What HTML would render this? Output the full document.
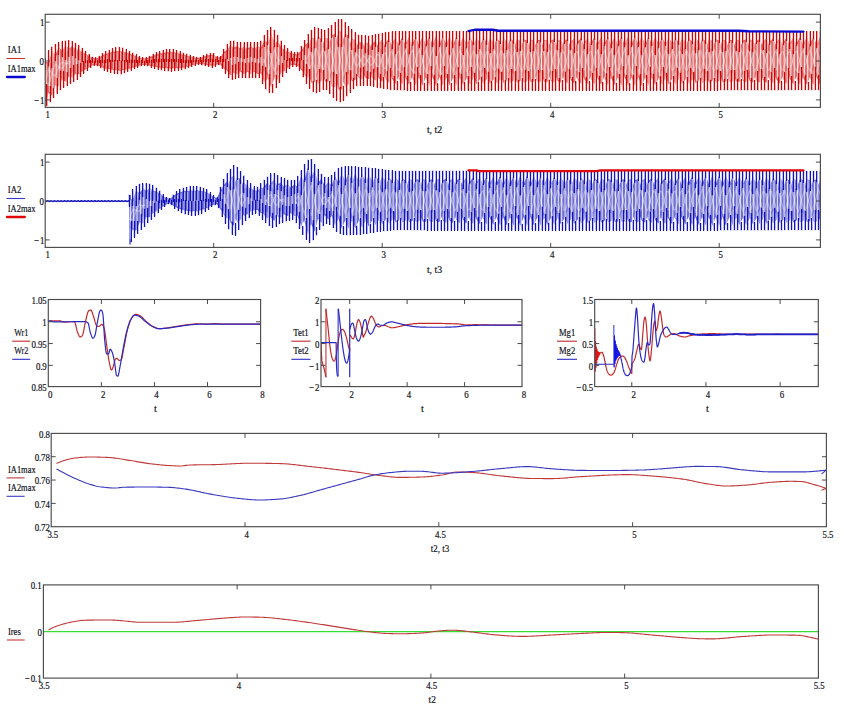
<!DOCTYPE html>
<html lang="en">
<head>
<meta charset="utf-8">
<title>Plots</title>
<style>html,body{margin:0;padding:0;background:#fff}svg{display:block}text{stroke:#14141c;stroke-width:.2px}</style>
</head>
<body>
<svg width="844" height="710" viewBox="0 0 844 710" font-family="'Liberation Serif', 'Times New Roman', serif" fill="#14141c">
<rect width="844" height="710" fill="#ffffff"/>
<defs><clipPath id="c0"><rect x="45.2" y="14.3" width="775.2" height="93.4"/></clipPath><clipPath id="c140"><rect x="45.2" y="154.3" width="775.2" height="93.4"/></clipPath></defs>
<g clip-path="url(#c0)">
<polygon points="45.2,73.69 48.57,61.87 51.94,51.34 55.31,54.44 58.68,57.43 62.05,51.22 65.42,45.52 68.79,48.32 72.16,51.73 75.53,49.89 78.9,48.91 82.27,51.85 85.64,54.16 89.01,56.07 92.38,57.96 95.75,58.54 99.12,57.42 102.49,55.53 105.86,53.88 109.23,52.92 112.6,52.49 115.97,51.8 119.34,50.81 122.71,51.41 126.08,52.83 129.45,53.84 132.82,55 136.19,56.39 139.56,57.7 142.93,58.5 146.3,58.38 149.67,57.29 153.04,55.8 156.41,54.5 159.78,53.71 163.15,52.98 166.52,52.55 169.89,52.37 173.26,52.31 176.63,53 180,54 183.37,54.94 186.74,55.74 190.11,56.64 193.48,57.45 196.85,57.99 200.22,58 203.59,56.63 206.96,55.56 210.33,54.99 213.7,54.95 217.07,57.57 220.44,57.56 223.81,52.59 227.18,49.47 230.55,45.16 233.92,47.8 237.29,50.58 240.66,48.63 244.03,46.44 247.4,48.4 250.77,50.52 254.14,48.61 257.51,46.48 260.88,47.5 264.25,51.52 267.62,45.03 270.99,33.5 274.36,41.86 277.73,50.03 281.1,48.31 284.47,49.19 287.84,51.63 291.21,53.18 294.58,54.33 297.95,54.19 301.32,50.23 304.69,49.55 308.06,47.12 311.43,37.66 314.8,38.28 318.17,48.13 321.54,46.71 324.91,38.21 328.28,38.35 331.65,46.81 335.02,44.99 338.39,31.48 341.76,31.18 345.13,44.64 348.5,47.04 351.87,39.12 355.24,40.09 358.61,47.52 361.98,49.1 365.35,43.67 368.72,42.14 372.09,47.65 375.46,49.82 378.83,43.04 382.2,39.62 385.57,46.81 388.94,50.78 392.31,42.55 395.68,37.58 399.05,46.1 402.42,51.6 405.79,42.99 409.16,36.85 412.53,45.48 415.9,52.24 419.27,43.57 422.64,36.18 426.01,44.86 429.38,52.86 432.75,44.16 436.12,35.55 439.49,44.25 442.86,52.95 446.23,44.77 449.6,36.07 452.97,43.64 456.34,52.34 459.71,45.38 463.08,36.68 466.45,43.03 469.82,51.73 473.19,45.99 476.56,37.29 479.93,42.42 483.3,51.12 486.67,46.6 490.04,37.9 493.41,41.82 496.78,50.51 500.15,47.21 503.52,38.51 506.89,41.21 510.26,49.9 513.63,47.82 517,39.12 520.37,40.6 523.74,49.3 527.11,48.43 530.48,39.73 533.85,39.99 537.22,48.69 540.59,49.03 543.96,40.34 547.33,39.38 550.7,48.08 554.07,49.64 557.44,40.95 560.81,38.77 564.18,47.47 567.55,50.25 570.92,41.55 574.29,38.16 577.66,46.86 581.03,50.86 584.4,42.16 587.77,37.55 591.14,46.25 594.51,51.47 597.88,42.77 601.25,36.94 604.62,45.64 607.99,52.08 611.36,43.38 614.73,36.34 618.1,45.03 621.47,52.69 624.84,43.99 628.21,35.73 631.58,44.43 634.95,53.12 638.32,44.6 641.69,35.91 645.06,43.82 648.43,52.51 651.8,45.21 655.17,36.53 658.54,43.22 661.91,51.89 665.28,45.82 668.65,37.15 672.02,42.62 675.39,51.28 678.76,46.43 682.13,37.77 685.5,42.02 688.87,50.67 692.24,47.04 695.61,38.39 698.98,41.42 702.35,50.06 705.72,47.64 709.09,39.01 712.46,40.83 715.83,49.46 719.2,48.25 722.57,39.63 725.94,40.24 729.31,48.85 732.68,48.85 736.05,40.25 739.42,39.65 742.79,48.25 746.16,49.45 749.53,40.87 752.9,39.07 756.27,47.65 759.64,50.05 763.01,41.48 766.38,38.49 769.75,47.05 773.12,50.64 776.49,42.09 779.86,37.91 783.23,46.45 786.6,51.23 789.97,42.7 793.34,37.34 796.71,45.86 800.08,51.82 803.45,43.31 806.82,36.77 810.19,45.27 813.56,52.41 816.93,43.92 820.3,36.2 820.3,68.9 816.93,76.62 813.56,85.12 810.19,77.99 806.82,69.49 803.45,76.03 800.08,84.55 796.71,78.59 793.34,70.07 789.97,75.44 786.6,83.98 783.23,79.2 779.86,70.66 776.49,74.85 773.12,83.4 769.75,79.81 766.38,71.26 763.01,74.25 759.64,82.82 756.27,80.43 752.9,71.85 749.53,73.65 746.16,82.24 742.79,81.04 739.42,72.45 736.05,73.05 732.68,81.66 729.31,81.66 725.94,73.05 722.57,72.45 719.2,81.07 715.83,82.28 712.46,73.65 709.09,71.84 705.72,80.48 702.35,82.9 698.98,74.26 695.61,71.23 692.24,79.88 688.87,83.52 685.5,74.86 682.13,70.62 678.76,79.28 675.39,84.14 672.02,75.47 668.65,70.01 665.28,78.68 661.91,84.76 658.54,76.08 655.17,69.4 651.8,78.08 648.43,85.38 645.06,76.69 641.69,68.79 638.32,77.48 634.95,85.99 631.58,77.3 628.21,68.61 624.84,76.87 621.47,85.57 618.1,77.91 614.73,69.22 611.36,76.26 607.99,84.96 604.62,78.52 601.25,69.83 597.88,75.65 594.51,84.35 591.14,79.13 587.77,70.43 584.4,75.04 581.03,83.74 577.66,79.74 574.29,71.04 570.92,74.44 567.55,83.13 564.18,80.35 560.81,71.65 557.44,73.83 554.07,82.52 550.7,80.96 547.33,72.26 543.96,73.22 540.59,81.92 537.22,81.57 533.85,72.87 530.48,72.61 527.11,81.31 523.74,82.18 520.37,73.48 517,72 513.63,80.7 510.26,82.79 506.89,74.09 503.52,71.39 500.15,80.09 496.78,83.39 493.41,74.7 490.04,70.78 486.67,79.48 483.3,84 479.93,75.31 476.56,70.17 473.19,78.87 469.82,84.61 466.45,75.91 463.08,69.56 459.71,78.26 456.34,85.22 452.97,76.52 449.6,68.96 446.23,77.65 442.86,85.83 439.49,77.13 436.12,68.43 432.75,77.04 429.38,85.74 426.01,77.74 422.64,69.05 419.27,76.43 415.9,85.09 412.53,78.32 409.16,69.68 405.79,75.81 402.42,84.4 399.05,78.88 395.68,70.32 392.31,75.14 388.94,83.11 385.57,78.78 382.2,71.2 378.83,74.22 375.46,80.51 372.09,77.71 368.72,71.85 365.35,73.42 361.98,78.99 358.61,77.64 355.24,71.56 351.87,73.11 348.5,84.63 345.13,86.74 341.76,76.81 338.39,76.94 335.02,87.42 331.65,85.93 328.28,73.36 324.91,71.12 321.54,80.67 318.17,83.97 314.8,74.66 311.43,71.06 308.06,77.68 304.69,75.25 301.32,69.59 297.95,65.51 294.58,64.85 291.21,65.11 287.84,67.33 284.47,69.38 281.1,73.47 277.73,80.07 274.36,75.43 270.99,70.02 267.62,78.79 264.25,82.05 260.88,72.91 257.51,69.96 254.14,72.08 250.77,73.99 247.4,71.87 244.03,69.82 240.66,71.86 237.29,74.38 233.92,72.82 230.55,70.02 227.18,70.67 223.81,68.45 220.44,64.57 217.07,64.36 213.7,65.62 210.33,65.47 206.96,64.9 203.59,64.36 200.22,63.92 196.85,64.06 193.48,64.8 190.11,65.82 186.74,66.79 183.37,67.4 180,67.81 176.63,68.05 173.26,68.19 169.89,68.43 166.52,68.2 163.15,67.83 159.78,67.47 156.41,67.02 153.04,66.28 149.67,65.44 146.3,64.83 142.93,64.78 139.56,65.42 136.19,66.45 132.82,67.55 129.45,68.44 126.08,69.47 122.71,69.71 119.34,69.73 115.97,70.3 112.6,69.99 109.23,69.07 105.86,68.52 102.49,67.25 99.12,65.69 95.75,64.75 92.38,65.35 89.01,67.24 85.64,69.21 82.27,70.87 78.9,71.26 75.53,74.37 72.16,77.86 68.79,75.66 65.42,73.65 62.05,79.96 58.68,86.87 55.31,84.75 51.94,82.35 48.57,92.96 45.2,103.24" fill="#e99494"/>
<polygon points="45.2,62.56 48.57,61.63 51.94,64.52 55.31,55.07 58.68,47.24 62.05,50.37 65.42,53.68 68.79,49.3 72.16,45.92 75.53,49.09 78.9,51.8 82.27,52.15 85.64,54.03 89.01,56.07 92.38,57.96 95.75,58.54 99.12,57.42 102.49,55.53 105.86,53.92 109.23,53.08 112.6,51.86 115.97,51.31 119.34,51.77 122.71,51.91 126.08,52.46 129.45,53.82 132.82,55 136.19,56.39 139.56,57.7 142.93,58.5 146.3,58.38 149.67,57.29 153.04,55.8 156.41,54.5 159.78,53.71 163.15,53.05 166.52,52.43 169.89,52.08 173.26,52.45 176.63,53.11 180,54 183.37,54.94 186.74,55.74 190.11,56.64 193.48,57.45 196.85,57.99 200.22,58 203.59,56.63 206.96,55.56 210.33,54.99 213.7,54.95 217.07,57.57 220.44,57.56 223.81,52.23 227.18,49.66 230.55,50.36 233.92,47.6 237.29,46.1 240.66,48.64 244.03,50.62 247.4,48.53 250.77,46.41 254.14,48.32 257.51,50.44 260.88,48.11 264.25,40.26 267.62,42.54 270.99,50.38 274.36,44.96 277.73,40.33 281.1,47.13 284.47,50.89 287.84,51.71 291.21,53.18 294.58,54.33 297.95,54.19 301.32,50.77 304.69,45.31 308.06,42.74 311.43,49.34 314.8,45.74 318.17,36.26 321.54,39.1 324.91,48.38 328.28,46.84 331.65,35.33 335.02,33.91 338.39,43.97 341.76,43.96 345.13,33.87 348.5,35.8 351.87,47.18 355.24,48.56 358.61,42.69 361.98,41.9 365.35,47.86 368.72,49.55 372.09,43.68 375.46,40.88 378.83,47.19 382.2,50.25 385.57,42.7 388.94,38.43 392.31,46.43 395.68,51.27 399.05,42.72 402.42,37.2 405.79,45.79 409.16,51.92 412.53,43.28 415.9,36.51 419.27,45.17 422.64,52.55 426.01,43.86 429.38,35.86 432.75,44.56 436.12,53.17 439.49,44.47 442.86,35.77 446.23,43.95 449.6,52.64 452.97,45.08 456.34,36.38 459.71,43.34 463.08,52.04 466.45,45.69 469.82,36.99 473.19,42.73 476.56,51.43 479.93,46.29 483.3,37.6 486.67,42.12 490.04,50.82 493.41,46.9 496.78,38.21 500.15,41.51 503.52,50.21 506.89,47.51 510.26,38.81 513.63,40.9 517,49.6 520.37,48.12 523.74,39.42 527.11,40.29 530.48,48.99 533.85,48.73 537.22,40.03 540.59,39.68 543.96,48.38 547.33,49.34 550.7,40.64 554.07,39.08 557.44,47.77 560.81,49.95 564.18,41.25 567.55,38.47 570.92,47.16 574.29,50.56 577.66,41.86 581.03,37.86 584.4,46.56 587.77,51.17 591.14,42.47 594.51,37.25 597.88,45.95 601.25,51.77 604.62,43.08 607.99,36.64 611.36,45.34 614.73,52.38 618.1,43.69 621.47,36.03 624.84,44.73 628.21,52.99 631.58,44.3 634.95,35.61 638.32,44.12 641.69,52.81 645.06,44.91 648.43,36.22 651.8,43.52 655.17,52.2 658.54,45.52 661.91,36.84 665.28,42.92 668.65,51.59 672.02,46.13 675.39,37.46 678.76,42.32 682.13,50.98 685.5,46.74 688.87,38.08 692.24,41.72 695.61,50.37 698.98,47.34 702.35,38.7 705.72,41.12 709.09,49.76 712.46,47.95 715.83,39.32 719.2,40.53 722.57,49.15 725.94,48.55 729.31,39.94 732.68,39.94 736.05,48.55 739.42,49.15 742.79,40.56 746.16,39.36 749.53,47.95 752.9,49.75 756.27,41.17 759.64,38.78 763.01,47.35 766.38,50.34 769.75,41.79 773.12,38.2 776.49,46.75 779.86,50.94 783.23,42.4 786.6,37.62 789.97,46.16 793.34,51.53 796.71,43.01 800.08,37.05 803.45,45.57 806.82,52.11 810.19,43.61 813.56,36.48 816.93,44.98 820.3,52.7 820.3,85.4 816.93,77.68 813.56,69.19 810.19,76.33 806.82,84.83 803.45,78.29 800.08,69.78 796.71,75.74 793.34,84.26 789.97,78.9 786.6,70.37 783.23,75.15 779.86,83.69 776.49,79.51 773.12,70.96 769.75,74.55 766.38,83.11 763.01,80.12 759.64,71.55 756.27,73.95 752.9,82.53 749.53,80.73 746.16,72.15 742.79,73.35 739.42,81.95 736.05,81.35 732.68,72.75 729.31,72.75 725.94,81.36 722.57,81.97 719.2,73.35 715.83,72.14 712.46,80.77 709.09,82.59 705.72,73.96 702.35,71.54 698.98,80.18 695.61,83.21 692.24,74.56 688.87,70.93 685.5,79.58 682.13,83.83 678.76,75.17 675.39,70.32 672.02,78.98 668.65,84.45 665.28,75.78 661.91,69.71 658.54,78.38 655.17,85.07 651.8,76.39 648.43,69.09 645.06,77.78 641.69,85.69 638.32,77 634.95,68.48 631.58,77.17 628.21,85.87 624.84,77.61 621.47,68.91 618.1,76.57 614.73,85.26 611.36,78.22 607.99,69.52 604.62,75.96 601.25,84.66 597.88,78.83 594.51,70.13 591.14,75.35 587.77,84.05 584.4,79.44 581.03,70.74 577.66,74.74 574.29,83.44 570.92,80.05 567.55,71.35 564.18,74.13 560.81,82.83 557.44,80.65 554.07,71.96 550.7,73.52 547.33,82.22 543.96,81.26 540.59,72.57 537.22,72.91 533.85,81.61 530.48,81.87 527.11,73.17 523.74,72.3 520.37,81 517,82.48 513.63,73.78 510.26,71.7 506.89,80.39 503.52,83.09 500.15,74.39 496.78,71.09 493.41,79.78 490.04,83.7 486.67,75 483.3,70.48 479.93,79.18 476.56,84.31 473.19,75.61 469.82,69.87 466.45,78.57 463.08,84.92 459.71,76.22 456.34,69.26 452.97,77.96 449.6,85.53 446.23,76.83 442.86,68.65 439.49,77.35 436.12,86.05 432.75,77.44 429.38,68.74 426.01,76.74 422.64,85.42 419.27,78.03 415.9,69.36 412.53,76.12 409.16,84.75 405.79,78.61 402.42,70 399.05,75.5 395.68,84.02 392.31,79.03 388.94,70.75 385.57,74.68 382.2,81.83 378.83,78.36 375.46,71.57 372.09,73.74 368.72,79.26 365.35,77.61 361.98,71.79 358.61,72.81 355.24,80.03 351.87,81.17 348.5,73.39 345.13,75.96 341.76,89.59 338.39,89.43 335.02,76.33 331.65,74.45 328.28,81.85 324.91,81.29 321.54,73.07 318.17,72.11 314.8,82.12 311.43,82.74 308.06,73.3 304.69,71 301.32,70.12 297.95,65.51 294.58,64.85 291.21,65.11 287.84,67.41 284.47,71.07 281.1,72.29 277.73,70.37 274.36,78.54 270.99,86.9 267.62,76.3 264.25,70.79 260.88,73.51 257.51,73.92 254.14,71.79 250.77,69.88 247.4,72 244.03,74 240.66,71.87 237.29,69.89 233.92,72.61 230.55,75.22 227.18,70.87 223.81,68.09 220.44,64.57 217.07,64.36 213.7,65.62 210.33,65.47 206.96,64.9 203.59,64.36 200.22,63.92 196.85,64.06 193.48,64.8 190.11,65.82 186.74,66.79 183.37,67.4 180,67.81 176.63,68.16 173.26,68.33 169.89,68.14 166.52,68.08 163.15,67.9 159.78,67.47 156.41,67.02 153.04,66.28 149.67,65.44 146.3,64.83 142.93,64.78 139.56,65.42 136.19,66.45 132.82,67.55 129.45,68.42 126.08,69.09 122.71,70.21 119.34,70.69 115.97,69.81 112.6,69.37 109.23,69.23 105.86,68.56 102.49,67.25 99.12,65.69 95.75,64.75 92.38,65.35 89.01,67.24 85.64,69.08 82.27,71.17 78.9,74.16 75.53,73.57 72.16,72.05 68.79,76.64 65.42,81.81 62.05,79.11 58.68,76.67 55.31,85.38 51.94,95.53 48.57,92.73 45.2,92.11" fill="#de6c6c"/>
<polyline points="45.2,82.9 46.89,83.24 48.57,85.3 50.26,79.61 51.94,73.71 53.63,68.34 55.31,63.86 57,65.28 58.68,66.73 60.37,67.73 62.05,68.3 63.74,66.12 65.42,63.92 67.11,62.29 68.79,61.34 70.48,61.73" fill="none" stroke="#fff" stroke-width="1.4" stroke-opacity="0.32"/>
<polyline points="45.2,82.9 46.89,76.17 48.57,69.29 50.26,70.88 51.94,73.16 53.63,74.96 55.31,75.96 57,71.4 58.68,67.37 60.37,64.37 62.05,62.03 63.74,62.63 65.42,63.41 67.11,63.78 68.79,63.62 70.48,62.46" fill="none" stroke="#fff" stroke-width="1.4" stroke-opacity="0.32"/>
<polyline points="262.57,59.34 264.25,60.35 265.94,64.93 267.62,71.28 269.31,68.71 270.99,62.22 272.68,55.8 274.36,50.06 276.05,53.51 277.73,59.11 279.42,60.88" fill="none" stroke="#fff" stroke-width="1.4" stroke-opacity="0.32"/>
<polyline points="262.57,62.53 264.25,61.96 265.94,57.05 267.62,50.05 269.31,51.98 270.99,58.18 272.68,64.6 274.36,70.34 276.05,66.88 277.73,61.29 279.42,59.6" fill="none" stroke="#fff" stroke-width="1.4" stroke-opacity="0.32"/>
<polyline points="306.38,60.73 308.06,64.77 309.75,69.1 311.43,64.56 313.12,58.5 314.8,51.95 316.49,48.47 318.17,54.99 319.86,61.26 321.54,67.17 323.23,70.88 324.91,64.85 326.6,59.07 328.28,53.03 329.97,47.54 331.65,54.06 333.34,61.14 335.02,68.7 336.71,76.41 338.39,68.66 340.08,60.48 341.76,52.32 343.45,44.64 345.13,52.18 346.82,59.68 348.5,66.39 350.19,72.49 351.87,67.13 353.56,60.95 355.24,56.27 356.93,53.68 358.61,56.58 360.3,59.7 361.98,62.56 363.67,65.24 365.35,63.96 367.04,61.42 368.72,58.9 370.41,56.18 372.09,56.78 373.78,59.55 375.46,62.96 377.15,67.01 378.83,66.56 380.52,62.58 382.2,58.1 383.89,53.11 385.57,53.07 387.26,58.07 388.94,63.57 390.63,69.37 392.31,69.84 394,64.1 395.68,58.3 397.37,52.48 399.05,51.25 400.74,57.07 402.42,62.9 404.11,68.73 405.79,70.78 407.48,64.95 409.16,59.11 410.85,53.26 412.53,50.4 414.22,56.24 415.9,62.09 417.59,67.94 419.27,71.63 420.96,65.77 422.64,59.92 424.33,54.07 426.01,49.56 427.7,55.41 429.38,61.27 431.07,67.13 432.75,72.46 434.44,66.6 436.12,60.74 437.81,54.88 439.49,49.03 441.18,54.59 442.86,60.45 444.55,66.31 446.23,72.16 447.92,67.42 449.6,61.56 451.29,55.7 452.97,49.85 454.66,53.77 456.34,59.63 458.03,65.49 459.71,71.34 461.4,68.24 463.08,62.38 464.77,56.52 466.45,50.67 468.14,52.95 469.82,58.81 471.51,64.67 473.19,70.52 474.88,69.06 476.56,63.2 478.25,57.34 479.93,51.49 481.62,52.13 483.3,57.99 484.99,63.85 486.67,69.7 488.36,69.88 490.04,64.02 491.73,58.16 493.41,52.31 495.1,51.31 496.78,57.17 498.47,63.03 500.15,68.88 501.84,70.7 503.52,64.84 505.21,58.98 506.89,53.13 508.58,50.49 510.26,56.35 511.95,62.21 513.63,68.06 515.32,71.52 517,65.66 518.69,59.8 520.37,53.95 522.06,49.67 523.74,55.53 525.43,61.39 527.11,67.24 528.8,72.34 530.48,66.48 532.17,60.62 533.85,54.77 535.54,48.91 537.22,54.71 538.91,60.57 540.59,66.42 542.28,72.28 543.96,67.3 545.65,61.44 547.33,55.59 549.02,49.73 550.7,53.89 552.39,59.75 554.07,65.6 555.76,71.46 557.44,68.12 559.13,62.26 560.81,56.41 562.5,50.55 564.18,53.07 565.87,58.93 567.55,64.78 569.24,70.64 570.92,68.94 572.61,63.08 574.29,57.23 575.98,51.37 577.66,52.25 579.35,58.11 581.03,63.96 582.72,69.82 584.4,69.76 586.09,63.9 587.77,58.05 589.46,52.19 591.14,51.43 592.83,57.29 594.51,63.14 596.2,69 597.88,70.58 599.57,64.72 601.25,58.87 602.94,53.01 604.62,50.61 606.31,56.47 607.99,62.32 609.68,68.18 611.36,71.4 613.05,65.54 614.73,59.69 616.42,53.83 618.1,49.79 619.79,55.65 621.47,61.5 623.16,67.36 624.84,72.22 626.53,66.36 628.21,60.51 629.9,54.65 631.58,48.97 633.27,54.83 634.95,60.68 636.64,66.54 638.32,72.39 640.01,67.18 641.69,61.33 643.38,55.47 645.06,49.62 646.75,54.01 648.43,59.86 650.12,65.72 651.8,71.57 653.49,68 655.17,62.15 656.86,56.29 658.54,50.44 660.23,53.19 661.91,59.04 663.6,64.9 665.28,70.75 666.97,68.82 668.65,62.96 670.34,57.11 672.02,51.27 673.71,52.38 675.39,58.23 677.08,64.08 678.76,69.92 680.45,69.63 682.13,63.78 683.82,57.94 685.5,52.09 687.19,51.56 688.87,57.41 690.56,63.25 692.24,69.1 693.93,70.44 695.61,64.6 697.3,58.75 698.98,52.91 700.67,50.75 702.35,56.59 704.04,62.44 705.72,68.28 707.41,71.25 709.09,65.41 710.78,59.57 712.46,53.73 714.15,49.94 715.83,55.78 717.52,61.62 719.2,67.45 720.89,72.06 722.57,66.23 724.26,60.39 725.94,54.56 727.63,49.13 729.31,54.97 731,60.8 732.68,66.63 734.37,72.46 736.05,67.04 737.74,61.21 739.42,55.38 741.11,49.55 742.79,54.15 744.48,59.98 746.16,65.81 747.85,71.64 749.53,67.85 751.22,62.02 752.9,56.2 754.59,50.37 756.27,53.35 757.96,59.17 759.64,64.99 761.33,70.81 763.01,68.66 764.7,62.84 766.38,57.02 768.07,51.2 769.75,52.54 771.44,58.36 773.12,64.17 774.81,69.99 776.49,69.47 778.18,63.65 779.86,57.83 781.55,52.02 783.23,51.73 784.92,57.54 786.6,63.36 788.29,69.17 789.97,70.27 791.66,64.46 793.34,58.65 795.03,52.84 796.71,50.93 798.4,56.73 800.08,62.54 801.77,68.35 803.45,71.08 805.14,65.27 806.82,59.47 808.51,53.66 810.19,50.12 811.88,55.93 813.56,61.73 815.25,67.53 816.93,71.88 818.62,66.08 820.3,60.28" fill="none" stroke="#fff" stroke-width="1.4" stroke-opacity="0.32"/>
<polyline points="306.38,59.76 308.06,55.65 309.75,51.3 311.43,55.84 313.12,61.9 314.8,68.45 316.49,71.91 318.17,65.24 319.86,58.76 321.54,52.6 323.23,48.71 324.91,54.65 326.6,60.62 328.28,67.17 329.97,73.25 331.65,67.2 333.34,60.27 335.02,52.63 336.71,44.71 338.39,52.25 340.08,60.32 341.76,68.46 343.45,76.06 345.13,68.43 346.82,60.82 348.5,54.03 350.19,47.89 351.87,53.16 353.56,59.23 355.24,63.85 356.93,66.47 358.61,63.75 360.3,60.93 361.98,58.34 363.67,55.88 365.35,57.32 367.04,59.95 368.72,62.5 370.41,65.22 372.09,64.61 373.78,61.85 375.46,58.43 377.15,54.38 378.83,54.85 380.52,58.85 382.2,63.34 383.89,68.36 385.57,68.42 387.26,63.44 388.94,57.97 390.63,52.19 392.31,51.74 394,57.49 395.68,63.3 397.37,69.12 399.05,70.35 400.74,64.53 402.42,58.7 404.11,52.87 405.79,50.82 407.48,56.66 409.16,62.49 410.85,68.34 412.53,71.2 414.22,65.36 415.9,59.51 417.59,53.66 419.27,49.97 420.96,55.83 422.64,61.68 424.33,67.53 426.01,72.04 427.7,66.19 429.38,60.33 431.07,54.47 432.75,49.14 434.44,55 436.12,60.86 437.81,66.72 439.49,72.57 441.18,67.01 442.86,61.15 444.55,55.29 446.23,49.44 447.92,54.18 449.6,60.04 451.29,65.9 452.97,71.75 454.66,67.83 456.34,61.97 458.03,56.11 459.71,50.26 461.4,53.36 463.08,59.22 464.77,65.08 466.45,70.93 468.14,68.65 469.82,62.79 471.51,56.93 473.19,51.08 474.88,52.54 476.56,58.4 478.25,64.26 479.93,70.11 481.62,69.47 483.3,63.61 484.99,57.75 486.67,51.9 488.36,51.72 490.04,57.58 491.73,63.44 493.41,69.29 495.1,70.29 496.78,64.43 498.47,58.57 500.15,52.72 501.84,50.9 503.52,56.76 505.21,62.62 506.89,68.47 508.58,71.11 510.26,65.25 511.95,59.39 513.63,53.54 515.32,50.08 517,55.94 518.69,61.8 520.37,67.65 522.06,71.93 523.74,66.07 525.43,60.21 527.11,54.36 528.8,49.26 530.48,55.12 532.17,60.98 533.85,66.83 535.54,72.69 537.22,66.89 538.91,61.03 540.59,55.18 542.28,49.32 543.96,54.3 545.65,60.16 547.33,66.01 549.02,71.87 550.7,67.71 552.39,61.85 554.07,56 555.76,50.14 557.44,53.48 559.13,59.34 560.81,65.19 562.5,71.05 564.18,68.53 565.87,62.67 567.55,56.82 569.24,50.96 570.92,52.66 572.61,58.52 574.29,64.37 575.98,70.23 577.66,69.35 579.35,63.49 581.03,57.64 582.72,51.78 584.4,51.84 586.09,57.7 587.77,63.55 589.46,69.41 591.14,70.17 592.83,64.31 594.51,58.46 596.2,52.6 597.88,51.02 599.57,56.88 601.25,62.73 602.94,68.59 604.62,70.99 606.31,65.13 607.99,59.28 609.68,53.42 611.36,50.2 613.05,56.06 614.73,61.91 616.42,67.77 618.1,71.81 619.79,65.95 621.47,60.1 623.16,54.24 624.84,49.38 626.53,55.24 628.21,61.09 629.9,66.95 631.58,72.63 633.27,66.77 634.95,60.92 636.64,55.06 638.32,49.21 640.01,54.42 641.69,60.27 643.38,66.13 645.06,71.98 646.75,67.59 648.43,61.74 650.12,55.88 651.8,50.03 653.49,53.6 655.17,59.45 656.86,65.31 658.54,71.16 660.23,68.41 661.91,62.56 663.6,56.7 665.28,50.85 666.97,52.78 668.65,58.64 670.34,64.49 672.02,70.33 673.71,69.22 675.39,63.37 677.08,57.52 678.76,51.68 680.45,51.97 682.13,57.82 683.82,63.66 685.5,69.51 687.19,70.04 688.87,64.19 690.56,58.35 692.24,52.5 693.93,51.16 695.61,57 697.3,62.85 698.98,68.69 700.67,70.85 702.35,65.01 704.04,59.16 705.72,53.32 707.41,50.35 709.09,56.19 710.78,62.03 712.46,67.87 714.15,71.66 715.83,65.82 717.52,59.98 719.2,54.15 720.89,49.54 722.57,55.37 724.26,61.21 725.94,67.04 727.63,72.47 729.31,66.63 731,60.8 732.68,54.97 734.37,49.14 736.05,54.56 737.74,60.39 739.42,66.22 741.11,72.05 742.79,67.45 744.48,61.62 746.16,55.79 747.85,49.96 749.53,53.75 751.22,59.58 752.9,65.4 754.59,71.23 756.27,68.25 757.96,62.43 759.64,56.61 761.33,50.79 763.01,52.94 764.7,58.76 766.38,64.58 768.07,70.4 769.75,69.06 771.44,63.24 773.12,57.43 774.81,51.61 776.49,52.13 778.18,57.95 779.86,63.77 781.55,69.58 783.23,69.87 784.92,64.06 786.6,58.24 788.29,52.43 789.97,51.33 791.66,57.14 793.34,62.95 795.03,68.76 796.71,70.67 798.4,64.87 800.08,59.06 801.77,53.25 803.45,50.52 805.14,56.33 806.82,62.13 808.51,67.94 810.19,71.48 811.88,65.67 813.56,59.87 815.25,54.07 816.93,49.72 818.62,55.52 820.3,61.32" fill="none" stroke="#fff" stroke-width="1.4" stroke-opacity="0.32"/>
<path d="M46.11 63.56V102.24M49.48 62.63V91.96M52.85 52.34V94.53M56.22 55.44V84.38M59.59 48.24V85.87M62.96 51.37V78.96M66.33 46.52V80.81M69.7 49.32V75.64M73.07 46.92V76.86M76.44 50.09V73.37M79.81 49.91V73.16M83.18 52.85V70.17M86.55 55.03V68.21M89.92 57.07V66.24M93.29 58.96V64.35M96.66 59.54V63.75M100.03 58.42V64.69M103.4 56.53V66.25M106.77 54.88V67.56M110.14 53.92V68.23M113.51 52.86V68.99M116.88 52.31V69.3M120.25 51.81V69.69M123.62 52.41V69.21M126.99 53.46V68.47M130.36 54.82V67.44M133.73 56V66.55M137.1 57.39V65.45M140.47 58.7V64.42M143.84 59.5V63.78M147.21 59.38V63.83M150.58 58.29V64.44M153.95 56.8V65.28M157.32 55.5V66.02M160.69 54.71V66.47M164.06 53.98V66.9M167.43 53.43V67.2M170.8 53.08V67.43M174.17 53.31V67.33M177.54 54V67.16M180.91 55V66.81M184.28 55.94V66.4M187.65 56.74V65.79M191.02 57.64V64.82M194.39 58.45V63.8M197.76 58.99V63.06M201.13 59V62.92M204.5 57.63V63.36M207.87 56.56V63.9M211.24 55.99V64.47M214.61 55.95V64.62M217.98 58.57V63.36M221.35 58.56V63.57M224.72 53.23V67.45M228.09 50.47V69.87M231.46 46.16V74.22M234.83 48.6V71.82M238.2 47.1V73.38M241.57 49.63V70.87M244.94 47.44V73M248.31 49.4V71M251.68 47.41V72.99M255.05 49.32V71.08M258.42 47.48V72.92M261.79 48.5V72.51M265.16 41.26V81.05M268.53 43.54V77.79M271.9 34.5V85.9M275.27 42.86V77.54M278.64 41.33V79.07M282.01 48.13V72.47M285.38 50.19V70.07M288.75 52.63V66.41M292.12 54.18V64.11M295.49 55.33V63.85M298.86 55.19V64.51M302.23 51.23V69.12M305.6 46.31V74.25M308.97 43.74V76.68M312.34 38.66V81.74M315.71 39.28V81.12M319.08 37.26V82.97M322.45 40.1V79.67M325.82 39.21V80.29M329.19 39.35V80.85M332.56 36.33V84.93M335.93 34.91V86.42M339.3 32.48V88.43M342.67 32.18V88.59M346.04 34.87V85.74M349.41 36.8V83.63M352.78 40.12V80.17M356.15 41.09V79.03M359.52 43.69V76.64M362.89 42.9V77.99M366.26 44.67V76.61M369.63 43.14V78.26M373 44.68V76.71M376.37 41.88V79.51M379.74 44.04V77.36M383.11 40.62V80.83M386.48 43.7V77.78M389.85 39.43V82.11M393.22 43.55V78.03M396.59 38.58V83.02M399.96 43.72V77.88M403.33 38.2V83.4M406.7 43.99V77.61M410.07 37.85V83.75M413.44 44.28V77.32M416.81 37.51V84.09M420.18 44.57V77.03M423.55 37.18V84.42M426.92 44.86V76.74M430.29 36.86V84.74M433.66 45.16V76.44M437.03 36.55V85.05M440.4 45.25V76.35M443.77 36.77V84.83M447.14 44.95V76.65M450.51 37.07V84.53M453.88 44.64V76.96M457.25 37.38V84.22M460.62 44.34V77.26M463.99 37.68V83.92M467.36 44.03V77.57M470.73 37.99V83.61M474.1 43.73V77.87M477.47 38.29V83.31M480.84 43.42V78.18M484.21 38.6V83M487.58 43.12V78.48M490.95 38.9V82.7M494.32 42.82V78.78M497.69 39.21V82.39M501.06 42.51V79.09M504.43 39.51V82.09M507.8 42.21V79.39M511.17 39.81V81.79M514.54 41.9V79.7M517.91 40.12V81.48M521.28 41.6V80M524.65 40.42V81.18M528.02 41.29V80.31M531.39 40.73V80.87M534.76 40.99V80.61M538.13 41.03V80.57M541.5 40.68V80.92M544.87 41.34V80.26M548.24 40.38V81.22M551.61 41.64V79.96M554.98 40.08V81.52M558.35 41.95V79.65M561.72 39.77V81.83M565.09 42.25V79.35M568.46 39.47V82.13M571.83 42.55V79.05M575.2 39.16V82.44M578.57 42.86V78.74M581.94 38.86V82.74M585.31 43.16V78.44M588.68 38.55V83.05M592.05 43.47V78.13M595.42 38.25V83.35M598.79 43.77V77.83M602.16 37.94V83.66M605.53 44.08V77.52M608.9 37.64V83.96M612.27 44.38V77.22M615.64 37.34V84.26M619.01 44.69V76.91M622.38 37.03V84.57M625.75 44.99V76.61M629.12 36.73V84.87M632.49 45.3V76.3M635.86 36.61V84.99M639.23 45.12V76.48M642.6 36.91V84.69M645.97 44.82V76.78M649.34 37.22V84.38M652.71 44.52V77.08M656.08 37.53V84.07M659.45 44.22V77.38M662.82 37.84V83.76M666.19 43.92V77.68M669.56 38.15V83.45M672.93 43.62V77.98M676.3 38.46V83.14M679.67 43.32V78.28M683.04 38.77V82.83M686.41 43.02V78.58M689.78 39.08V82.52M693.15 42.72V78.88M696.52 39.39V82.21M699.89 42.42V79.18M703.26 39.7V81.9M706.63 42.12V79.48M710 40.01V81.59M713.37 41.83V79.77M716.74 40.32V81.28M720.11 41.53V80.07M723.48 40.63V80.97M726.85 41.24V80.36M730.22 40.94V80.66M733.59 40.94V80.66M736.96 41.25V80.35M740.33 40.65V80.95M743.7 41.56V80.04M747.07 40.36V81.24M750.44 41.87V79.73M753.81 40.07V81.53M757.18 42.17V79.43M760.55 39.78V81.82M763.92 42.48V79.12M767.29 39.49V82.11M770.66 42.79V78.81M774.03 39.2V82.4M777.4 43.09V78.51M780.77 38.91V82.69M784.14 43.4V78.2M787.51 38.62V82.98M790.88 43.7V77.9M794.25 38.34V83.26M797.62 44.01V77.59M800.99 38.05V83.55M804.36 44.31V77.29M807.73 37.77V83.83M811.1 44.61V76.99M814.47 37.48V84.12M817.84 44.92V76.68M821.21 37.2V84.4" stroke="#fff" stroke-width="0.85" fill="none"/>
<path d="M45.2 58V70.22M46.89 106.14V84.4M48.57 50.27V66.42M50.26 102.37V85.96M51.94 46.53V68.36M53.63 98.12V87.59M55.31 43.99V60.57M57 93.66V77.94M58.68 42.31V54.92M60.37 90.33V70.57M62.05 41.3V57.37M63.74 87.87V71.45M65.42 40.55V59.58M67.11 85.72V72.29M68.79 40.31V56.91M70.48 83.64V68.07M72.16 41.09V55.69M73.84 81.74V64.7M75.53 42.7V58.39M77.22 79.68V64.44M78.9 44.63V60.45M80.59 76.95V63.34M82.27 47.68V61.82M83.96 73.7V61.27M85.64 51.1V63.27M87.33 70.76V60.14M89.01 53.89V63.18M90.7 68V60.29M92.38 56.52V62.87M94.06 66.03V60.53M95.75 57.34V62.76M97.44 66.44V60.43M99.12 55.81V62.84M100.81 68.38V60.05M102.49 53.25V62.97M104.18 70.59V59.59M105.86 51.03V62.97M107.55 71.96V59.34M109.23 49.67V62.44M110.92 72.99V59.61M112.6 48.4V61.79M114.29 73.86V59.91M115.97 47.42V61.27M117.66 74.4V60.22M119.34 47V61.16M121.03 74.39V60.53M122.71 47.6V61.44M124.4 73.45V60.33M126.08 49.16V62.15M127.77 72.02V59.87M129.45 50.98V62.89M131.13 70.65V59.53M132.82 52.56V62.92M134.5 69.22V59.8M136.19 54.44V62.86M137.88 67.62V60.16M139.56 56.2V62.8M141.25 66.36V60.44M142.93 57.28V62.76M144.62 65.9V60.54M146.3 57.12V62.74M147.99 66.48V60.31M149.67 55.7V62.65M151.36 67.66V59.83M153.04 53.77V62.52M154.73 68.94V59.32M156.41 52.07V62.4M158.1 69.81V58.98M159.78 51.04V62.34M161.47 70.48V58.72M163.15 50.08V62.14M164.84 71.08V58.64M166.52 49.32V61.81M168.21 71.49V58.76M169.89 48.92V61.62M171.57 71.59V58.87M173.26 49.14V61.76M174.94 71.33V59.02M176.63 50.06V62.23M178.31 70.81V59.13M180 51.31V62.65M181.69 70.16V59.36M183.37 52.51V62.81M185.06 69.46V59.65M186.74 53.59V62.79M188.43 68.3V59.81M190.11 54.85V62.59M191.8 66.9V59.89M193.48 56.01V62.34M195.17 65.66V59.92M196.85 56.81V62.13M198.54 65.02V59.92M200.22 56.85V62.05M201.91 65.39V59.6M203.59 55.13V61.74M205.28 66.34V58.97M206.96 53.75V61.61M208.64 67.12V58.79M210.33 52.96V61.7M212.01 67.75V58.75M213.7 52.88V61.77M215.38 66.82V59.23M217.07 56.25V62.13M218.75 65.01V60.14M220.44 56.19V62.25M222.12 68.56V59.15M223.81 49.17V61.76M225.5 73.71V58.58M227.18 44.36V59.34M228.87 78.1V61.26M230.55 40.77V57.94M232.24 80.09V65.03M233.92 40.62V56.55M235.61 79.21V63.65M237.29 41.91V56.69M238.98 78.09V61.86M240.66 42.49V58.06M242.35 78.05V62.43M244.03 42.32V58.75M245.72 78.18V63.34M247.4 42.2V57.86M249.09 78.2V62.59M250.77 42.2V57.01M252.45 78.2V61.74M254.14 42.2V57.78M255.82 78.2V62.51M257.51 42.2V58.63M259.19 78.3V63.39M260.88 40.5V56.71M262.56 84.18V65.8M264.25 34.93V46.67M265.94 89.42V66.84M267.62 29.98V44.98M269.31 92.82V74.34M270.99 27V52.97M272.68 92.64V83.74M274.36 29.68V47.39M276.05 88.23V74.76M277.73 34.64V47.21M279.42 83.08V65.04M281.1 40.55V56.27M282.79 77.24V63.17M284.47 45.26V60.05M286.16 72.73V60.2M287.84 48.48V61M289.53 68.72V57.9M291.21 50.86V60.74M292.9 66.9V57.77M294.58 52.29V61.07M296.26 66.9V58.34M297.95 51.98V61.39M299.63 70.62V58.13M301.32 46.05V60.36M303 77.45V60.32M304.69 39.96V54.97M306.38 83.73V63.94M308.06 33.94V48.47M309.75 88.57V69.08M311.43 29.83V51.76M313.12 92.25V81.47M314.8 27.13V48.33M316.49 93.31V79.55M318.17 27.53V38.82M319.86 91.77V69.19M321.54 29.01V41.56M323.23 89.96V70.26M324.91 29.9V50.87M326.6 90.23V79.18M328.28 28.28V49.35M329.96 94.1V80.81M331.65 25.07V38.07M333.33 97.73V72.27M335.02 22.1V36.82M336.7 100.67V73.85M338.39 19.13V47.05M340.07 102.29V86.66M341.76 18.91V47.05M343.44 100.51V85.62M345.13 22.04V36.76M346.81 96.41V72.28M348.5 26.04V38.45M350.19 92.77V70.2M351.87 29.24V49.64M353.56 89.26V77.59M355.24 32.48V52.41M356.93 86.42V74.47M358.61 34.51V48.96M360.3 85.8V67.69M361.98 35.1V48.69M363.67 85.8V66.76M365.35 35.48V53.43M367.04 85.8V71.05M368.72 35.6V54.76M370.4 85.96V72.31M372.09 35.12V49.92M373.77 86.7V68.52M375.46 34.25V46.87M377.14 87.54V67.27M378.83 33.56V51.58M380.51 88.15V73.53M382.2 32.98V53.88M383.88 88.78V77.19M385.57 32.4V46.64M387.25 89.39V71.21M388.94 31.87V42.09M390.62 89.91V67.85M392.31 31.46V49.34M394 90.27V76.08M395.68 31.23V53.89M397.37 90.41V81.13M399.05 31.18V45.47M400.74 90.44V72.82M402.42 31.14V40.02M404.11 90.47V67.44M405.79 31.11V48.44M407.48 90.5V75.93M409.16 31.09V54.46M410.85 90.52V82M412.53 31.06V45.92M414.21 90.55V73.51M415.9 31.05V39.22M417.58 90.56V66.85M419.27 31.03V47.76M420.95 90.58V75.43M422.64 31.02V55.05M424.32 90.59V82.75M426.01 31.01V46.45M427.69 90.59V74.17M429.38 31V38.52M431.06 90.6V66.25M432.75 31V47.12M434.44 90.6V74.86M436.12 31V55.65M437.81 90.6V83.39M439.49 31V47.04M441.18 90.6V74.78M442.86 31V38.43M444.55 90.6V66.17M446.23 31V46.52M447.92 90.6V74.26M449.6 31V55.13M451.29 90.6V82.87M452.97 31V47.64M454.66 90.6V75.38M456.34 31V39.03M458.02 90.6V66.77M459.71 31V45.92M461.39 90.6V73.66M463.08 31V54.53M464.76 90.6V82.27M466.45 31V48.24M468.13 90.6V75.98M469.82 31V39.63M471.5 90.6V67.37M473.19 31V45.31M474.88 90.6V73.06M476.56 31V53.93M478.25 90.6V81.67M479.93 31V48.85M481.62 90.6V76.59M483.3 31V40.23M484.99 90.6V67.98M486.67 31V44.71M488.36 90.6V72.45M490.04 31V53.32M491.73 90.6V81.06M493.41 31V49.45M495.1 90.6V77.19M496.78 31V40.84M498.47 90.6V68.58M500.15 31V44.11M501.83 90.6V71.85M503.52 31V52.72M505.2 90.6V80.46M506.89 31V50.05M508.57 90.6V77.79M510.26 31V41.44M511.94 90.6V69.18M513.63 31V43.51M515.31 90.6V71.25M517 31V52.12M518.68 90.6V79.86M520.37 31V50.65M522.05 90.6V78.39M523.74 31V42.04M525.42 90.6V69.78M527.11 31V42.9M528.79 90.6V70.64M530.48 31V51.52M532.16 90.6V79.26M533.85 31V51.26M535.53 90.6V79M537.22 31V42.65M538.9 90.6V70.39M540.59 31V42.3M542.27 90.6V70.04M543.96 31V50.91M545.64 90.6V78.65M547.33 31V51.86M549.01 90.6V79.6M550.7 31V43.25M552.38 90.6V70.99M554.07 31V41.7M555.75 90.6V69.44M557.44 31V50.31M559.12 90.6V78.05M560.81 31V52.46M562.5 90.6V80.2M564.18 31V43.85M565.87 90.6V71.59M567.55 31V41.1M569.24 90.6V68.84M570.92 31V49.71M572.61 90.6V77.45M574.29 31V53.07M575.98 90.6V80.81M577.66 31V44.45M579.35 90.6V72.19M581.03 31V40.49M582.72 90.6V68.23M584.4 31V49.1M586.09 90.6V76.84M587.77 31V53.67M589.46 90.6V81.41M591.14 31V45.06M592.83 90.6V72.8M594.51 31V39.89M596.2 90.6V67.63M597.88 31V48.5M599.57 90.6V76.24M601.25 31V54.27M602.94 90.6V82.01M604.62 31V45.66M606.31 90.6V73.4M607.99 31V39.29M609.67 90.6V67.03M611.36 31V47.9M613.04 90.6V75.64M614.73 31V54.87M616.41 90.6V82.61M618.1 31V46.27M619.78 90.6V74M621.47 31V38.69M623.15 90.6V66.42M624.84 31.01V47.3M626.52 90.59V75.03M628.21 31.01V55.48M629.89 90.59V83.2M631.58 31.01V46.87M633.26 90.59V74.6M634.95 31.01V38.28M636.63 90.59V65.99M638.32 31.01V46.71M640 90.59V74.42M641.69 31.01V55.3M643.38 90.58V83.01M645.06 31.02V47.49M646.75 90.58V75.19M648.43 31.02V38.9M650.12 90.58V66.6M651.8 31.02V46.12M653.49 90.58V73.81M655.17 31.02V54.7M656.86 90.57V82.39M658.54 31.03V48.1M660.23 90.57V75.77M661.91 31.03V39.53M663.6 90.57V67.2M665.28 31.03V45.53M666.97 90.56V73.19M668.65 31.04V54.11M670.34 90.56V81.76M672.02 31.04V48.71M673.71 90.56V76.36M675.39 31.04V40.16M677.08 90.55V67.79M678.76 31.05V44.95M680.45 90.55V72.58M682.13 31.05V53.51M683.82 90.55V81.13M685.5 31.06V49.32M687.19 90.54V76.93M688.87 31.06V40.79M690.56 90.54V68.39M692.24 31.07V44.38M693.92 90.53V71.97M695.61 31.07V52.92M697.29 90.53V80.5M698.98 31.07V49.94M700.66 90.52V77.5M702.35 31.08V41.42M704.03 90.52V68.98M705.72 31.08V43.81M707.4 90.51V71.36M709.09 31.09V52.33M710.77 90.51V79.86M712.46 31.09V50.55M714.14 90.5V78.07M715.83 31.1V42.05M717.51 90.5V69.56M719.2 31.11V43.25M720.88 90.49V70.75M722.57 31.11V51.74M724.25 90.49V79.23M725.94 31.12V51.15M727.62 90.48V78.63M729.31 31.12V42.68M731 90.48V70.15M732.68 31.13V42.69M734.37 90.47V70.14M736.05 31.13V51.16M737.74 90.46V78.6M739.42 31.14V51.76M741.11 90.46V79.18M742.79 31.14V43.32M744.48 90.45V70.72M746.16 31.15V42.15M747.85 90.45V69.54M749.53 31.16V50.59M751.22 90.44V77.97M752.9 31.16V52.36M754.59 90.43V79.72M756.27 31.17V43.95M757.96 90.43V71.3M759.64 31.18V41.6M761.33 90.42V68.94M763.01 31.18V50.02M764.7 90.41V77.34M766.38 31.19V52.96M768.07 90.41V80.27M769.75 31.2V44.57M771.44 90.4V71.87M773.12 31.2V41.06M774.81 90.39V68.34M776.49 31.21V49.45M778.18 90.39V76.71M779.86 31.22V53.55M781.54 90.38V80.8M783.23 31.22V45.2M784.91 90.37V72.43M786.6 31.23V40.53M788.28 90.37V67.75M789.97 31.24V48.89M791.65 90.36V76.09M793.34 31.24V54.14M795.02 90.35V81.33M796.71 31.25V45.82M798.39 90.35V72.99M800.08 31.26V40.01M801.76 90.34V67.16M803.45 31.26V48.33M805.13 90.33V75.47M806.82 31.27V54.73M808.5 90.33V81.85M810.19 31.28V46.44M811.88 90.32V73.54M813.56 31.29V39.49M815.25 90.31V66.58M816.93 31.29V47.78M818.62 90.3V74.85M820.3 31.3V55.31" stroke="#cc0606" stroke-width="1.9" stroke-opacity="0.38" fill="none"/>
<path d="M45.2 58V70.22M46.89 106.14V84.4M48.57 50.27V66.42M50.26 102.37V85.96M51.94 46.53V68.36M53.63 98.12V87.59M55.31 43.99V60.57M57 93.66V77.94M58.68 42.31V54.92M60.37 90.33V70.57M62.05 41.3V57.37M63.74 87.87V71.45M65.42 40.55V59.58M67.11 85.72V72.29M68.79 40.31V56.91M70.48 83.64V68.07M72.16 41.09V55.69M73.84 81.74V64.7M75.53 42.7V58.39M77.22 79.68V64.44M78.9 44.63V60.45M80.59 76.95V63.34M82.27 47.68V61.82M83.96 73.7V61.27M85.64 51.1V63.27M87.33 70.76V60.14M89.01 53.89V63.18M90.7 68V60.29M92.38 56.52V62.87M94.06 66.03V60.53M95.75 57.34V62.76M97.44 66.44V60.43M99.12 55.81V62.84M100.81 68.38V60.05M102.49 53.25V62.97M104.18 70.59V59.59M105.86 51.03V62.97M107.55 71.96V59.34M109.23 49.67V62.44M110.92 72.99V59.61M112.6 48.4V61.79M114.29 73.86V59.91M115.97 47.42V61.27M117.66 74.4V60.22M119.34 47V61.16M121.03 74.39V60.53M122.71 47.6V61.44M124.4 73.45V60.33M126.08 49.16V62.15M127.77 72.02V59.87M129.45 50.98V62.89M131.13 70.65V59.53M132.82 52.56V62.92M134.5 69.22V59.8M136.19 54.44V62.86M137.88 67.62V60.16M139.56 56.2V62.8M141.25 66.36V60.44M142.93 57.28V62.76M144.62 65.9V60.54M146.3 57.12V62.74M147.99 66.48V60.31M149.67 55.7V62.65M151.36 67.66V59.83M153.04 53.77V62.52M154.73 68.94V59.32M156.41 52.07V62.4M158.1 69.81V58.98M159.78 51.04V62.34M161.47 70.48V58.72M163.15 50.08V62.14M164.84 71.08V58.64M166.52 49.32V61.81M168.21 71.49V58.76M169.89 48.92V61.62M171.57 71.59V58.87M173.26 49.14V61.76M174.94 71.33V59.02M176.63 50.06V62.23M178.31 70.81V59.13M180 51.31V62.65M181.69 70.16V59.36M183.37 52.51V62.81M185.06 69.46V59.65M186.74 53.59V62.79M188.43 68.3V59.81M190.11 54.85V62.59M191.8 66.9V59.89M193.48 56.01V62.34M195.17 65.66V59.92M196.85 56.81V62.13M198.54 65.02V59.92M200.22 56.85V62.05M201.91 65.39V59.6M203.59 55.13V61.74M205.28 66.34V58.97M206.96 53.75V61.61M208.64 67.12V58.79M210.33 52.96V61.7M212.01 67.75V58.75M213.7 52.88V61.77M215.38 66.82V59.23M217.07 56.25V62.13M218.75 65.01V60.14M220.44 56.19V62.25M222.12 68.56V59.15M223.81 49.17V61.76M225.5 73.71V58.58M227.18 44.36V59.34M228.87 78.1V61.26M230.55 40.77V57.94M232.24 80.09V65.03M233.92 40.62V56.55M235.61 79.21V63.65M237.29 41.91V56.69M238.98 78.09V61.86M240.66 42.49V58.06M242.35 78.05V62.43M244.03 42.32V58.75M245.72 78.18V63.34M247.4 42.2V57.86M249.09 78.2V62.59M250.77 42.2V57.01M252.45 78.2V61.74M254.14 42.2V57.78M255.82 78.2V62.51M257.51 42.2V58.63M259.19 78.3V63.39M260.88 40.5V56.71M262.56 84.18V65.8M264.25 34.93V46.67M265.94 89.42V66.84M267.62 29.98V44.98M269.31 92.82V74.34M270.99 27V52.97M272.68 92.64V83.74M274.36 29.68V47.39M276.05 88.23V74.76M277.73 34.64V47.21M279.42 83.08V65.04M281.1 40.55V56.27M282.79 77.24V63.17M284.47 45.26V60.05M286.16 72.73V60.2M287.84 48.48V61M289.53 68.72V57.9M291.21 50.86V60.74M292.9 66.9V57.77M294.58 52.29V61.07M296.26 66.9V58.34M297.95 51.98V61.39M299.63 70.62V58.13M301.32 46.05V60.36M303 77.45V60.32M304.69 39.96V54.97M306.38 83.73V63.94M308.06 33.94V48.47M309.75 88.57V69.08M311.43 29.83V51.76M313.12 92.25V81.47M314.8 27.13V48.33M316.49 93.31V79.55M318.17 27.53V38.82M319.86 91.77V69.19M321.54 29.01V41.56M323.23 89.96V70.26M324.91 29.9V50.87M326.6 90.23V79.18M328.28 28.28V49.35M329.96 94.1V80.81M331.65 25.07V38.07M333.33 97.73V72.27M335.02 22.1V36.82M336.7 100.67V73.85M338.39 19.13V47.05M340.07 102.29V86.66M341.76 18.91V47.05M343.44 100.51V85.62M345.13 22.04V36.76M346.81 96.41V72.28M348.5 26.04V38.45M350.19 92.77V70.2M351.87 29.24V49.64M353.56 89.26V77.59M355.24 32.48V52.41M356.93 86.42V74.47M358.61 34.51V48.96M360.3 85.8V67.69M361.98 35.1V48.69M363.67 85.8V66.76M365.35 35.48V53.43M367.04 85.8V71.05M368.72 35.6V54.76M370.4 85.96V72.31M372.09 35.12V49.92M373.77 86.7V68.52M375.46 34.25V46.87M377.14 87.54V67.27M378.83 33.56V51.58M380.51 88.15V73.53M382.2 32.98V53.88M383.88 88.78V77.19M385.57 32.4V46.64M387.25 89.39V71.21M388.94 31.87V42.09M390.62 89.91V67.85M392.31 31.46V49.34M394 90.27V76.08M395.68 31.23V53.89M397.37 90.41V81.13M399.05 31.18V45.47M400.74 90.44V72.82M402.42 31.14V40.02M404.11 90.47V67.44M405.79 31.11V48.44M407.48 90.5V75.93M409.16 31.09V54.46M410.85 90.52V82M412.53 31.06V45.92M414.21 90.55V73.51M415.9 31.05V39.22M417.58 90.56V66.85M419.27 31.03V47.76M420.95 90.58V75.43M422.64 31.02V55.05M424.32 90.59V82.75M426.01 31.01V46.45M427.69 90.59V74.17M429.38 31V38.52M431.06 90.6V66.25M432.75 31V47.12M434.44 90.6V74.86M436.12 31V55.65M437.81 90.6V83.39M439.49 31V47.04M441.18 90.6V74.78M442.86 31V38.43M444.55 90.6V66.17M446.23 31V46.52M447.92 90.6V74.26M449.6 31V55.13M451.29 90.6V82.87M452.97 31V47.64M454.66 90.6V75.38M456.34 31V39.03M458.02 90.6V66.77M459.71 31V45.92M461.39 90.6V73.66M463.08 31V54.53M464.76 90.6V82.27M466.45 31V48.24M468.13 90.6V75.98M469.82 31V39.63M471.5 90.6V67.37M473.19 31V45.31M474.88 90.6V73.06M476.56 31V53.93M478.25 90.6V81.67M479.93 31V48.85M481.62 90.6V76.59M483.3 31V40.23M484.99 90.6V67.98M486.67 31V44.71M488.36 90.6V72.45M490.04 31V53.32M491.73 90.6V81.06M493.41 31V49.45M495.1 90.6V77.19M496.78 31V40.84M498.47 90.6V68.58M500.15 31V44.11M501.83 90.6V71.85M503.52 31V52.72M505.2 90.6V80.46M506.89 31V50.05M508.57 90.6V77.79M510.26 31V41.44M511.94 90.6V69.18M513.63 31V43.51M515.31 90.6V71.25M517 31V52.12M518.68 90.6V79.86M520.37 31V50.65M522.05 90.6V78.39M523.74 31V42.04M525.42 90.6V69.78M527.11 31V42.9M528.79 90.6V70.64M530.48 31V51.52M532.16 90.6V79.26M533.85 31V51.26M535.53 90.6V79M537.22 31V42.65M538.9 90.6V70.39M540.59 31V42.3M542.27 90.6V70.04M543.96 31V50.91M545.64 90.6V78.65M547.33 31V51.86M549.01 90.6V79.6M550.7 31V43.25M552.38 90.6V70.99M554.07 31V41.7M555.75 90.6V69.44M557.44 31V50.31M559.12 90.6V78.05M560.81 31V52.46M562.5 90.6V80.2M564.18 31V43.85M565.87 90.6V71.59M567.55 31V41.1M569.24 90.6V68.84M570.92 31V49.71M572.61 90.6V77.45M574.29 31V53.07M575.98 90.6V80.81M577.66 31V44.45M579.35 90.6V72.19M581.03 31V40.49M582.72 90.6V68.23M584.4 31V49.1M586.09 90.6V76.84M587.77 31V53.67M589.46 90.6V81.41M591.14 31V45.06M592.83 90.6V72.8M594.51 31V39.89M596.2 90.6V67.63M597.88 31V48.5M599.57 90.6V76.24M601.25 31V54.27M602.94 90.6V82.01M604.62 31V45.66M606.31 90.6V73.4M607.99 31V39.29M609.67 90.6V67.03M611.36 31V47.9M613.04 90.6V75.64M614.73 31V54.87M616.41 90.6V82.61M618.1 31V46.27M619.78 90.6V74M621.47 31V38.69M623.15 90.6V66.42M624.84 31.01V47.3M626.52 90.59V75.03M628.21 31.01V55.48M629.89 90.59V83.2M631.58 31.01V46.87M633.26 90.59V74.6M634.95 31.01V38.28M636.63 90.59V65.99M638.32 31.01V46.71M640 90.59V74.42M641.69 31.01V55.3M643.38 90.58V83.01M645.06 31.02V47.49M646.75 90.58V75.19M648.43 31.02V38.9M650.12 90.58V66.6M651.8 31.02V46.12M653.49 90.58V73.81M655.17 31.02V54.7M656.86 90.57V82.39M658.54 31.03V48.1M660.23 90.57V75.77M661.91 31.03V39.53M663.6 90.57V67.2M665.28 31.03V45.53M666.97 90.56V73.19M668.65 31.04V54.11M670.34 90.56V81.76M672.02 31.04V48.71M673.71 90.56V76.36M675.39 31.04V40.16M677.08 90.55V67.79M678.76 31.05V44.95M680.45 90.55V72.58M682.13 31.05V53.51M683.82 90.55V81.13M685.5 31.06V49.32M687.19 90.54V76.93M688.87 31.06V40.79M690.56 90.54V68.39M692.24 31.07V44.38M693.92 90.53V71.97M695.61 31.07V52.92M697.29 90.53V80.5M698.98 31.07V49.94M700.66 90.52V77.5M702.35 31.08V41.42M704.03 90.52V68.98M705.72 31.08V43.81M707.4 90.51V71.36M709.09 31.09V52.33M710.77 90.51V79.86M712.46 31.09V50.55M714.14 90.5V78.07M715.83 31.1V42.05M717.51 90.5V69.56M719.2 31.11V43.25M720.88 90.49V70.75M722.57 31.11V51.74M724.25 90.49V79.23M725.94 31.12V51.15M727.62 90.48V78.63M729.31 31.12V42.68M731 90.48V70.15M732.68 31.13V42.69M734.37 90.47V70.14M736.05 31.13V51.16M737.74 90.46V78.6M739.42 31.14V51.76M741.11 90.46V79.18M742.79 31.14V43.32M744.48 90.45V70.72M746.16 31.15V42.15M747.85 90.45V69.54M749.53 31.16V50.59M751.22 90.44V77.97M752.9 31.16V52.36M754.59 90.43V79.72M756.27 31.17V43.95M757.96 90.43V71.3M759.64 31.18V41.6M761.33 90.42V68.94M763.01 31.18V50.02M764.7 90.41V77.34M766.38 31.19V52.96M768.07 90.41V80.27M769.75 31.2V44.57M771.44 90.4V71.87M773.12 31.2V41.06M774.81 90.39V68.34M776.49 31.21V49.45M778.18 90.39V76.71M779.86 31.22V53.55M781.54 90.38V80.8M783.23 31.22V45.2M784.91 90.37V72.43M786.6 31.23V40.53M788.28 90.37V67.75M789.97 31.24V48.89M791.65 90.36V76.09M793.34 31.24V54.14M795.02 90.35V81.33M796.71 31.25V45.82M798.39 90.35V72.99M800.08 31.26V40.01M801.76 90.34V67.16M803.45 31.26V48.33M805.13 90.33V75.47M806.82 31.27V54.73M808.5 90.33V81.85M810.19 31.28V46.44M811.88 90.32V73.54M813.56 31.29V39.49M815.25 90.31V66.58M816.93 31.29V47.78M818.62 90.3V74.85M820.3 31.3V55.31" stroke="#cc0606" stroke-width="1" fill="none" shape-rendering="crispEdges"/>
</g>
<polyline points="468.45,31.05 474.45,29.75 492.45,29.75 498.45,30.75 738.45,30.75 748.45,31.25 803.45,31.55" fill="none" stroke="#0808d0" stroke-width="2.3" stroke-linejoin="round" stroke-linecap="round"/>
<rect x="45.2" y="14.3" width="775.2" height="93.1" fill="none" stroke="#4a4a4a" stroke-width="1.15"/>
<line x1="213.7" y1="107.4" x2="213.7" y2="102.9" stroke="#4a4a4a" stroke-width="1"/>
<line x1="213.7" y1="14.3" x2="213.7" y2="18.8" stroke="#4a4a4a" stroke-width="1"/>
<line x1="382.2" y1="107.4" x2="382.2" y2="102.9" stroke="#4a4a4a" stroke-width="1"/>
<line x1="382.2" y1="14.3" x2="382.2" y2="18.8" stroke="#4a4a4a" stroke-width="1"/>
<line x1="550.7" y1="107.4" x2="550.7" y2="102.9" stroke="#4a4a4a" stroke-width="1"/>
<line x1="550.7" y1="14.3" x2="550.7" y2="18.8" stroke="#4a4a4a" stroke-width="1"/>
<line x1="719.2" y1="107.4" x2="719.2" y2="102.9" stroke="#4a4a4a" stroke-width="1"/>
<line x1="719.2" y1="14.3" x2="719.2" y2="18.8" stroke="#4a4a4a" stroke-width="1"/>
<line x1="45.2" y1="22.1" x2="49.7" y2="22.1" stroke="#4a4a4a" stroke-width="1"/>
<line x1="820.4" y1="22.1" x2="815.9" y2="22.1" stroke="#4a4a4a" stroke-width="1"/>
<line x1="45.2" y1="61" x2="49.7" y2="61" stroke="#4a4a4a" stroke-width="1"/>
<line x1="820.4" y1="61" x2="815.9" y2="61" stroke="#4a4a4a" stroke-width="1"/>
<line x1="45.2" y1="99.9" x2="49.7" y2="99.9" stroke="#4a4a4a" stroke-width="1"/>
<line x1="820.4" y1="99.9" x2="815.9" y2="99.9" stroke="#4a4a4a" stroke-width="1"/>
<text transform="translate(44.3 26.1) scale(0.85 1)" text-anchor="end" font-size="10.4">1</text>
<text transform="translate(44 65) scale(0.85 1)" text-anchor="end" font-size="10.4">0</text>
<text transform="translate(44.3 104.1) scale(0.85 1)" text-anchor="end" font-size="10.4">−<tspan dx="0.9">1</tspan></text>
<text transform="translate(45.6 118) scale(0.85 1)" font-size="10.4">1</text>
<text transform="translate(213.1 118) scale(0.85 1)" font-size="10.4">2</text>
<text transform="translate(381.6 118) scale(0.85 1)" font-size="10.4">3</text>
<text transform="translate(550.1 118) scale(0.85 1)" font-size="10.4">4</text>
<text transform="translate(718.6 118) scale(0.85 1)" font-size="10.4">5</text>
<text x="426.9" y="132.8" textLength="15.3" lengthAdjust="spacingAndGlyphs" font-size="10.4">t, t2</text>
<text x="7.8" y="53.2" textLength="13.6" lengthAdjust="spacingAndGlyphs" font-size="10.4">IA1</text>
<line x1="6.5" y1="58.5" x2="25" y2="58.5" stroke="#cf3030" stroke-width="1.1"/>
<text x="7.8" y="71.9" textLength="27.8" lengthAdjust="spacingAndGlyphs" font-size="10.4">IA1max</text>
<line x1="7" y1="77" x2="24.8" y2="77" stroke="#0808d0" stroke-width="2.3" stroke-linecap="round"/>
<g clip-path="url(#c140)">
<polyline points="45.2,201.1 45.62,201.31 46.05,201.4 46.47,201.31 46.89,201.1 47.32,200.88 47.74,200.8 48.16,200.89 48.58,201.11 49.01,201.32 49.43,201.4 49.85,201.3 50.28,201.09 50.7,200.88 51.12,200.8 51.55,200.9 51.97,201.12 52.39,201.32 52.82,201.4 53.24,201.3 53.66,201.08 54.09,200.87 54.51,200.8 54.93,200.91 55.35,201.13 55.78,201.33 56.2,201.4 56.62,201.29 57.05,201.07 57.47,200.87 57.89,200.8 58.32,200.91 58.74,201.13 59.16,201.34 59.59,201.4 60.01,201.28 60.43,201.06 60.86,200.86 61.28,200.8 61.7,200.92 62.12,201.14 62.55,201.34 62.97,201.4 63.39,201.28 63.82,201.05 64.24,200.86 64.66,200.8 65.09,200.93 65.51,201.15 65.93,201.35 66.36,201.4 66.78,201.27 67.2,201.05 67.63,200.85 68.05,200.81 68.47,200.93 68.89,201.16 69.32,201.35 69.74,201.39 70.16,201.26 70.59,201.04 71.01,200.85 71.43,200.81 71.86,200.94 72.28,201.17 72.7,201.35 73.13,201.39 73.55,201.26 73.97,201.03 74.39,200.84 74.82,200.81 75.24,200.95 75.66,201.17 76.09,201.36 76.51,201.39 76.93,201.25 77.36,201.02 77.78,200.84 78.2,200.81 78.63,200.95 79.05,201.18 79.47,201.36 79.9,201.39 80.32,201.24 80.74,201.01 81.16,200.84 81.59,200.81 82.01,200.96 82.43,201.19 82.86,201.37 83.28,201.39 83.7,201.24 84.13,201.01 84.55,200.83 84.97,200.82 85.4,200.97 85.82,201.2 86.24,201.37 86.67,201.38 87.09,201.23 87.51,201 87.93,200.83 88.36,200.82 88.78,200.98 89.2,201.21 89.63,201.37 90.05,201.38 90.47,201.22 90.9,200.99 91.32,200.82 91.74,200.82 92.17,200.98 92.59,201.21 93.01,201.38 93.44,201.38 93.86,201.21 94.28,200.98 94.7,200.82 95.13,200.82 95.55,200.99 95.97,201.22 96.4,201.38 96.82,201.37 97.24,201.2 97.67,200.97 98.09,200.82 98.51,200.83 98.94,201 99.36,201.23 99.78,201.38 100.21,201.37 100.63,201.2 101.05,200.97 101.47,200.82 101.9,200.83 102.32,201.01 102.74,201.24 103.17,201.39 103.59,201.37 104.01,201.19 104.44,200.96 104.86,200.81 105.28,200.84 105.71,201.01 106.13,201.24 106.55,201.39 106.97,201.36 107.4,201.18 107.82,200.95 108.24,200.81 108.67,200.84 109.09,201.02 109.51,201.25 109.94,201.39 110.36,201.36 110.78,201.17 111.21,200.95 111.63,200.81 112.05,200.84 112.48,201.03 112.9,201.26 113.32,201.39 113.74,201.35 114.17,201.17 114.59,200.94 115.01,200.81 115.44,200.85 115.86,201.04 116.28,201.27 116.71,201.39 117.13,201.35 117.55,201.16 117.98,200.93 118.4,200.81 118.82,200.85 119.25,201.05 119.67,201.27 120.09,201.4 120.51,201.34 120.94,201.15 121.36,200.92 121.78,200.8 122.21,200.86 122.63,201.06 123.05,201.28 123.48,201.4 123.9,201.34 124.32,201.14 124.75,200.92 125.17,200.8 125.59,200.86 126.02,201.06 126.44,201.29 126.86,201.4 127.28,201.33 127.71,201.13 128.13,200.91 128.55,200.8 128.98,200.87 129.4,201.07" fill="none" stroke="#1414be" stroke-width="1.5" stroke-linejoin="round" />
<line x1="130" y1="195" x2="130" y2="244.5" stroke="#1414be" stroke-width="1.1"/>
<polygon points="129.4,210.5 132.77,199.76 136.14,190.61 139.51,193.08 142.88,195.98 146.25,191.3 149.62,188.06 152.99,190.62 156.36,192.49 159.73,193.53 163.1,196.21 166.47,198.21 169.84,199 173.21,196.35 176.58,193.84 179.95,192.41 183.32,192.03 186.69,191.41 190.06,190.25 193.43,190.45 196.8,191.52 200.17,191.35 203.54,191.17 206.91,192.43 210.28,194.67 213.65,196.93 217.02,198.29 220.39,190.47 223.76,188.46 227.13,188 230.5,178.31 233.87,175.29 237.24,186.23 240.61,187.7 243.98,182.99 247.35,185.22 250.72,189.57 254.09,191.21 257.46,190.59 260.83,188.07 264.2,188.64 267.57,189.67 270.94,182.94 274.31,179.3 277.68,186.71 281.05,189.7 284.42,185.93 287.79,184.51 291.16,188.02 294.53,190.12 297.9,185.32 301.27,175.98 304.64,181.69 308.01,189.34 311.38,176.92 314.75,169.84 318.12,183.54 321.49,191.91 324.86,186.23 328.23,181.88 331.6,185.36 334.97,192.43 338.34,183.43 341.71,172.78 345.08,180.66 348.45,190.84 351.82,183.16 355.19,173.18 358.56,180.31 361.93,190.42 365.3,184.37 368.67,174.75 372.04,180.28 375.41,189.91 378.78,185.51 382.15,176.48 385.52,180.53 388.89,189.8 392.26,186.97 395.63,178.36 399,180.79 402.37,189.42 405.74,187.7 409.11,179.05 412.48,180.16 415.85,188.86 419.22,188.35 422.59,179.61 425.96,179.51 429.33,188.3 432.7,189.02 436.07,180.19 439.44,178.86 442.81,187.7 446.18,189.65 449.55,180.81 452.92,178.24 456.29,187.09 459.66,190.27 463.03,181.42 466.4,177.62 469.77,186.47 473.14,190.89 476.51,182.04 479.88,177 483.25,185.85 486.62,191.51 489.99,182.66 493.36,176.38 496.73,185.23 500.1,192.13 503.47,183.28 506.84,175.76 510.21,184.61 513.58,192.75 516.95,183.9 520.32,175.14 523.69,183.99 527.06,192.83 530.43,184.52 533.8,175.67 537.17,183.37 540.54,192.22 543.91,185.14 547.28,176.29 550.65,182.75 554.02,191.6 557.39,185.76 560.76,176.91 564.13,182.13 567.5,190.98 570.87,186.38 574.24,177.53 577.61,181.51 580.98,190.36 584.35,187 587.72,178.15 591.09,180.89 594.46,189.74 597.83,187.62 601.2,178.77 604.57,180.27 607.94,189.12 611.31,188.24 614.68,179.39 618.05,179.66 621.42,188.5 624.79,188.85 628.16,180.01 631.53,179.04 634.9,187.88 638.27,189.47 641.64,180.64 645.01,178.43 648.38,187.26 651.75,190.09 655.12,181.26 658.49,177.82 661.86,186.65 665.23,190.7 668.6,181.88 671.97,177.21 675.34,186.03 678.71,191.32 682.08,182.51 685.45,176.61 688.82,185.42 692.19,191.93 695.56,183.13 698.93,176.01 702.3,184.8 705.67,192.53 709.04,183.75 712.41,175.42 715.78,184.2 719.15,192.96 722.52,184.37 725.89,175.61 729.26,183.59 732.63,192.34 736,184.99 739.37,176.25 742.74,182.98 746.11,191.72 749.48,185.61 752.85,176.88 756.22,182.38 759.59,191.1 762.96,186.22 766.33,177.52 769.7,181.79 773.07,190.49 776.44,186.83 779.81,178.15 783.18,181.19 786.55,189.87 789.92,187.44 793.29,178.78 796.66,180.6 800.03,189.26 803.4,188.05 806.77,179.4 810.14,180.01 813.51,188.65 816.88,188.65 820.25,180.03 820.25,212.85 816.88,221.48 813.51,221.48 810.14,212.85 806.77,212.24 803.4,220.89 800.03,222.11 796.66,213.45 793.29,211.63 789.92,220.3 786.55,222.74 783.18,214.06 779.81,211.02 776.44,219.71 773.07,223.37 769.7,214.67 766.33,210.41 762.96,219.12 759.59,224 756.22,215.28 752.85,209.79 749.48,218.52 746.11,224.63 742.74,215.9 739.37,209.17 736,217.91 732.63,225.27 729.26,216.52 725.89,208.55 722.52,217.31 719.15,225.9 715.78,217.14 712.41,208.36 709.04,216.7 705.67,225.49 702.3,217.76 698.93,208.97 695.56,216.09 692.19,224.89 688.82,218.38 685.45,209.58 682.08,215.48 678.71,224.29 675.34,219 671.97,210.19 668.6,214.86 665.23,223.68 661.86,219.63 658.49,210.8 655.12,214.25 651.75,223.08 648.38,220.25 645.01,211.42 641.64,213.63 638.27,222.46 634.9,220.88 631.53,212.04 628.16,213.01 624.79,221.85 621.42,221.5 618.05,212.66 614.68,212.39 611.31,221.23 607.94,222.12 604.57,213.27 601.2,211.77 597.83,220.62 594.46,222.74 591.09,213.89 587.72,211.15 584.35,220 580.98,223.36 577.61,214.51 574.24,210.53 570.87,219.38 567.5,223.98 564.13,215.13 560.76,209.91 557.39,218.76 554.02,224.6 550.65,215.75 547.28,209.29 543.91,218.14 540.54,225.22 537.17,216.37 533.8,208.67 530.43,217.52 527.06,225.83 523.69,216.99 520.32,208.14 516.95,216.9 513.58,225.75 510.21,217.61 506.84,208.76 503.47,216.28 500.1,225.13 496.73,218.23 493.36,209.38 489.99,215.66 486.62,224.51 483.25,218.85 479.88,210 476.51,215.04 473.14,223.89 469.77,219.47 466.4,210.62 463.03,214.42 459.66,223.27 456.29,220.09 452.92,211.24 449.55,213.81 446.18,222.65 442.81,220.7 439.44,211.86 436.07,213.18 432.7,222 429.33,221.27 425.96,212.46 422.59,212.54 419.22,221.26 415.85,221.75 412.48,213.03 409.11,211.9 405.74,220.53 402.37,222.24 399,213.61 395.63,211.24 392.26,220.02 388.89,223.22 385.52,214.38 382.15,210.75 378.78,220.19 375.41,225.12 372.04,216.06 368.67,211.08 365.3,221.17 361.93,227.55 358.56,217.72 355.19,210.86 351.82,221.06 348.45,228.87 345.08,218.66 341.71,210.01 338.34,219.27 334.97,224.94 331.6,215.64 328.23,210.25 324.86,215.14 321.49,223 318.12,218.63 314.75,210.61 311.38,222.72 308.01,234.48 304.64,222.03 301.27,209.91 297.9,215.12 294.53,216.1 291.16,213.43 287.79,210.55 284.42,212.93 281.05,217.76 277.68,216.58 274.31,210.6 270.94,213.87 267.57,218.55 264.2,214.91 260.83,210.58 257.46,209.46 254.09,210.19 250.72,211.62 247.35,210.6 243.98,211.68 240.61,219.46 237.24,222.84 233.87,214.42 230.5,213.19 227.13,218.87 223.76,214.48 220.39,208.81 217.02,204.05 213.65,204.46 210.28,205.92 206.91,207.79 203.54,208.81 200.17,210.44 196.8,211.55 193.43,210.63 190.06,210.08 186.69,210.64 183.32,210.31 179.95,208.8 176.58,207.54 173.21,205.38 169.84,203.28 166.47,204.15 163.1,206.14 159.73,208.54 156.36,211.42 152.99,212.62 149.62,212.57 146.25,217.53 142.88,223.58 139.51,221.96 136.14,220.1 132.77,229.5 129.4,240.23" fill="#9797e0"/>
<polygon points="129.4,199.07 132.77,199.56 136.14,201.27 139.51,193.6 142.88,188.15 146.25,190.71 149.62,192.71 152.99,191.01 156.36,191.16 159.73,193.51 163.1,196.21 166.47,198.21 169.84,199 173.21,196.35 176.58,193.84 179.95,192.56 183.32,191.12 186.69,190.92 190.06,191.62 193.43,191.16 196.8,190.14 200.17,190.77 203.54,191.8 206.91,192.53 210.28,194.67 213.65,196.93 217.02,198.29 220.39,191.07 223.76,185.03 227.13,181.32 230.5,187.52 233.87,186.67 237.24,177.25 240.61,179.1 243.98,187.08 247.35,188.82 250.72,188.32 254.09,190.21 257.46,191.12 260.83,190.49 264.2,186.49 267.57,182.53 270.94,186.68 274.31,189.8 277.68,183.88 281.05,182.74 284.42,187.54 287.79,189.88 291.16,186.97 294.53,184.57 297.9,186.93 301.27,192.21 304.64,179.36 308.01,166.9 311.38,178.7 314.75,190.88 318.12,182.84 321.49,178.4 324.86,186.26 328.23,191.15 331.6,185.76 334.97,176.46 338.34,182.13 341.71,191.39 345.08,182.74 348.45,172.54 351.82,180.37 355.19,190.6 358.56,183.77 361.93,173.96 365.3,180.28 368.67,190.18 372.04,184.93 375.41,175.61 378.78,180.35 382.15,189.76 385.52,186.2 388.89,177.48 392.26,180.82 395.63,189.71 399,187.39 402.37,178.76 405.74,180.48 409.11,189.13 412.48,188.02 415.85,179.33 419.22,179.84 422.59,188.58 425.96,188.69 429.33,179.89 432.7,179.18 436.07,188.01 439.44,189.34 442.81,180.5 446.18,178.55 449.55,187.39 452.92,189.96 456.29,181.11 459.66,177.93 463.03,186.78 466.4,190.58 469.77,181.73 473.14,177.31 476.51,186.16 479.88,191.2 483.25,182.35 486.62,176.69 489.99,185.54 493.36,191.82 496.73,182.97 500.1,176.07 503.47,184.92 506.84,192.44 510.21,183.59 513.58,175.45 516.95,184.3 520.32,193.06 523.69,184.21 527.06,175.37 530.43,183.68 533.8,192.53 537.17,184.83 540.54,175.98 543.91,183.06 547.28,191.91 550.65,185.45 554.02,176.6 557.39,182.44 560.76,191.29 564.13,186.07 567.5,177.22 570.87,181.82 574.24,190.67 577.61,186.69 580.98,177.84 584.35,181.2 587.72,190.05 591.09,187.31 594.46,178.46 597.83,180.58 601.2,189.43 604.57,187.93 607.94,179.08 611.31,179.97 614.68,188.81 618.05,188.54 621.42,179.7 624.79,179.35 628.16,188.19 631.53,189.16 634.9,180.32 638.27,178.74 641.64,187.57 645.01,189.78 648.38,180.95 651.75,178.12 655.12,186.95 658.49,190.4 661.86,181.57 665.23,177.52 668.6,186.34 671.97,191.01 675.34,182.2 678.71,176.91 682.08,185.72 685.45,191.62 688.82,182.82 692.19,176.31 695.56,185.11 698.93,192.23 702.3,183.44 705.67,175.71 709.04,184.5 712.41,192.84 715.78,184.06 719.15,175.3 722.52,183.89 725.89,192.65 729.26,184.68 732.63,175.93 736,183.29 739.37,192.03 742.74,185.3 746.11,176.57 749.48,182.68 752.85,191.41 756.22,185.92 759.59,177.2 762.96,182.08 766.33,190.79 769.7,186.53 773.07,177.83 776.44,181.49 779.81,190.18 783.18,187.14 786.55,178.46 789.92,180.9 793.29,189.57 796.66,187.75 800.03,179.09 803.4,180.31 806.77,188.96 810.14,188.35 813.51,179.72 816.88,179.72 820.25,188.35 820.25,221.17 816.88,212.55 813.51,212.55 810.14,221.19 806.77,221.8 803.4,213.15 800.03,211.94 796.66,220.6 793.29,222.42 789.92,213.76 786.55,211.33 783.18,220.01 779.81,223.05 776.44,214.37 773.07,210.71 769.7,219.41 766.33,223.68 762.96,214.98 759.59,210.1 756.22,218.82 752.85,224.32 749.48,215.59 746.11,209.48 742.74,218.22 739.37,224.95 736,216.21 732.63,208.86 729.26,217.61 725.89,225.59 722.52,216.83 719.15,208.24 715.78,217 712.41,225.78 709.04,217.45 705.67,208.67 702.3,216.4 698.93,225.19 695.56,218.07 692.19,209.27 688.82,215.78 685.45,224.59 682.08,218.69 678.71,209.88 675.34,215.17 671.97,223.99 668.6,219.32 665.23,210.5 661.86,214.55 658.49,223.38 655.12,219.94 651.75,211.11 648.38,213.94 645.01,222.77 641.64,220.56 638.27,211.73 634.9,213.32 631.53,222.16 628.16,221.19 624.79,212.35 621.42,212.7 618.05,221.54 614.68,221.81 611.31,212.96 607.94,212.08 604.57,220.93 601.2,222.43 597.83,213.58 594.46,211.46 591.09,220.31 587.72,223.05 584.35,214.2 580.98,210.84 577.61,219.69 574.24,223.67 570.87,214.82 567.5,210.22 564.13,219.07 560.76,224.29 557.39,215.44 554.02,209.6 550.65,218.45 547.28,224.91 543.91,216.06 540.54,208.98 537.17,217.83 533.8,225.53 530.43,216.68 527.06,208.37 523.69,217.21 520.32,226.06 516.95,217.3 513.58,208.45 510.21,216.59 506.84,225.44 503.47,217.92 500.1,209.07 496.73,215.97 493.36,224.82 489.99,218.54 486.62,209.69 483.25,215.35 479.88,224.2 476.51,219.16 473.14,210.31 469.77,214.73 466.4,223.58 463.03,219.78 459.66,210.93 456.29,214.11 452.92,222.96 449.55,220.39 446.18,211.55 442.81,213.5 439.44,222.34 436.07,221.01 432.7,212.16 429.33,212.86 425.96,221.64 422.59,221.52 419.22,212.75 415.85,212.21 412.48,220.89 409.11,221.98 405.74,213.32 402.37,211.59 399,220.21 395.63,222.59 392.26,213.87 388.89,210.91 385.52,220.05 382.15,224.02 378.78,215.03 375.41,210.82 372.04,220.72 368.67,226.52 365.3,217.08 361.93,211.08 358.56,221.18 355.19,228.28 351.82,218.27 348.45,210.57 345.08,220.74 341.71,228.62 338.34,217.97 334.97,208.97 331.6,216.04 328.23,219.52 324.86,215.16 321.49,209.49 318.12,217.93 314.75,231.64 311.38,224.5 308.01,212.04 304.64,219.71 301.27,226.14 297.9,216.74 294.53,210.55 291.16,212.38 287.79,215.93 284.42,214.54 281.05,210.8 277.68,213.75 274.31,221.1 270.94,217.62 267.57,211.41 264.2,212.77 260.83,213 257.46,209.98 254.09,209.19 250.72,210.36 247.35,214.2 243.98,215.77 240.61,210.86 237.24,213.86 233.87,225.8 230.5,222.4 227.13,212.19 223.76,211.05 220.39,209.4 217.02,204.05 213.65,204.46 210.28,205.92 206.91,207.89 203.54,209.44 200.17,209.85 196.8,210.18 193.43,211.34 190.06,211.45 186.69,210.14 183.32,209.4 179.95,208.95 176.58,207.54 173.21,205.38 169.84,203.28 166.47,204.15 163.1,206.14 159.73,208.52 156.36,210.08 152.99,213.01 149.62,217.22 146.25,216.95 142.88,215.74 139.51,222.48 136.14,230.76 132.77,229.3 129.4,228.8" fill="#7070d4"/>
<polyline points="129.4,219.65 131.09,219.53 132.77,219.66 134.46,215.14 136.14,210.85 137.83,207.06 139.51,204.33 141.2,205.32 142.88,205.75 144.57,205.3" fill="none" stroke="#fff" stroke-width="1.4" stroke-opacity="0.32"/>
<polyline points="129.4,219.65 131.09,214.31 132.77,209.4 134.46,209.93 136.14,210.52 137.83,211.06 139.51,211.23 141.2,208.25 142.88,205.98 144.57,204.66" fill="none" stroke="#fff" stroke-width="1.4" stroke-opacity="0.32"/>
<polyline points="225.45,199.94 227.13,203.92 228.82,211.85 230.5,206.9 232.19,200.8 233.87,193.9 235.56,186.91 237.24,192.72 238.93,198.82 240.61,203.53 242.3,205.15 243.98,201.33 245.67,199.63" fill="none" stroke="#fff" stroke-width="1.4" stroke-opacity="0.32"/>
<polyline points="225.45,199.87 227.13,196.27 228.82,188.64 230.5,193.81 232.19,200.13 233.87,207.18 235.56,214.02 237.24,207.37 238.93,200.26 240.61,195.03 242.3,193.39 243.98,197.44 245.67,199.47" fill="none" stroke="#fff" stroke-width="1.4" stroke-opacity="0.32"/>
<polyline points="265.89,200.34 267.57,201.62 269.26,205 270.94,205.89 272.63,202.25 274.31,197.95 276,194.72 277.68,196.08 279.37,199.27 281.05,200.78 282.74,201.35 284.42,200.91" fill="none" stroke="#fff" stroke-width="1.4" stroke-opacity="0.32"/>
<polyline points="265.89,200.97 267.57,199.46 269.26,195.8 270.94,194.67 272.63,198.16 274.31,202.45 276,205.71 277.68,204.38 279.37,201.22 281.05,199.72 282.74,199.14 284.42,199.57" fill="none" stroke="#fff" stroke-width="1.4" stroke-opacity="0.32"/>
<polyline points="296.22,201.91 297.9,205.63 299.59,204.63 301.27,199.54 302.96,192.46 304.64,187.57 306.33,194.4 308.01,202.14 309.7,210.48 311.38,216.17 313.07,207.66 314.75,199.94 316.44,193.19 318.12,188.44 319.81,195.22 321.49,200.86 323.18,203.58 324.86,204.39 326.55,202.04 328.23,200.74 329.92,198.71 331.6,194.59 333.29,196.02 334.97,200.13 336.66,206.21 338.34,212.87 340.03,208.35 341.71,201.83 343.4,195.11 345.08,188.27 346.77,192.27 348.45,199.07 350.14,205.87 351.82,212.63 353.51,209.57 355.19,202.82 356.88,196.11 358.56,189.45 360.25,191.56 361.93,198.23 363.62,204.85 365.3,211.38 366.99,210.17 368.67,203.55 370.36,197.02 372.04,190.59 373.73,190.79 375.41,197.09 377.1,203.31 378.78,209.44 380.47,210.04 382.15,203.87 383.84,197.77 385.52,191.76 387.21,190.34 388.89,196.41 390.58,202.4 392.26,208.33 393.95,210.62 395.63,204.75 397.32,198.91 399,193.09 400.69,189.99 402.37,195.83 404.06,201.67 405.74,207.52 407.43,211.44 409.11,205.6 410.8,199.76 412.48,193.91 414.17,189.17 415.85,195.03 417.54,200.89 419.22,206.77 420.91,212.35 422.59,206.49 424.28,200.63 425.96,194.75 427.65,188.87 429.33,194.23 431.02,200.12 432.7,206.01 434.39,211.91 436.07,207.38 437.76,201.48 439.44,195.59 441.13,189.69 442.81,193.41 444.5,199.3 446.18,205.2 447.87,211.1 449.55,208.21 451.24,202.31 452.92,196.41 454.61,190.52 456.29,192.58 457.98,198.48 459.66,204.37 461.35,210.27 463.03,209.03 464.72,203.14 466.4,197.24 468.09,191.34 469.77,191.75 471.46,197.65 473.14,203.55 474.83,209.45 476.51,209.86 478.2,203.96 479.88,198.06 481.57,192.17 483.25,190.93 484.94,196.83 486.62,202.72 488.31,208.62 489.99,210.68 491.68,204.79 493.36,198.89 495.05,192.99 496.73,190.1 498.42,196 500.1,201.9 501.79,207.79 503.47,211.51 505.16,205.61 506.84,199.72 508.53,193.82 510.21,189.28 511.9,195.17 513.58,201.07 515.27,206.97 516.95,212.33 518.64,206.44 520.32,200.54 522.01,194.64 523.69,188.75 525.38,194.35 527.06,200.25 528.75,206.14 530.43,212.04 532.12,207.26 533.8,201.37 535.49,195.47 537.17,189.57 538.86,193.52 540.54,199.42 542.23,205.32 543.91,211.21 545.6,208.09 547.28,202.19 548.97,196.3 550.65,190.4 552.34,192.7 554.02,198.6 555.71,204.49 557.39,210.39 559.08,208.91 560.76,203.02 562.45,197.12 564.13,191.22 565.82,191.87 567.5,197.77 569.19,203.67 570.87,209.56 572.56,209.74 574.24,203.84 575.93,197.95 577.61,192.05 579.3,191.05 580.98,196.94 582.67,202.84 584.35,208.74 586.04,210.57 587.72,204.67 589.41,198.77 591.09,192.88 592.78,190.22 594.46,196.12 596.15,202.02 597.83,207.91 599.52,211.39 601.2,205.49 602.89,199.6 604.57,193.7 606.26,189.4 607.94,195.29 609.63,201.19 611.31,207.09 613,212.22 614.68,206.32 616.37,200.42 618.05,194.53 619.74,188.63 621.42,194.47 623.11,200.36 624.79,206.26 626.48,212.16 628.16,207.14 629.85,201.25 631.53,195.35 633.22,189.46 634.9,193.64 636.59,199.54 638.27,205.43 639.96,211.33 641.64,207.97 643.33,202.07 645.01,196.18 646.7,190.29 648.38,192.82 650.07,198.71 651.75,204.61 653.44,210.5 655.12,208.79 656.81,202.9 658.49,197.01 660.18,191.12 661.86,192 663.55,197.89 665.23,203.78 666.92,209.67 668.6,209.61 670.29,203.72 671.97,197.83 673.66,191.94 675.34,191.18 677.03,197.07 678.71,202.95 680.4,208.84 682.08,210.43 683.77,204.54 685.45,198.66 687.14,192.77 688.82,190.36 690.51,196.25 692.19,202.13 693.88,208.01 695.56,211.25 697.25,205.36 698.93,199.48 700.62,193.6 702.3,189.54 703.99,195.42 705.67,201.31 707.36,207.19 709.04,212.06 710.73,206.18 712.41,200.31 714.1,194.43 715.78,188.73 717.47,194.61 719.15,200.48 720.84,206.36 722.52,212.23 724.21,207 725.89,201.13 727.58,195.26 729.26,189.38 730.95,193.79 732.63,199.66 734.32,205.53 736,211.4 737.69,207.82 739.37,201.95 741.06,196.08 742.74,190.21 744.43,192.97 746.11,198.84 747.8,204.71 749.48,210.57 751.17,208.64 752.85,202.77 754.54,196.91 756.22,191.04 757.91,192.16 759.59,198.02 761.28,203.88 762.96,209.74 764.65,209.45 766.33,203.59 768.02,197.73 769.7,191.87 771.39,191.34 773.07,197.2 774.76,203.06 776.44,208.92 778.13,210.26 779.81,204.41 781.5,198.55 783.18,192.7 784.87,190.53 786.55,196.39 788.24,202.24 789.92,208.09 791.61,211.07 793.29,205.22 794.98,199.37 796.66,193.52 798.35,189.72 800.03,195.57 801.72,201.42 803.4,207.26 805.09,211.88 806.77,206.03 808.46,200.19 810.14,194.35 811.83,188.92 813.51,194.76 815.2,200.6 816.88,206.44 818.57,212.28 820.25,206.85" fill="none" stroke="#fff" stroke-width="1.4" stroke-opacity="0.32"/>
<polyline points="296.22,199.45 297.9,196.43 299.59,197.73 301.27,202.57 302.96,209.2 304.64,213.82 306.33,206.97 308.01,199.24 309.7,190.92 311.38,185.24 313.07,193.79 314.75,201.55 316.44,208.31 318.12,213.02 319.81,206.21 321.49,200.54 323.18,197.81 324.86,197.01 326.55,199.36 328.23,200.66 329.92,202.69 331.6,206.81 333.29,205.38 334.97,201.27 336.66,195.19 338.34,188.53 340.03,193.05 341.71,199.57 343.4,206.29 345.08,213.13 346.77,209.13 348.45,202.33 350.14,195.55 351.82,188.8 353.51,191.88 355.19,198.64 356.88,205.37 358.56,212.04 360.25,209.94 361.93,203.27 363.62,196.65 365.3,190.07 366.99,191.21 368.67,197.71 370.36,204.11 372.04,210.41 373.73,210.07 375.41,203.64 377.1,197.31 378.78,191.1 380.47,190.46 382.15,196.64 383.84,202.76 385.52,208.82 387.21,210.3 388.89,204.29 390.58,198.37 392.26,192.51 393.95,190.28 395.63,196.2 397.32,202.07 399,207.91 400.69,211.01 402.37,205.17 404.06,199.34 405.74,193.5 407.43,189.58 409.11,195.43 410.8,201.28 412.48,207.14 414.17,211.89 415.85,206.04 417.54,200.19 419.22,194.33 420.91,188.76 422.59,194.63 424.28,200.51 425.96,206.39 427.65,212.29 429.33,206.94 431.02,201.06 432.7,195.17 434.39,189.28 436.07,193.82 437.76,199.71 439.44,205.61 441.13,211.51 442.81,207.79 444.5,201.9 446.18,196 447.87,190.1 449.55,192.99 451.24,198.89 452.92,204.79 454.61,210.68 456.29,208.62 457.98,202.72 459.66,196.83 461.35,190.93 463.03,192.17 464.72,198.06 466.4,203.96 468.09,209.86 469.77,209.45 471.46,203.55 473.14,197.65 474.83,191.75 476.51,191.34 478.2,197.24 479.88,203.14 481.57,209.03 483.25,210.27 484.94,204.37 486.62,198.48 488.31,192.58 489.99,190.52 491.68,196.41 493.36,202.31 495.05,208.21 496.73,211.1 498.42,205.2 500.1,199.3 501.79,193.41 503.47,189.69 505.16,195.59 506.84,201.48 508.53,207.38 510.21,211.92 511.9,206.03 513.58,200.13 515.27,194.23 516.95,188.87 518.64,194.76 520.32,200.66 522.01,206.56 523.69,212.45 525.38,206.85 527.06,200.95 528.75,195.06 530.43,189.16 532.12,193.94 533.8,199.83 535.49,205.73 537.17,211.63 538.86,207.68 540.54,201.78 542.23,195.88 543.91,189.99 545.6,193.11 547.28,199.01 548.97,204.9 550.65,210.8 552.34,208.5 554.02,202.6 555.71,196.71 557.39,190.81 559.08,192.29 560.76,198.18 562.45,204.08 564.13,209.98 565.82,209.33 567.5,203.43 569.19,197.53 570.87,191.64 572.56,191.46 574.24,197.36 575.93,203.25 577.61,209.15 579.3,210.15 580.98,204.26 582.67,198.36 584.35,192.46 586.04,190.63 587.72,196.53 589.41,202.43 591.09,208.32 592.78,210.98 594.46,205.08 596.15,199.18 597.83,193.29 599.52,189.81 601.2,195.71 602.89,201.6 604.57,207.5 606.26,211.8 607.94,205.91 609.63,200.01 611.31,194.11 613,188.98 614.68,194.88 616.37,200.78 618.05,206.67 619.74,212.57 621.42,206.73 623.11,200.84 624.79,194.94 626.48,189.04 628.16,194.06 629.85,199.95 631.53,205.85 633.22,211.74 634.9,207.56 636.59,201.66 638.27,195.77 639.96,189.87 641.64,193.23 643.33,199.13 645.01,205.02 646.7,210.91 648.38,208.38 650.07,202.49 651.75,196.59 653.44,190.7 655.12,192.41 656.81,198.3 658.49,204.19 660.18,210.08 661.86,209.2 663.55,203.31 665.23,197.42 666.92,191.53 668.6,191.59 670.29,197.48 671.97,203.37 673.66,209.26 675.34,210.02 677.03,204.13 678.71,198.25 680.4,192.36 682.08,190.77 683.77,196.66 685.45,202.54 687.14,208.43 688.82,210.84 690.51,204.95 692.19,199.07 693.88,193.19 695.56,189.95 697.25,195.84 698.93,201.72 700.62,207.6 702.3,211.66 703.99,205.78 705.67,199.89 707.36,194.01 709.04,189.14 710.73,195.02 712.41,200.89 714.1,206.77 715.78,212.47 717.47,206.59 719.15,200.72 720.84,194.84 722.52,188.97 724.21,194.2 725.89,200.07 727.58,205.94 729.26,211.82 730.95,207.41 732.63,201.54 734.32,195.67 736,189.8 737.69,193.38 739.37,199.25 741.06,205.12 742.74,210.99 744.43,208.23 746.11,202.36 747.8,196.49 749.48,190.63 751.17,192.56 752.85,198.43 754.54,204.29 756.22,210.16 757.91,209.04 759.59,203.18 761.28,197.32 762.96,191.46 764.65,191.75 766.33,197.61 768.02,203.47 769.7,209.33 771.39,209.86 773.07,204 774.76,198.14 776.44,192.28 778.13,190.94 779.81,196.79 781.5,202.65 783.18,208.5 784.87,210.67 786.55,204.81 788.24,198.96 789.92,193.11 791.61,190.13 793.29,195.98 794.98,201.83 796.66,207.68 798.35,211.48 800.03,205.63 801.72,199.78 803.4,193.94 805.09,189.32 806.77,195.17 808.46,201.01 810.14,206.85 811.83,212.28 813.51,206.44 815.2,200.6 816.88,194.76 818.57,188.92 820.25,194.35" fill="none" stroke="#fff" stroke-width="1.4" stroke-opacity="0.32"/>
<path d="M130.31 200.07V239.23M133.68 200.56V228.5M137.05 191.61V229.76M140.42 194.08V221.48M143.79 189.15V222.58M147.16 191.71V216.53M150.53 189.06V216.22M153.9 191.62V212.01M157.27 192.16V210.42M160.64 194.51V207.54M164.01 197.21V205.14M167.38 199.21V203.15M170.75 200V202.28M174.12 197.35V204.38M177.49 194.84V206.54M180.86 193.41V207.95M184.23 192.12V209.31M187.6 191.92V209.64M190.97 191.25V210.45M194.34 191.45V210.34M197.71 191.14V210.55M201.08 191.77V209.44M204.45 192.17V208.44M207.82 193.43V206.89M211.19 195.67V204.92M214.56 197.93V203.46M217.93 199.29V203.05M221.3 191.47V208.4M224.67 186.03V213.48M228.04 182.32V217.87M231.41 179.31V221.4M234.78 176.29V224.8M238.15 178.25V221.84M241.52 180.1V218.46M244.89 183.99V214.77M248.26 186.22V213.2M251.63 189.32V210.62M255 191.21V209.19M258.37 191.59V208.98M261.74 189.07V212M265.11 187.49V213.91M268.48 183.53V217.55M271.85 183.94V216.62M275.22 180.3V220.1M278.59 184.88V215.58M281.96 183.74V216.76M285.33 186.93V213.54M288.7 185.51V214.93M292.07 187.97V212.43M295.44 185.57V215.1M298.81 186.32V215.74M302.18 176.98V225.14M305.55 180.36V221.03M308.92 167.9V233.48M312.29 177.92V223.5M315.66 170.84V230.64M319.03 183.84V217.63M322.4 179.4V222M325.77 187.23V214.16M329.14 182.88V218.52M332.51 186.36V215.04M335.88 177.46V223.94M339.25 183.13V218.27M342.62 173.78V227.62M345.99 181.66V219.74M349.36 173.54V227.87M352.73 181.37V220.06M356.1 174.18V227.28M359.47 181.31V220.18M362.84 174.96V226.55M366.21 181.28V220.17M369.58 175.75V225.52M372.95 181.28V219.72M376.32 176.61V224.12M379.69 181.35V219.19M383.06 177.48V223.02M386.43 181.53V219.05M389.8 178.48V222.22M393.17 181.82V219.02M396.54 179.36V221.59M399.91 181.79V219.21M403.28 179.76V221.24M406.65 181.48V219.53M410.02 180.05V220.98M413.39 181.16V219.89M416.76 180.33V220.75M420.13 180.84V220.26M423.5 180.61V220.52M426.87 180.51V220.64M430.24 180.89V220.27M433.61 180.18V221M436.98 181.19V220.01M440.35 179.86V221.34M443.72 181.5V219.7M447.09 179.55V221.65M450.46 181.81V219.39M453.83 179.24V221.96M457.2 182.11V219.09M460.57 178.93V222.27M463.94 182.42V218.78M467.31 178.62V222.58M470.68 182.73V218.47M474.05 178.31V222.89M477.42 183.04V218.16M480.79 178V223.2M484.16 183.35V217.85M487.53 177.69V223.51M490.9 183.66V217.54M494.27 177.38V223.82M497.64 183.97V217.23M501.01 177.07V224.13M504.38 184.28V216.92M507.75 176.76V224.44M511.12 184.59V216.61M514.49 176.45V224.75M517.86 184.9V216.3M521.23 176.14V225.06M524.6 184.99V216.21M527.97 176.37V224.83M531.34 184.68V216.52M534.71 176.67V224.53M538.08 184.37V216.83M541.45 176.98V224.22M544.82 184.06V217.14M548.19 177.29V223.91M551.56 183.75V217.45M554.93 177.6V223.6M558.3 183.44V217.76M561.67 177.91V223.29M565.04 183.13V218.07M568.41 178.22V222.98M571.78 182.82V218.38M575.15 178.53V222.67M578.52 182.51V218.69M581.89 178.84V222.36M585.26 182.2V219M588.63 179.15V222.05M592 181.89V219.31M595.37 179.46V221.74M598.74 181.58V219.62M602.11 179.77V221.43M605.48 181.27V219.93M608.85 180.08V221.12M612.22 180.97V220.23M615.59 180.39V220.81M618.96 180.66V220.54M622.33 180.7V220.5M625.7 180.35V220.85M629.07 181.01V220.19M632.44 180.04V221.16M635.81 181.32V219.88M639.18 179.74V221.46M642.55 181.64V219.56M645.92 179.43V221.77M649.29 181.95V219.25M652.66 179.12V222.08M656.03 182.26V218.94M659.4 178.82V222.38M662.77 182.57V218.63M666.14 178.52V222.68M669.51 182.88V218.32M672.88 178.21V222.99M676.25 183.2V218M679.62 177.91V223.29M682.99 183.51V217.69M686.36 177.61V223.59M689.73 183.82V217.38M693.1 177.31V223.89M696.47 184.13V217.07M699.84 177.01V224.19M703.21 184.44V216.76M706.58 176.71V224.49M709.95 184.75V216.45M713.32 176.42V224.78M716.69 185.06V216.14M720.06 176.3V224.9M723.43 184.89V216.31M726.8 176.61V224.59M730.17 184.59V216.61M733.54 176.93V224.27M736.91 184.29V216.91M740.28 177.25V223.95M743.65 183.98V217.22M747.02 177.57V223.63M750.39 183.68V217.52M753.76 177.88V223.32M757.13 183.38V217.82M760.5 178.2V223M763.87 183.08V218.12M767.24 178.52V222.68M770.61 182.79V218.41M773.98 178.83V222.37M777.35 182.49V218.71M780.72 179.15V222.05M784.09 182.19V219.01M787.46 179.46V221.74M790.83 181.9V219.3M794.2 179.78V221.42M797.57 181.6V219.6M800.94 180.09V221.11M804.31 181.31V219.89M807.68 180.4V220.8M811.05 181.01V220.19M814.42 180.72V220.48M817.79 180.72V220.48M821.16 181.03V220.17" stroke="#fff" stroke-width="0.85" fill="none"/>
<path d="M129.4 194.5V206.53M131.09 242.13V221.39M132.77 189.38V205.67M134.46 237.5V221.18M136.14 185.86V206.18M137.83 233.63V221.33M139.51 183.75V200.31M141.19 230.04V214.35M142.88 183.39V197.27M144.56 226.68V208.54M146.25 183.21V199.23M147.94 223.37V207.66M149.62 183.58V200.51M151.31 220.03V206.1M152.99 185.26V200.54M154.68 216.71V202.78M156.36 187.53V201.48M158.05 213.32V200.6M159.73 190.54V202.69M161.42 209.72V199.62M163.1 194.28V202.6M164.79 206.68V199.94M166.47 197.05V202.27M168.16 204.23V200.19M169.84 198.16V202.1M171.53 205.28V199.92M173.21 194.6V202.22M174.9 208.97V199.14M176.58 191.18V202.43M178.27 211.28V198.81M179.95 189.08V201.97M181.64 213.17V199.37M183.32 187.52V201.24M185 214.43V200.07M186.69 186.77V200.91M188.38 215.12V200.59M190.06 186.29V200.89M191.75 215.63V201.16M193.43 186.03V200.69M195.12 215.79V201.28M196.8 186.11V200.47M198.49 215.13V200.78M200.17 186.71V200.79M201.86 213.74V200.13M203.54 187.66V201.2M205.23 212.11V199.4M206.91 189.4V201.74M208.6 209.53V198.75M210.28 192.48V201.84M211.97 206.85V199.1M213.65 195.46V201.92M215.34 205.24V199.94M217.02 197.18V202.25M218.71 208.33V199.1M220.39 186.7V200.56M222.08 216.99V199.21M223.76 179.08V194.32M225.44 223.74V204.16M227.13 173.38V186.87M228.81 229.48V208.67M230.5 168.64V190.02M232.19 234.55V221.52M233.87 164.97V189.4M235.56 235.83V222.85M237.24 166.76V179.85M238.93 229.98V209.75M240.61 171.26V183.54M242.3 225.18V206.61M243.98 175.58V193.37M245.67 221.34V207.59M247.35 179.73V196.68M249.04 218.17V204.21M250.72 183.36V198.38M252.41 215.1V201.1M254.09 186.4V200.4M255.78 213.51V199.85M257.46 186.59V200.68M259.15 215.5V200.13M260.83 183.49V199.28M262.52 219.79V203.1M264.2 179.75V195.35M265.89 223.08V205.17M267.57 176.5V190.37M269.26 225.98V205.93M270.94 173.48V191.33M272.62 227.66V212.61M274.31 172.88V193.65M276 226.73V215.38M277.68 174.9V190.17M279.37 224.31V207.71M281.05 177.23V191.31M282.74 222.63V204.51M284.42 178.46V195.2M286.11 221.44V206.04M287.79 179.52V197.11M289.48 220.5V206.06M291.16 180.19V195.98M292.84 220.1V203.87M294.53 179.7V194.37M296.21 223.35V204.05M297.9 175.79V192.76M299.58 228.93V211.68M301.27 170.21V194.66M302.95 234.9V225.89M304.64 164.02V182.16M306.32 239.67V217.95M308.01 159.65V169.96M309.69 242.85V209.23M311.38 159.07V181.79M313.06 240.37V220.4M314.75 163.68V193.7M316.44 235.4V226.97M318.12 168.83V185.35M319.81 229.84V214.06M321.49 173.69V184.2M323.18 226.14V205.38M324.86 176.63V193.01M326.55 223.98V208.13M328.23 177.29V196.77M329.92 225.12V211.32M331.6 174.82V191.31M333.29 228.03V210.98M334.97 171.52V179.87M336.66 231.86V206.62M338.34 168.12V184.69M340.03 233.96V215.74M341.71 166.86V194.02M343.4 234.98V226.32M345.08 166.15V185.42M346.77 235.3V218.1M348.45 166.13V175.21M350.14 235.23V207.89M351.82 166.26V183.04M353.51 235.09V215.57M355.19 166.47V193.26M356.88 234.88V225.55M358.56 166.73V186.41M360.25 234.63V218.48M361.93 167V176.58M363.62 234.36V208.42M365.3 167.27V182.89M366.99 233.94V214.35M368.67 167.6V192.77M370.36 233.35V223.69M372.04 167.97V187.49M373.73 232.7V217.95M375.41 168.36V178.13M377.1 232.07V208.18M378.78 168.74V182.84M380.46 231.58V212.44M382.15 169.1V192.23M383.83 231.23V221.44M385.52 169.52V188.65M387.2 230.9V217.52M388.89 169.96V179.9M390.57 230.59V208.46M392.26 170.37V183.22M393.94 230.36V211.44M395.63 170.67V192.22M397.31 230.22V219.94M399 170.8V189.99M400.69 230.2V217.51M402.37 170.8V181.49M404.06 230.22V209.02M405.74 170.79V183.17M407.43 230.24V210.74M409.11 170.77V191.69M410.8 230.28V219.31M412.48 170.75V190.57M414.17 230.32V218.27M415.85 170.73V181.94M417.54 230.37V209.71M419.22 170.7V182.4M420.91 230.42V210.26M422.59 170.68V191.06M424.28 230.47V219.01M425.96 170.65V191.14M427.65 230.51V219.17M429.33 170.63V182.35M431.02 230.55V210.44M432.7 170.62V181.61M434.39 230.58V209.75M436.07 170.61V190.42M437.76 230.6V218.6M439.44 170.6V191.74M441.13 230.6V219.94M442.81 170.6V182.9M444.5 230.6V211.1M446.18 170.6V180.95M447.87 230.6V209.15M449.55 170.6V189.79M451.24 230.6V217.99M452.92 170.6V192.36M454.6 230.6V220.56M456.29 170.6V183.51M457.97 230.6V211.71M459.66 170.6V180.33M461.34 230.6V208.53M463.03 170.6V189.18M464.71 230.6V217.38M466.4 170.6V192.98M468.08 230.6V221.18M469.77 170.6V184.13M471.45 230.6V212.33M473.14 170.6V179.71M474.82 230.6V207.91M476.51 170.6V188.56M478.19 230.6V216.76M479.88 170.6V193.6M481.56 230.6V221.8M483.25 170.6V184.75M484.94 230.6V212.95M486.62 170.6V179.09M488.31 230.6V207.29M489.99 170.6V187.94M491.68 230.6V216.14M493.36 170.6V194.22M495.05 230.6V222.42M496.73 170.6V185.37M498.42 230.6V213.57M500.1 170.6V178.47M501.79 230.6V206.67M503.47 170.6V187.32M505.16 230.6V215.52M506.84 170.6V194.84M508.53 230.6V223.04M510.21 170.6V185.99M511.9 230.6V214.19M513.58 170.6V177.85M515.26 230.6V206.05M516.95 170.6V186.7M518.63 230.6V214.9M520.32 170.6V195.46M522 230.6V223.66M523.69 170.6V186.61M525.38 230.6V214.81M527.06 170.6V177.77M528.75 230.6V205.97M530.43 170.6V186.08M532.12 230.6V214.28M533.8 170.6V194.93M535.49 230.6V223.13M537.17 170.6V187.23M538.86 230.6V215.43M540.54 170.6V178.38M542.22 230.6V206.58M543.91 170.6V185.46M545.59 230.6V213.66M547.28 170.6V194.31M548.96 230.6V222.51M550.65 170.6V187.85M552.33 230.6V216.05M554.02 170.6V179M555.7 230.6V207.2M557.39 170.6V184.84M559.07 230.6V213.04M560.76 170.6V193.69M562.44 230.6V221.89M564.13 170.6V188.47M565.81 230.6V216.67M567.5 170.6V179.62M569.18 230.6V207.82M570.87 170.6V184.22M572.55 230.6V212.42M574.24 170.6V193.07M575.92 230.6V221.27M577.61 170.6V189.09M579.29 230.6V217.29M580.98 170.6V180.24M582.66 230.6V208.44M584.35 170.6V183.6M586.03 230.6V211.8M587.72 170.6V192.45M589.4 230.6V220.65M591.09 170.6V189.71M592.77 230.6V217.91M594.46 170.6V180.86M596.14 230.6V209.06M597.83 170.6V182.98M599.51 230.6V211.18M601.2 170.6V191.83M602.88 230.6V220.03M604.57 170.6V190.33M606.25 230.6V218.53M607.94 170.6V181.48M609.62 230.6V209.68M611.31 170.6V182.37M613 230.6V210.56M614.68 170.6V191.21M616.37 230.6V219.41M618.05 170.6V190.95M619.74 230.6V219.14M621.42 170.6V182.11M623.11 230.6V210.3M624.79 170.61V181.75M626.48 230.59V209.94M628.16 170.61V190.59M629.84 230.59V218.78M631.53 170.61V191.57M633.21 230.59V219.75M634.9 170.61V182.74M636.58 230.59V210.91M638.27 170.61V181.15M639.95 230.59V209.32M641.64 170.61V189.98M643.32 230.58V218.15M645.01 170.62V192.19M646.69 230.58V220.35M648.38 170.62V183.37M650.06 230.58V211.52M651.75 170.62V180.55M653.43 230.58V208.7M655.12 170.62V189.37M656.8 230.57V217.51M658.49 170.63V192.81M660.17 230.57V220.95M661.86 170.63V184M663.54 230.57V212.13M665.23 170.63V179.96M666.91 230.56V208.08M668.6 170.64V188.77M670.28 230.56V216.88M671.97 170.64V193.43M673.65 230.56V221.54M675.34 170.64V184.64M677.02 230.55V212.74M678.71 170.65V179.37M680.39 230.55V207.46M682.08 170.65V188.16M683.76 230.55V216.24M685.45 170.66V194.05M687.13 230.54V222.12M688.82 170.66V185.28M690.5 230.54V213.33M692.19 170.67V178.79M693.87 230.53V206.84M695.56 170.67V187.57M697.24 230.53V215.6M698.93 170.67V194.66M700.61 230.52V222.69M702.3 170.68V185.91M703.98 230.52V213.93M705.67 170.68V178.22M707.35 230.51V206.23M709.04 170.69V186.97M710.72 230.51V214.97M712.41 170.69V195.28M714.09 230.5V223.26M715.78 170.7V186.55M717.46 230.5V214.52M719.15 170.7V177.83M720.83 230.49V205.79M722.52 170.71V186.39M724.2 230.49V214.33M725.89 170.72V195.1M727.57 230.48V223.04M729.26 170.72V187.18M730.94 230.48V215.1M732.63 170.73V178.49M734.31 230.47V206.4M736 170.73V185.81M737.68 230.46V213.7M739.37 170.74V194.5M741.05 230.46V222.37M742.74 170.74V187.82M744.42 230.45V215.68M746.11 170.75V179.15M747.79 230.45V207.01M749.48 170.76V185.23M751.16 230.44V213.07M752.85 170.76V193.89M754.53 230.43V221.72M756.22 170.77V188.45M757.9 230.43V216.26M759.59 170.78V179.81M761.27 230.42V207.61M762.96 170.78V184.66M764.64 230.41V212.44M766.33 170.79V193.29M768.01 230.41V221.06M769.7 170.8V189.07M771.38 230.4V216.82M773.07 170.8V180.47M774.75 230.39V208.2M776.44 170.81V184.09M778.12 230.39V211.81M779.81 170.82V192.7M781.49 230.38V220.4M783.18 170.82V189.7M784.86 230.37V217.38M786.55 170.83V181.12M788.23 230.37V208.8M789.92 170.84V183.54M791.6 230.36V211.19M793.29 170.84V192.11M794.97 230.35V219.75M796.66 170.85V190.32M798.34 230.35V217.94M800.03 170.86V181.77M801.71 230.34V209.38M803.4 170.86V182.98M805.08 230.33V210.58M806.77 170.87V191.52M808.45 230.33V219.1M810.14 170.88V190.93M811.82 230.32V218.49M813.51 170.89V182.42M815.19 230.31V209.97M816.88 170.89V182.43M818.56 230.3V209.96M820.25 170.9V190.94" stroke="#1414be" stroke-width="1.9" stroke-opacity="0.38" fill="none"/>
<path d="M129.4 194.5V206.53M131.09 242.13V221.39M132.77 189.38V205.67M134.46 237.5V221.18M136.14 185.86V206.18M137.83 233.63V221.33M139.51 183.75V200.31M141.19 230.04V214.35M142.88 183.39V197.27M144.56 226.68V208.54M146.25 183.21V199.23M147.94 223.37V207.66M149.62 183.58V200.51M151.31 220.03V206.1M152.99 185.26V200.54M154.68 216.71V202.78M156.36 187.53V201.48M158.05 213.32V200.6M159.73 190.54V202.69M161.42 209.72V199.62M163.1 194.28V202.6M164.79 206.68V199.94M166.47 197.05V202.27M168.16 204.23V200.19M169.84 198.16V202.1M171.53 205.28V199.92M173.21 194.6V202.22M174.9 208.97V199.14M176.58 191.18V202.43M178.27 211.28V198.81M179.95 189.08V201.97M181.64 213.17V199.37M183.32 187.52V201.24M185 214.43V200.07M186.69 186.77V200.91M188.38 215.12V200.59M190.06 186.29V200.89M191.75 215.63V201.16M193.43 186.03V200.69M195.12 215.79V201.28M196.8 186.11V200.47M198.49 215.13V200.78M200.17 186.71V200.79M201.86 213.74V200.13M203.54 187.66V201.2M205.23 212.11V199.4M206.91 189.4V201.74M208.6 209.53V198.75M210.28 192.48V201.84M211.97 206.85V199.1M213.65 195.46V201.92M215.34 205.24V199.94M217.02 197.18V202.25M218.71 208.33V199.1M220.39 186.7V200.56M222.08 216.99V199.21M223.76 179.08V194.32M225.44 223.74V204.16M227.13 173.38V186.87M228.81 229.48V208.67M230.5 168.64V190.02M232.19 234.55V221.52M233.87 164.97V189.4M235.56 235.83V222.85M237.24 166.76V179.85M238.93 229.98V209.75M240.61 171.26V183.54M242.3 225.18V206.61M243.98 175.58V193.37M245.67 221.34V207.59M247.35 179.73V196.68M249.04 218.17V204.21M250.72 183.36V198.38M252.41 215.1V201.1M254.09 186.4V200.4M255.78 213.51V199.85M257.46 186.59V200.68M259.15 215.5V200.13M260.83 183.49V199.28M262.52 219.79V203.1M264.2 179.75V195.35M265.89 223.08V205.17M267.57 176.5V190.37M269.26 225.98V205.93M270.94 173.48V191.33M272.62 227.66V212.61M274.31 172.88V193.65M276 226.73V215.38M277.68 174.9V190.17M279.37 224.31V207.71M281.05 177.23V191.31M282.74 222.63V204.51M284.42 178.46V195.2M286.11 221.44V206.04M287.79 179.52V197.11M289.48 220.5V206.06M291.16 180.19V195.98M292.84 220.1V203.87M294.53 179.7V194.37M296.21 223.35V204.05M297.9 175.79V192.76M299.58 228.93V211.68M301.27 170.21V194.66M302.95 234.9V225.89M304.64 164.02V182.16M306.32 239.67V217.95M308.01 159.65V169.96M309.69 242.85V209.23M311.38 159.07V181.79M313.06 240.37V220.4M314.75 163.68V193.7M316.44 235.4V226.97M318.12 168.83V185.35M319.81 229.84V214.06M321.49 173.69V184.2M323.18 226.14V205.38M324.86 176.63V193.01M326.55 223.98V208.13M328.23 177.29V196.77M329.92 225.12V211.32M331.6 174.82V191.31M333.29 228.03V210.98M334.97 171.52V179.87M336.66 231.86V206.62M338.34 168.12V184.69M340.03 233.96V215.74M341.71 166.86V194.02M343.4 234.98V226.32M345.08 166.15V185.42M346.77 235.3V218.1M348.45 166.13V175.21M350.14 235.23V207.89M351.82 166.26V183.04M353.51 235.09V215.57M355.19 166.47V193.26M356.88 234.88V225.55M358.56 166.73V186.41M360.25 234.63V218.48M361.93 167V176.58M363.62 234.36V208.42M365.3 167.27V182.89M366.99 233.94V214.35M368.67 167.6V192.77M370.36 233.35V223.69M372.04 167.97V187.49M373.73 232.7V217.95M375.41 168.36V178.13M377.1 232.07V208.18M378.78 168.74V182.84M380.46 231.58V212.44M382.15 169.1V192.23M383.83 231.23V221.44M385.52 169.52V188.65M387.2 230.9V217.52M388.89 169.96V179.9M390.57 230.59V208.46M392.26 170.37V183.22M393.94 230.36V211.44M395.63 170.67V192.22M397.31 230.22V219.94M399 170.8V189.99M400.69 230.2V217.51M402.37 170.8V181.49M404.06 230.22V209.02M405.74 170.79V183.17M407.43 230.24V210.74M409.11 170.77V191.69M410.8 230.28V219.31M412.48 170.75V190.57M414.17 230.32V218.27M415.85 170.73V181.94M417.54 230.37V209.71M419.22 170.7V182.4M420.91 230.42V210.26M422.59 170.68V191.06M424.28 230.47V219.01M425.96 170.65V191.14M427.65 230.51V219.17M429.33 170.63V182.35M431.02 230.55V210.44M432.7 170.62V181.61M434.39 230.58V209.75M436.07 170.61V190.42M437.76 230.6V218.6M439.44 170.6V191.74M441.13 230.6V219.94M442.81 170.6V182.9M444.5 230.6V211.1M446.18 170.6V180.95M447.87 230.6V209.15M449.55 170.6V189.79M451.24 230.6V217.99M452.92 170.6V192.36M454.6 230.6V220.56M456.29 170.6V183.51M457.97 230.6V211.71M459.66 170.6V180.33M461.34 230.6V208.53M463.03 170.6V189.18M464.71 230.6V217.38M466.4 170.6V192.98M468.08 230.6V221.18M469.77 170.6V184.13M471.45 230.6V212.33M473.14 170.6V179.71M474.82 230.6V207.91M476.51 170.6V188.56M478.19 230.6V216.76M479.88 170.6V193.6M481.56 230.6V221.8M483.25 170.6V184.75M484.94 230.6V212.95M486.62 170.6V179.09M488.31 230.6V207.29M489.99 170.6V187.94M491.68 230.6V216.14M493.36 170.6V194.22M495.05 230.6V222.42M496.73 170.6V185.37M498.42 230.6V213.57M500.1 170.6V178.47M501.79 230.6V206.67M503.47 170.6V187.32M505.16 230.6V215.52M506.84 170.6V194.84M508.53 230.6V223.04M510.21 170.6V185.99M511.9 230.6V214.19M513.58 170.6V177.85M515.26 230.6V206.05M516.95 170.6V186.7M518.63 230.6V214.9M520.32 170.6V195.46M522 230.6V223.66M523.69 170.6V186.61M525.38 230.6V214.81M527.06 170.6V177.77M528.75 230.6V205.97M530.43 170.6V186.08M532.12 230.6V214.28M533.8 170.6V194.93M535.49 230.6V223.13M537.17 170.6V187.23M538.86 230.6V215.43M540.54 170.6V178.38M542.22 230.6V206.58M543.91 170.6V185.46M545.59 230.6V213.66M547.28 170.6V194.31M548.96 230.6V222.51M550.65 170.6V187.85M552.33 230.6V216.05M554.02 170.6V179M555.7 230.6V207.2M557.39 170.6V184.84M559.07 230.6V213.04M560.76 170.6V193.69M562.44 230.6V221.89M564.13 170.6V188.47M565.81 230.6V216.67M567.5 170.6V179.62M569.18 230.6V207.82M570.87 170.6V184.22M572.55 230.6V212.42M574.24 170.6V193.07M575.92 230.6V221.27M577.61 170.6V189.09M579.29 230.6V217.29M580.98 170.6V180.24M582.66 230.6V208.44M584.35 170.6V183.6M586.03 230.6V211.8M587.72 170.6V192.45M589.4 230.6V220.65M591.09 170.6V189.71M592.77 230.6V217.91M594.46 170.6V180.86M596.14 230.6V209.06M597.83 170.6V182.98M599.51 230.6V211.18M601.2 170.6V191.83M602.88 230.6V220.03M604.57 170.6V190.33M606.25 230.6V218.53M607.94 170.6V181.48M609.62 230.6V209.68M611.31 170.6V182.37M613 230.6V210.56M614.68 170.6V191.21M616.37 230.6V219.41M618.05 170.6V190.95M619.74 230.6V219.14M621.42 170.6V182.11M623.11 230.6V210.3M624.79 170.61V181.75M626.48 230.59V209.94M628.16 170.61V190.59M629.84 230.59V218.78M631.53 170.61V191.57M633.21 230.59V219.75M634.9 170.61V182.74M636.58 230.59V210.91M638.27 170.61V181.15M639.95 230.59V209.32M641.64 170.61V189.98M643.32 230.58V218.15M645.01 170.62V192.19M646.69 230.58V220.35M648.38 170.62V183.37M650.06 230.58V211.52M651.75 170.62V180.55M653.43 230.58V208.7M655.12 170.62V189.37M656.8 230.57V217.51M658.49 170.63V192.81M660.17 230.57V220.95M661.86 170.63V184M663.54 230.57V212.13M665.23 170.63V179.96M666.91 230.56V208.08M668.6 170.64V188.77M670.28 230.56V216.88M671.97 170.64V193.43M673.65 230.56V221.54M675.34 170.64V184.64M677.02 230.55V212.74M678.71 170.65V179.37M680.39 230.55V207.46M682.08 170.65V188.16M683.76 230.55V216.24M685.45 170.66V194.05M687.13 230.54V222.12M688.82 170.66V185.28M690.5 230.54V213.33M692.19 170.67V178.79M693.87 230.53V206.84M695.56 170.67V187.57M697.24 230.53V215.6M698.93 170.67V194.66M700.61 230.52V222.69M702.3 170.68V185.91M703.98 230.52V213.93M705.67 170.68V178.22M707.35 230.51V206.23M709.04 170.69V186.97M710.72 230.51V214.97M712.41 170.69V195.28M714.09 230.5V223.26M715.78 170.7V186.55M717.46 230.5V214.52M719.15 170.7V177.83M720.83 230.49V205.79M722.52 170.71V186.39M724.2 230.49V214.33M725.89 170.72V195.1M727.57 230.48V223.04M729.26 170.72V187.18M730.94 230.48V215.1M732.63 170.73V178.49M734.31 230.47V206.4M736 170.73V185.81M737.68 230.46V213.7M739.37 170.74V194.5M741.05 230.46V222.37M742.74 170.74V187.82M744.42 230.45V215.68M746.11 170.75V179.15M747.79 230.45V207.01M749.48 170.76V185.23M751.16 230.44V213.07M752.85 170.76V193.89M754.53 230.43V221.72M756.22 170.77V188.45M757.9 230.43V216.26M759.59 170.78V179.81M761.27 230.42V207.61M762.96 170.78V184.66M764.64 230.41V212.44M766.33 170.79V193.29M768.01 230.41V221.06M769.7 170.8V189.07M771.38 230.4V216.82M773.07 170.8V180.47M774.75 230.39V208.2M776.44 170.81V184.09M778.12 230.39V211.81M779.81 170.82V192.7M781.49 230.38V220.4M783.18 170.82V189.7M784.86 230.37V217.38M786.55 170.83V181.12M788.23 230.37V208.8M789.92 170.84V183.54M791.6 230.36V211.19M793.29 170.84V192.11M794.97 230.35V219.75M796.66 170.85V190.32M798.34 230.35V217.94M800.03 170.86V181.77M801.71 230.34V209.38M803.4 170.86V182.98M805.08 230.33V210.58M806.77 170.87V191.52M808.45 230.33V219.1M810.14 170.88V190.93M811.82 230.32V218.49M813.51 170.89V182.42M815.19 230.31V209.97M816.88 170.89V182.43M818.56 230.3V209.96M820.25 170.9V190.94" stroke="#1414be" stroke-width="1" fill="none" shape-rendering="crispEdges"/>
</g>
<polyline points="468.45,170.45 476.45,170.45 478.45,171.15 596.45,171.15 600.45,170.45 803.45,170.45" fill="none" stroke="#e00808" stroke-width="2.3" stroke-linejoin="round" stroke-linecap="round"/>
<rect x="45.2" y="154.3" width="775.2" height="93.1" fill="none" stroke="#4a4a4a" stroke-width="1.15"/>
<line x1="213.7" y1="247.4" x2="213.7" y2="242.9" stroke="#4a4a4a" stroke-width="1"/>
<line x1="213.7" y1="154.3" x2="213.7" y2="158.8" stroke="#4a4a4a" stroke-width="1"/>
<line x1="382.2" y1="247.4" x2="382.2" y2="242.9" stroke="#4a4a4a" stroke-width="1"/>
<line x1="382.2" y1="154.3" x2="382.2" y2="158.8" stroke="#4a4a4a" stroke-width="1"/>
<line x1="550.7" y1="247.4" x2="550.7" y2="242.9" stroke="#4a4a4a" stroke-width="1"/>
<line x1="550.7" y1="154.3" x2="550.7" y2="158.8" stroke="#4a4a4a" stroke-width="1"/>
<line x1="719.2" y1="247.4" x2="719.2" y2="242.9" stroke="#4a4a4a" stroke-width="1"/>
<line x1="719.2" y1="154.3" x2="719.2" y2="158.8" stroke="#4a4a4a" stroke-width="1"/>
<line x1="45.2" y1="162.1" x2="49.7" y2="162.1" stroke="#4a4a4a" stroke-width="1"/>
<line x1="820.4" y1="162.1" x2="815.9" y2="162.1" stroke="#4a4a4a" stroke-width="1"/>
<line x1="45.2" y1="201" x2="49.7" y2="201" stroke="#4a4a4a" stroke-width="1"/>
<line x1="820.4" y1="201" x2="815.9" y2="201" stroke="#4a4a4a" stroke-width="1"/>
<line x1="45.2" y1="239.9" x2="49.7" y2="239.9" stroke="#4a4a4a" stroke-width="1"/>
<line x1="820.4" y1="239.9" x2="815.9" y2="239.9" stroke="#4a4a4a" stroke-width="1"/>
<text transform="translate(44.3 166.1) scale(0.85 1)" text-anchor="end" font-size="10.4">1</text>
<text transform="translate(44 205) scale(0.85 1)" text-anchor="end" font-size="10.4">0</text>
<text transform="translate(44.3 244.1) scale(0.85 1)" text-anchor="end" font-size="10.4">−<tspan dx="0.9">1</tspan></text>
<text transform="translate(45.6 258) scale(0.85 1)" font-size="10.4">1</text>
<text transform="translate(213.1 258) scale(0.85 1)" font-size="10.4">2</text>
<text transform="translate(381.6 258) scale(0.85 1)" font-size="10.4">3</text>
<text transform="translate(550.1 258) scale(0.85 1)" font-size="10.4">4</text>
<text transform="translate(718.6 258) scale(0.85 1)" font-size="10.4">5</text>
<text x="426.9" y="272.8" textLength="15.3" lengthAdjust="spacingAndGlyphs" font-size="10.4">t, t3</text>
<text x="7.8" y="193.2" textLength="13.6" lengthAdjust="spacingAndGlyphs" font-size="10.4">IA2</text>
<line x1="6.5" y1="198.5" x2="25" y2="198.5" stroke="#3a3ac8" stroke-width="1.1"/>
<text x="7.8" y="211.9" textLength="27.8" lengthAdjust="spacingAndGlyphs" font-size="10.4">IA2max</text>
<line x1="7" y1="217" x2="24.8" y2="217" stroke="#e00808" stroke-width="2.3" stroke-linecap="round"/>
<clipPath id="s48"><rect x="48.3" y="299.5" width="212.3" height="87.1"/></clipPath>
<g clip-path="url(#s48)">
<polyline points="48.3,321.28 48.73,321.23 49.15,321.19 49.58,321.15 50,321.11 50.43,321.08 50.85,321.05 51.28,321.02 51.7,321 52.13,320.98 52.55,320.96 52.98,320.94 53.41,320.92 53.83,320.91 54.26,320.89 54.68,320.88 55.11,320.87 55.53,320.87 55.96,320.86 56.38,320.85 56.81,320.85 57.23,320.85 57.66,320.84 58.09,320.84 58.51,320.84 58.94,320.84 59.36,320.84 59.79,320.84 60.21,320.84 60.64,320.91 61.06,321.09 61.49,321.33 61.91,321.59 62.34,321.81 62.77,321.92 63.19,321.93 63.62,321.93 64.04,321.92 64.47,321.92 64.89,321.91 65.32,321.9 65.74,321.89 66.17,321.88 66.59,321.87 67.02,321.86 67.45,321.84 67.87,321.83 68.3,321.82 68.72,321.8 69.15,321.79 69.57,321.78 70,321.77 70.42,321.76 70.85,321.74 71.27,321.74 71.7,321.73 72.13,321.72 72.55,321.72 72.98,321.71 73.4,321.71 73.83,321.78 74.25,322.03 74.68,322.42 75.1,323.02 75.53,324.26 75.95,325.98 76.38,327.9 76.81,329.8 77.23,331.42 77.66,332.56 78.08,333.63 78.51,334.66 78.93,335.59 79.36,336.33 79.78,336.81 80.21,336.95 80.63,336.87 81.06,336.66 81.49,336.37 81.91,336 82.34,335.57 82.76,334.63 83.19,333.08 83.61,331.09 84.04,328.84 84.46,326.5 84.89,324.25 85.31,322.27 85.74,320.56 86.17,318.76 86.59,316.91 87.02,315.13 87.44,313.52 87.87,312.19 88.29,311.24 88.72,310.77 89.14,310.49 89.57,310.26 89.99,310.09 90.42,309.98 90.85,309.96 91.27,310.34 91.7,311.14 92.12,312.24 92.55,313.5 92.97,314.8 93.4,316.01 93.82,317.26 94.25,318.75 94.67,320.35 95.1,321.94 95.53,323.4 95.95,324.59 96.38,325.4 96.8,325.77 97.23,326.03 97.65,326.24 98.08,326.4 98.5,326.49 98.93,326.47 99.35,326.28 99.78,325.94 100.21,325.52 100.63,325.09 101.06,324.71 101.48,324.43 101.91,324.32 102.33,324.51 102.76,325.03 103.18,325.8 103.61,326.76 104.03,327.82 104.46,329.43 104.88,331.86 105.31,334.85 105.74,338.15 106.16,341.48 106.59,344.59 107.01,347.47 107.44,350.5 107.86,353.58 108.29,356.56 108.71,359.31 109.14,361.7 109.56,363.71 109.99,365.73 110.42,367.62 110.84,369.11 111.27,369.95 111.69,369.96 112.12,369.42 112.54,368.54 112.97,367.46 113.39,366.36 113.82,364.78 114.24,362.81 114.67,360.97 115.1,359.72 115.52,359.16 115.95,358.7 116.37,358.4 116.8,358.29 117.22,358.46 117.65,358.85 118.07,359.36 118.5,359.87 118.92,360.27 119.35,360.47 119.78,360.43 120.2,360.29 120.63,360.07 121.05,359.78 121.48,359.33 121.9,358.13 122.33,356.26 122.75,353.97 123.18,351.5 123.6,349.08 124.03,346.93 124.46,344.8 124.88,342.56 125.31,340.25 125.73,337.93 126.16,335.65 126.58,333.47 127.01,331.43 127.43,329.58 127.86,327.99 128.28,326.58 128.71,325.23 129.14,323.93 129.56,322.71 129.99,321.57 130.41,320.53 130.84,319.59 131.26,318.76 131.69,318.07 132.11,317.5 132.54,316.96 132.96,316.43 133.39,315.93 133.82,315.47 134.24,315.07 134.67,314.74 135.09,314.5 135.52,314.35 135.94,314.31 136.37,314.34 136.79,314.41 137.22,314.51 137.64,314.65 138.07,314.81 138.5,314.99 138.92,315.18 139.35,315.38 139.77,315.58 140.2,315.79 140.62,316.06 141.05,316.37 141.47,316.71 141.9,317.1 142.32,317.51 142.75,317.94 143.18,318.38 143.6,318.84 144.03,319.29 144.45,319.75 144.88,320.2 145.3,320.63 145.73,321.04 146.15,321.43 146.58,321.78 147,322.13 147.43,322.48 147.86,322.83 148.28,323.18 148.71,323.53 149.13,323.87 149.56,324.21 149.98,324.54 150.41,324.85 150.83,325.16 151.26,325.45 151.68,325.72 152.11,325.98 152.54,326.21 152.96,326.43 153.39,326.62 153.81,326.82 154.24,327.01 154.66,327.21 155.09,327.4 155.51,327.59 155.94,327.77 156.36,327.94 156.79,328.09 157.22,328.24 157.64,328.36 158.07,328.47 158.49,328.56 158.92,328.62 159.34,328.66 159.77,328.68 160.19,328.67 160.62,328.66 161.04,328.64 161.47,328.61 161.9,328.58 162.32,328.54 162.75,328.49 163.17,328.44 163.6,328.39 164.02,328.33 164.45,328.28 164.87,328.21 165.3,328.15 165.72,328.09 166.15,328.03 166.58,327.97 167,327.9 167.43,327.85 167.85,327.79 168.28,327.73 168.7,327.67 169.13,327.61 169.55,327.55 169.98,327.48 170.4,327.41 170.83,327.34 171.26,327.27 171.68,327.2 172.11,327.13 172.53,327.05 172.96,326.98 173.38,326.9 173.81,326.83 174.23,326.75 174.66,326.68 175.08,326.61 175.51,326.53 175.94,326.46 176.36,326.39 176.79,326.31 177.21,326.24 177.64,326.17 178.06,326.11 178.49,326.04 178.91,325.98 179.34,325.91 179.76,325.84 180.19,325.78 180.62,325.71 181.04,325.64 181.47,325.57 181.89,325.51 182.32,325.44 182.74,325.37 183.17,325.31 183.59,325.24 184.02,325.18 184.44,325.12 184.87,325.06 185.3,324.99 185.72,324.93 186.15,324.88 186.57,324.82 187,324.77 187.42,324.71 187.85,324.66 188.27,324.61 188.7,324.57 189.12,324.52 189.55,324.48 189.98,324.43 190.4,324.38 190.83,324.34 191.25,324.29 191.68,324.24 192.1,324.2 192.53,324.15 192.95,324.11 193.38,324.07 193.8,324.03 194.23,324 194.66,323.97 195.08,323.94 195.51,323.92 195.93,323.9 196.36,323.89 196.78,323.89 197.21,323.89 197.63,323.89 198.06,323.89 198.48,323.9 198.91,323.9 199.34,323.91 199.76,323.92 200.19,323.93 200.61,323.94 201.04,323.95 201.46,323.96 201.89,323.97 202.31,323.98 202.74,323.99 203.16,324 203.59,324.01 204.02,324.02 204.44,324.03 204.87,324.03 205.29,324.04 205.72,324.05 206.14,324.05 206.57,324.06 206.99,324.06 207.42,324.06 207.84,324.06 208.27,324.05 208.69,324.03 209.12,324.01 209.55,323.98 209.97,323.94 210.4,323.91 210.82,323.87 211.25,323.83 211.67,323.78 212.1,323.74 212.52,323.7 212.95,323.66 213.37,323.63 213.8,323.6 214.23,323.57 214.65,323.56 215.08,323.54 215.5,323.54 215.93,323.55 216.35,323.58 216.78,323.62 217.2,323.67 217.63,323.73 218.05,323.79 218.48,323.85 218.91,323.91 219.33,323.97 219.76,324.01 220.18,324.04 220.61,324.06 221.03,324.06 221.46,324.06 221.88,324.06 222.31,324.06 222.73,324.06 223.16,324.06 223.59,324.06 224.01,324.06 224.44,324.06 224.86,324.06 225.29,324.06 225.71,324.06 226.14,324.06 226.56,324.06 226.99,324.06 227.41,324.06 227.84,324.06 228.27,324.06 228.69,324.06 229.12,324.06 229.54,324.06 229.97,324.06 230.39,324.06 230.82,324.06 231.24,324.06 231.67,324.06 232.09,324.06 232.52,324.06 232.95,324.06 233.37,324.06 233.8,324.06 234.22,324.06 234.65,324.06 235.07,324.06 235.5,324.06 235.92,324.06 236.35,324.06 236.77,324.06 237.2,324.06 237.63,324.06 238.05,324.06 238.48,324.06 238.9,324.06 239.33,324.06 239.75,324.06 240.18,324.06 240.6,324.06 241.03,324.06 241.45,324.06 241.88,324.06 242.31,324.06 242.73,324.06 243.16,324.06 243.58,324.06 244.01,324.06 244.43,324.06 244.86,324.06 245.28,324.06 245.71,324.06 246.13,324.06 246.56,324.06 246.99,324.06 247.41,324.06 247.84,324.06 248.26,324.06 248.69,324.06 249.11,324.06 249.54,324.06 249.96,324.06 250.39,324.06 250.81,324.06 251.24,324.06 251.67,324.06 252.09,324.06 252.52,324.06 252.94,324.06 253.37,324.06 253.79,324.06 254.22,324.06 254.64,324.06 255.07,324.06 255.49,324.06 255.92,324.06 256.35,324.06 256.77,324.06 257.2,324.06 257.62,324.06 258.05,324.06 258.47,324.06 258.9,324.06 259.32,324.06 259.75,324.06 260.17,324.06 260.6,324.06" fill="none" stroke="#c22a2a" stroke-width="1.2" stroke-linejoin="round" />
<polyline points="48.3,321.28 48.73,321.11 49.15,320.99 49.58,320.91 50,320.87 50.43,320.85 50.85,320.84 51.28,320.88 51.7,321.05 52.13,321.29 52.55,321.55 52.98,321.77 53.41,321.91 53.83,321.93 54.26,321.93 54.68,321.93 55.11,321.93 55.53,321.92 55.96,321.92 56.38,321.92 56.81,321.91 57.23,321.91 57.66,321.91 58.09,321.9 58.51,321.9 58.94,321.89 59.36,321.89 59.79,321.88 60.21,321.88 60.64,321.87 61.06,321.87 61.49,321.86 61.91,321.85 62.34,321.85 62.77,321.84 63.19,321.84 63.62,321.83 64.04,321.82 64.47,321.82 64.89,321.81 65.32,321.8 65.74,321.8 66.17,321.79 66.59,321.78 67.02,321.78 67.45,321.77 67.87,321.77 68.3,321.76 68.72,321.75 69.15,321.75 69.57,321.74 70,321.74 70.42,321.73 70.85,321.73 71.27,321.73 71.7,321.72 72.13,321.72 72.55,321.72 72.98,321.72 73.4,321.71 73.83,321.71 74.25,321.71 74.68,321.71 75.1,321.71 75.53,321.71 75.95,321.71 76.38,321.71 76.81,321.71 77.23,321.71 77.66,321.71 78.08,321.71 78.51,321.71 78.93,321.71 79.36,321.71 79.78,321.71 80.21,321.71 80.63,321.71 81.06,321.71 81.49,321.71 81.91,321.71 82.34,321.71 82.76,321.71 83.19,321.71 83.61,321.71 84.04,321.71 84.46,321.71 84.89,321.71 85.31,321.71 85.74,321.73 86.17,321.82 86.59,321.97 87.02,322.19 87.44,322.47 87.87,322.81 88.29,323.31 88.72,324.76 89.14,326.89 89.57,329.24 89.99,331.31 90.42,332.75 90.85,334.1 91.27,335.41 91.7,336.58 92.12,337.51 92.55,338.1 92.97,338.25 93.4,338.04 93.82,337.58 94.25,336.95 94.67,336.2 95.1,335.09 95.53,333.2 95.95,330.78 96.38,328.1 96.8,325.42 97.23,322.98 97.65,320.88 98.08,318.64 98.5,316.38 98.93,314.28 99.35,312.51 99.78,311.26 100.21,310.66 100.63,310.27 101.06,310.02 101.48,309.98 101.91,310.61 102.33,311.91 102.76,313.72 103.18,316.5 103.61,322.89 104.03,330.84 104.46,337.58 104.88,341.97 105.31,346.17 105.74,349.86 106.16,352.59 106.59,353.89 107.01,353.94 107.44,353.94 107.86,353.94 108.29,353.94 108.71,353.78 109.14,352.41 109.56,350.54 109.99,349.25 110.42,349.24 110.84,349.66 111.27,350.33 111.69,351.15 112.12,352.04 112.54,353.21 112.97,354.72 113.39,356.5 113.82,358.47 114.24,360.59 114.67,362.79 115.1,365.78 115.52,369.46 115.95,372.86 116.37,375.02 116.8,375.59 117.22,375.94 117.65,376.13 118.07,375.93 118.5,374.69 118.92,372.69 119.35,370.3 119.78,367.9 120.2,365.73 120.63,363.39 121.05,360.89 121.48,358.31 121.9,355.75 122.33,353.28 122.75,350.96 123.18,348.68 123.6,346.39 124.03,344.13 124.46,341.91 124.88,339.75 125.31,337.67 125.73,335.7 126.16,333.86 126.58,332.17 127.01,330.57 127.43,329 127.86,327.47 128.28,326 128.71,324.62 129.14,323.33 129.56,322.16 129.99,321.13 130.41,320.25 130.84,319.5 131.26,318.76 131.69,318.04 132.11,317.36 132.54,316.74 132.96,316.19 133.39,315.74 133.82,315.41 134.24,315.22 134.67,315.18 135.09,315.2 135.52,315.25 135.94,315.32 136.37,315.41 136.79,315.52 137.22,315.64 137.64,315.76 138.07,315.9 138.5,316.04 138.92,316.2 139.35,316.41 139.77,316.66 140.2,316.94 140.62,317.26 141.05,317.61 141.47,317.98 141.9,318.36 142.32,318.75 142.75,319.15 143.18,319.55 143.6,319.95 144.03,320.33 144.45,320.7 144.88,321.05 145.3,321.38 145.73,321.71 146.15,322.04 146.58,322.38 147,322.71 147.43,323.05 147.86,323.39 148.28,323.72 148.71,324.05 149.13,324.36 149.56,324.67 149.98,324.97 150.41,325.25 150.83,325.52 151.26,325.78 151.68,326.01 152.11,326.23 152.54,326.45 152.96,326.68 153.39,326.91 153.81,327.14 154.24,327.36 154.66,327.58 155.09,327.78 155.51,327.97 155.94,328.15 156.36,328.3 156.79,328.43 157.22,328.54 157.64,328.62 158.07,328.67 158.49,328.68 158.92,328.68 159.34,328.67 159.77,328.66 160.19,328.65 160.62,328.63 161.04,328.61 161.47,328.59 161.9,328.57 162.32,328.54 162.75,328.52 163.17,328.49 163.6,328.46 164.02,328.43 164.45,328.39 164.87,328.36 165.3,328.33 165.72,328.29 166.15,328.26 166.58,328.23 167,328.19 167.43,328.15 167.85,328.11 168.28,328.06 168.7,328.01 169.13,327.95 169.55,327.9 169.98,327.84 170.4,327.78 170.83,327.71 171.26,327.65 171.68,327.58 172.11,327.51 172.53,327.45 172.96,327.37 173.38,327.3 173.81,327.23 174.23,327.16 174.66,327.09 175.08,327.02 175.51,326.95 175.94,326.88 176.36,326.81 176.79,326.74 177.21,326.67 177.64,326.6 178.06,326.54 178.49,326.48 178.91,326.42 179.34,326.35 179.76,326.29 180.19,326.22 180.62,326.16 181.04,326.09 181.47,326.02 181.89,325.96 182.32,325.89 182.74,325.82 183.17,325.76 183.59,325.69 184.02,325.63 184.44,325.56 184.87,325.5 185.3,325.44 185.72,325.38 186.15,325.32 186.57,325.26 187,325.2 187.42,325.15 187.85,325.1 188.27,325.05 188.7,325 189.12,324.96 189.55,324.91 189.98,324.87 190.4,324.83 190.83,324.79 191.25,324.74 191.68,324.7 192.1,324.66 192.53,324.62 192.95,324.58 193.38,324.55 193.8,324.51 194.23,324.48 194.66,324.45 195.08,324.42 195.51,324.39 195.93,324.37 196.36,324.35 196.78,324.33 197.21,324.31 197.63,324.3 198.06,324.28 198.48,324.26 198.91,324.25 199.34,324.23 199.76,324.22 200.19,324.2 200.61,324.19 201.04,324.18 201.46,324.16 201.89,324.15 202.31,324.14 202.74,324.13 203.16,324.12 203.59,324.11 204.02,324.1 204.44,324.09 204.87,324.08 205.29,324.08 205.72,324.07 206.14,324.07 206.57,324.07 206.99,324.06 207.42,324.06 207.84,324.06 208.27,324.06 208.69,324.06 209.12,324.07 209.55,324.07 209.97,324.07 210.4,324.07 210.82,324.08 211.25,324.08 211.67,324.08 212.1,324.09 212.52,324.09 212.95,324.09 213.37,324.1 213.8,324.1 214.23,324.11 214.65,324.11 215.08,324.11 215.5,324.12 215.93,324.12 216.35,324.13 216.78,324.13 217.2,324.13 217.63,324.14 218.05,324.14 218.48,324.14 218.91,324.14 219.33,324.15 219.76,324.15 220.18,324.15 220.61,324.15 221.03,324.15 221.46,324.15 221.88,324.15 222.31,324.15 222.73,324.14 223.16,324.14 223.59,324.14 224.01,324.14 224.44,324.13 224.86,324.13 225.29,324.13 225.71,324.12 226.14,324.12 226.56,324.11 226.99,324.11 227.41,324.11 227.84,324.1 228.27,324.1 228.69,324.09 229.12,324.09 229.54,324.09 229.97,324.08 230.39,324.08 230.82,324.08 231.24,324.07 231.67,324.07 232.09,324.07 232.52,324.07 232.95,324.06 233.37,324.06 233.8,324.06 234.22,324.06 234.65,324.06 235.07,324.06 235.5,324.06 235.92,324.06 236.35,324.06 236.77,324.06 237.2,324.06 237.63,324.06 238.05,324.06 238.48,324.06 238.9,324.06 239.33,324.06 239.75,324.06 240.18,324.06 240.6,324.06 241.03,324.06 241.45,324.06 241.88,324.06 242.31,324.06 242.73,324.06 243.16,324.06 243.58,324.06 244.01,324.06 244.43,324.06 244.86,324.06 245.28,324.06 245.71,324.06 246.13,324.06 246.56,324.06 246.99,324.06 247.41,324.06 247.84,324.06 248.26,324.06 248.69,324.06 249.11,324.06 249.54,324.06 249.96,324.06 250.39,324.06 250.81,324.06 251.24,324.06 251.67,324.06 252.09,324.06 252.52,324.06 252.94,324.06 253.37,324.06 253.79,324.06 254.22,324.06 254.64,324.06 255.07,324.06 255.49,324.06 255.92,324.06 256.35,324.06 256.77,324.06 257.2,324.06 257.62,324.06 258.05,324.06 258.47,324.06 258.9,324.06 259.32,324.06 259.75,324.06 260.17,324.06 260.6,324.06" fill="none" stroke="#2a2ac2" stroke-width="1.2" stroke-linejoin="round" />
</g>
<rect x="48.3" y="299.5" width="212.3" height="87.1" fill="none" stroke="#4a4a4a" stroke-width="1.15"/>
<line x1="101.38" y1="386.6" x2="101.38" y2="382.1" stroke="#4a4a4a" stroke-width="1"/>
<line x1="101.38" y1="299.5" x2="101.38" y2="304" stroke="#4a4a4a" stroke-width="1"/>
<line x1="154.45" y1="386.6" x2="154.45" y2="382.1" stroke="#4a4a4a" stroke-width="1"/>
<line x1="154.45" y1="299.5" x2="154.45" y2="304" stroke="#4a4a4a" stroke-width="1"/>
<line x1="207.53" y1="386.6" x2="207.53" y2="382.1" stroke="#4a4a4a" stroke-width="1"/>
<line x1="207.53" y1="299.5" x2="207.53" y2="304" stroke="#4a4a4a" stroke-width="1"/>
<line x1="48.3" y1="321.77" x2="52.8" y2="321.77" stroke="#4a4a4a" stroke-width="1"/>
<line x1="260.6" y1="321.77" x2="256.1" y2="321.77" stroke="#4a4a4a" stroke-width="1"/>
<line x1="48.3" y1="343.55" x2="52.8" y2="343.55" stroke="#4a4a4a" stroke-width="1"/>
<line x1="260.6" y1="343.55" x2="256.1" y2="343.55" stroke="#4a4a4a" stroke-width="1"/>
<line x1="48.3" y1="365.33" x2="52.8" y2="365.33" stroke="#4a4a4a" stroke-width="1"/>
<line x1="260.6" y1="365.33" x2="256.1" y2="365.33" stroke="#4a4a4a" stroke-width="1"/>
<text transform="translate(46.7 303.7) scale(0.85 1)" text-anchor="end" font-size="10.4">1<tspan dx="-0.15">.</tspan><tspan dx="-0.15">05</tspan></text>
<text transform="translate(46.7 325.97) scale(0.85 1)" text-anchor="end" font-size="10.4">1</text>
<text transform="translate(46.7 347.75) scale(0.85 1)" text-anchor="end" font-size="10.4">0<tspan dx="-0.15">.</tspan><tspan dx="-0.15">95</tspan></text>
<text transform="translate(46.7 369.53) scale(0.85 1)" text-anchor="end" font-size="10.4">0<tspan dx="-0.15">.</tspan><tspan dx="-0.15">9</tspan></text>
<text transform="translate(46.7 390.8) scale(0.85 1)" text-anchor="end" font-size="10.4">0<tspan dx="-0.15">.</tspan><tspan dx="-0.15">85</tspan></text>
<text transform="translate(48 397.6) scale(0.85 1)" font-size="10.4">0</text>
<text transform="translate(101.08 397.6) scale(0.85 1)" font-size="10.4">2</text>
<text transform="translate(154.15 397.6) scale(0.85 1)" font-size="10.4">4</text>
<text transform="translate(207.23 397.6) scale(0.85 1)" font-size="10.4">6</text>
<text transform="translate(260.3 397.6) scale(0.85 1)" font-size="10.4">8</text>
<text x="154" y="412.4" font-size="10.4">t</text>
<text x="14.2" y="335.7" textLength="14.2" lengthAdjust="spacingAndGlyphs" font-size="10.4">Wr1</text>
<line x1="12.2" y1="341.2" x2="30.2" y2="341.2" stroke="#c22a2a" stroke-width="1.1"/>
<text x="14.2" y="353.8" textLength="14.2" lengthAdjust="spacingAndGlyphs" font-size="10.4">Wr2</text>
<line x1="12.2" y1="359.3" x2="30.2" y2="359.3" stroke="#2a2ac2" stroke-width="1.1"/>
<clipPath id="s321"><rect x="321" y="299.5" width="201" height="87.1"/></clipPath>
<g clip-path="url(#s321)">
<polyline points="321,342.58 321.02,343.13 321.03,343.67 321.05,344.2 321.07,344.74 321.08,345.26 321.1,345.78 321.12,346.29 321.13,346.79 321.15,347.29 321.17,347.78 321.18,348.25 321.2,348.72 321.22,349.18 321.23,349.63 321.25,350.07 321.27,350.5 321.28,350.91 321.3,351.32 321.31,351.71 321.33,352.08 321.35,352.44 321.36,352.79 321.38,353.13 321.4,353.45 321.41,353.75 321.43,354.06 321.45,354.36 321.46,354.66 321.48,354.95 321.5,355.24 321.51,355.53 321.53,355.82 321.55,356.1 321.56,356.37 321.58,356.64 321.6,356.91 321.61,357.17 321.63,357.43 321.65,357.68 321.66,357.92 321.68,358.16 321.7,358.39 321.71,358.61 321.73,358.83 321.75,359.04 321.76,359.24 321.78,359.44 321.8,359.62 321.81,359.8 321.83,359.97 321.84,360.13 321.86,360.29 321.88,360.43 321.89,360.56 321.91,360.68 321.93,360.8 321.94,360.9 321.96,361 321.98,361.1 321.99,361.2 322.01,361.29 322.03,361.38 322.04,361.48 322.06,361.57 322.08,361.65 322.09,361.74 322.11,361.83 322.13,361.91 322.14,361.99 322.16,362.07 322.18,362.15 322.19,362.23 322.21,362.3 322.23,362.38 322.24,362.45 322.26,362.52 322.28,362.6 322.29,362.66 322.31,362.73 322.33,362.8 322.34,362.87 322.36,362.93 322.37,362.99 322.39,363.06 322.41,363.12 322.42,363.18 322.44,363.24 322.46,363.3 322.47,363.35 322.49,363.41 322.51,363.47 322.52,363.52 322.54,363.57 322.56,363.63 322.57,363.68 322.59,363.73 322.61,363.78 322.62,363.83 322.64,363.88 322.66,363.93 322.67,363.98 322.69,364.03 322.71,364.07 322.72,364.12 322.74,364.16 322.76,364.21 322.77,364.26 322.79,364.3 322.81,364.34 322.82,364.39 322.84,364.43 322.86,364.47 322.87,364.52 322.89,364.56 322.91,364.6 322.92,364.65 322.94,364.69 322.95,364.73 322.97,364.77 322.99,364.81 323,364.85 323.02,364.9 323.04,364.94 323.05,364.98 323.07,365.02 323.09,365.06 323.1,365.11 323.12,365.15 323.14,365.19 323.15,365.23 323.17,365.28 323.19,365.32 323.2,365.36 323.22,365.41 323.24,365.45 323.25,365.5 323.27,365.54 323.29,365.59 323.3,365.63 323.32,365.68 323.34,365.73 323.35,365.77 323.37,365.82 323.39,365.87 323.4,365.92 323.42,365.97 323.44,366.02 323.45,366.07 323.47,366.12 323.48,366.18 323.5,366.23 323.52,366.29 323.53,366.34 323.55,366.4 323.57,366.45 323.58,366.51 323.6,366.57 323.62,366.63 323.63,366.69 323.65,366.76 323.67,366.82 323.68,366.88 323.7,366.95 323.72,367.01 323.73,367.08 323.75,367.14 323.77,367.21 323.78,367.28 323.8,367.34 323.82,367.41 323.83,367.47 323.85,367.54 323.87,367.61 323.88,367.67 323.9,367.74 323.92,367.81 323.93,367.87 323.95,367.94 323.97,368.01 323.98,368.08 324,368.14 324.01,368.21 324.03,368.28 324.05,368.35 324.06,368.42 324.08,368.49 324.1,368.56 324.11,368.62 324.13,368.69 324.15,368.76 324.16,368.83 324.18,368.9 324.2,368.97 324.21,369.04 324.23,369.11 324.25,369.18 324.26,369.25 324.28,369.32 324.3,369.39 324.31,369.46 324.33,369.54 324.35,369.61 324.36,369.68 324.38,369.75 324.4,369.82 324.41,369.89 324.43,369.97 324.45,370.04 324.46,370.11 324.48,370.18 324.5,370.26 324.51,370.33 324.53,370.4 324.54,370.48 324.56,370.55 324.58,370.62 324.59,370.7 324.61,370.77 324.63,370.84 324.64,370.92 324.66,370.99 324.68,371.07 324.69,371.14 324.71,371.22 324.73,371.29 324.74,371.37 324.76,371.44 324.78,371.52 324.79,371.59 324.81,371.67 324.83,371.74 324.84,371.82 324.86,371.9 324.88,371.97 324.89,372.05 324.91,372.13 324.93,372.2 324.94,372.28 324.96,372.36 324.98,372.43 324.99,372.51 325.01,372.59 325.03,372.67 325.04,372.74 325.06,372.82 325.08,372.9 325.09,372.98 325.11,373.06 325.12,373.14 325.14,373.21 325.16,373.29 325.17,373.37 325.19,373.45 325.21,373.53 325.22,373.61 325.24,373.69 325.26,373.77 325.27,373.85 325.29,373.93 325.31,374.01 325.32,374.09 325.34,374.17 325.36,374.25 325.37,374.33 325.39,374.42 325.41,374.5 325.42,374.58 325.44,374.66 325.46,374.74 325.47,374.82 325.49,374.91 325.51,374.99 325.52,375.07 325.54,375.15 325.56,375.24 325.57,375.32 325.59,375.4 325.61,375.48 325.62,375.57 325.64,375.65 325.65,375.73 325.67,375.82 325.69,375.9 325.7,375.99 325.72,376.07 325.74,376.15 325.75,376.24 325.77,376.32 325.79,376.41 325.8,376.49 325.82,376.58 325.84,376.66 325.85,376.75 325.87,376.83 325.89,376.92 325.9,377 325.92,377.09 325.94,377.18 325.95,377.26" fill="none" stroke="#c22a2a" stroke-width="1.2" stroke-linejoin="round" />
<polyline points="325.95,308.84 326.03,309.59 326.11,310.35 326.19,311.1 326.27,311.85 326.35,312.6 326.43,313.35 326.51,314.09 326.59,314.84 326.67,315.58 326.75,316.32 326.83,317.05 326.91,317.79 326.99,318.52 327.07,319.25 327.15,319.97 327.23,320.69 327.31,321.4 327.39,322.1 327.47,322.81 327.55,323.51 327.63,324.21 327.71,324.91 327.79,325.61 327.87,326.32 327.95,327.03 328.03,327.74 328.1,328.46 328.18,329.19 328.26,329.92 328.34,330.67 328.42,331.43 328.5,332.21 328.58,333.01 328.66,333.83 328.74,334.66 328.82,335.5 328.9,336.34 328.98,337.19 329.06,338.03 329.14,338.86 329.22,339.68 329.3,340.49 329.38,341.28 329.46,342.04 329.54,342.78 329.62,343.49 329.7,344.16 329.78,344.81 329.86,345.46 329.94,346.1 330.02,346.72 330.1,347.34 330.18,347.95 330.26,348.55 330.34,349.13 330.42,349.7 330.5,350.25 330.58,350.79 330.65,351.3 330.73,351.8 330.81,352.28 330.89,352.74 330.97,353.18 331.05,353.59 331.13,353.99 331.21,354.39 331.29,354.78 331.37,355.16 331.45,355.54 331.53,355.91 331.61,356.26 331.69,356.61 331.77,356.94 331.85,357.25 331.93,357.55 332.01,357.83 332.09,358.09 332.17,358.33 332.25,358.55 332.33,358.75 332.41,358.92 332.49,359.09 332.57,359.25 332.65,359.42 332.73,359.58 332.81,359.74 332.89,359.89 332.97,360.04 333.05,360.19 333.13,360.32 333.21,360.45 333.28,360.57 333.36,360.68 333.44,360.78 333.52,360.87 333.6,360.95 333.68,361.01 333.76,361.06 333.84,361.1 333.92,361.12 334,361.12 334.08,361.11 334.16,361.07 334.24,361.01 334.32,360.94 334.4,360.84 334.48,360.73 334.56,360.6 334.64,360.46 334.72,360.3 334.8,360.13 334.88,359.95 334.96,359.76 335.04,359.55 335.12,359.34 335.2,359.12 335.28,358.89 335.36,358.66 335.44,358.42 335.52,358.17 335.6,357.93 335.68,357.68 335.76,357.42 335.83,357.13 335.91,356.8 335.99,356.42 336.07,356.01 336.15,355.57 336.23,355.09 336.31,354.6 336.39,354.08 336.47,353.55 336.55,353.01 336.63,352.46 336.71,351.91 336.79,351.35 336.87,350.81 336.95,350.26 337.03,349.74 337.11,349.22 337.19,348.68 337.27,348.13 337.35,347.57 337.43,346.99 337.51,346.41 337.59,345.82 337.67,345.23 337.75,344.64 337.83,344.05 337.91,343.47 337.99,342.9 338.07,342.34 338.15,341.8 338.23,341.27 338.31,340.77 338.39,340.28 338.46,339.82 338.54,339.36 338.62,338.9 338.7,338.44 338.78,337.99 338.86,337.55 338.94,337.11 339.02,336.69 339.1,336.27 339.18,335.87 339.26,335.48 339.34,335.11 339.42,334.75 339.5,334.41 339.58,334.09 339.66,333.79 339.74,333.52 339.82,333.25 339.9,332.99 339.98,332.74 340.06,332.49 340.14,332.24 340.22,332.01 340.3,331.78 340.38,331.56 340.46,331.35 340.54,331.15 340.62,330.97 340.7,330.8 340.78,330.64 340.86,330.49 340.94,330.37 341.02,330.26 341.09,330.16 341.17,330.08 341.25,329.99 341.33,329.91 341.41,329.83 341.49,329.75 341.57,329.68 341.65,329.61 341.73,329.54 341.81,329.48 341.89,329.43 341.97,329.38 342.05,329.34 342.13,329.3 342.21,329.28 342.29,329.26 342.37,329.25 342.45,329.25 342.53,329.26 342.61,329.28 342.69,329.31 342.77,329.34 342.85,329.39 342.93,329.45 343.01,329.52 343.09,329.59 343.17,329.67 343.25,329.75 343.33,329.85 343.41,329.95 343.49,330.05 343.57,330.16 343.64,330.27 343.72,330.39 343.8,330.51 343.88,330.63 343.96,330.76 344.04,330.88 344.12,331.01 344.2,331.14 344.28,331.28 344.36,331.41 344.44,331.54 344.52,331.68 344.6,331.83 344.68,332 344.76,332.17 344.84,332.36 344.92,332.56 345,332.77 345.08,332.98 345.16,333.21 345.24,333.44 345.32,333.69 345.4,333.94 345.48,334.19 345.56,334.45 345.64,334.72 345.72,334.99 345.8,335.26 345.88,335.54 345.96,335.82 346.04,336.1 346.12,336.38 346.2,336.66 346.27,336.95 346.35,337.23 346.43,337.51 346.51,337.8 346.59,338.1 346.67,338.4 346.75,338.72 346.83,339.04 346.91,339.38 346.99,339.71 347.07,340.06 347.15,340.41 347.23,340.76 347.31,341.12 347.39,341.48 347.47,341.84 347.55,342.21 347.63,342.57 347.71,342.94 347.79,343.3 347.87,343.67 347.95,344.03 348.03,344.39 348.11,344.74 348.19,345.1 348.27,345.44 348.35,345.78 348.43,346.12 348.51,346.45 348.59,346.77 348.67,347.1 348.75,347.42 348.82,347.75 348.9,348.07 348.98,348.39 349.06,348.71 349.14,349.03 349.22,349.34 349.3,349.66 349.38,349.97 349.46,350.28 349.54,350.59 349.62,350.9 349.7,351.21 349.78,351.52" fill="none" stroke="#c22a2a" stroke-width="1.2" stroke-linejoin="round" />
<polyline points="349.78,334.85 350.36,335.4 350.94,336.31 351.51,337.4 352.09,338.12 352.67,338.67 353.25,338.82 353.82,337.96 354.4,336.25 354.98,334.11 355.56,331.26 356.13,327.33 356.71,324.53 357.29,322.17 357.87,320.32 358.44,319.51 359.02,319.95 359.6,321.04 360.18,322.45 360.75,324.6 361.33,327.21 361.91,329.9 362.49,333.57 363.06,336.96 363.64,337.15 364.22,334.98 364.8,334.16 365.38,333.04 365.95,331.27 366.53,329.18 367.11,327.1 367.69,325.1 368.26,323.04 368.84,321.14 369.42,319.59 370,318.04 370.57,316.76 371.15,316.18 371.73,316.37 372.31,316.94 372.88,317.72 373.46,318.59 374.04,319.92 374.62,321.44 375.19,322.8 375.77,323.97 376.35,325.09 376.93,325.93 377.5,326.33 378.08,326.59 378.66,326.78 379.24,326.84 379.81,326.71 380.39,326.41 380.97,326.05 381.55,325.75 382.12,325.61 382.7,325.52 383.28,325.45 383.86,325.4 384.43,325.38 385.01,325.41 385.59,325.55 386.17,325.76 386.74,326.02 387.32,326.3 387.9,326.57 388.48,326.8 389.05,327 389.63,327.21 390.21,327.42 390.79,327.6 391.36,327.73 391.94,327.78 392.52,327.76 393.1,327.72 393.67,327.66 394.25,327.58 394.83,327.48 395.41,327.37 395.99,327.25 396.56,327.13 397.14,327.01 397.72,326.89 398.3,326.78 398.87,326.65 399.45,326.51 400.03,326.36 400.61,326.21 401.18,326.05 401.76,325.9 402.34,325.75 402.92,325.6 403.49,325.47 404.07,325.35 404.65,325.22 405.23,325.1 405.8,324.98 406.38,324.86 406.96,324.75 407.54,324.64 408.11,324.54 408.69,324.44 409.27,324.35 409.85,324.25 410.42,324.16 411,324.07 411.58,323.98 412.16,323.9 412.73,323.83 413.31,323.76 413.89,323.7 414.47,323.66 415.04,323.62 415.62,323.59 416.2,323.56 416.78,323.53 417.35,323.5 417.93,323.47 418.51,323.45 419.09,323.43 419.66,323.41 420.24,323.4 420.82,323.39 421.4,323.38 421.97,323.38 422.55,323.38 423.13,323.38 423.71,323.38 424.29,323.38 424.86,323.38 425.44,323.38 426.02,323.38 426.6,323.38 427.17,323.38 427.75,323.38 428.33,323.38 428.91,323.38 429.48,323.38 430.06,323.38 430.64,323.38 431.22,323.38 431.79,323.38 432.37,323.38 432.95,323.38 433.53,323.38 434.1,323.38 434.68,323.38 435.26,323.38 435.84,323.38 436.41,323.38 436.99,323.38 437.57,323.39 438.15,323.39 438.72,323.4 439.3,323.41 439.88,323.42 440.46,323.43 441.03,323.44 441.61,323.45 442.19,323.47 442.77,323.48 443.34,323.49 443.92,323.51 444.5,323.52 445.08,323.54 445.65,323.56 446.23,323.57 446.81,323.59 447.39,323.6 447.96,323.62 448.54,323.63 449.12,323.65 449.7,323.66 450.27,323.68 450.85,323.7 451.43,323.71 452.01,323.73 452.59,323.74 453.16,323.76 453.74,323.78 454.32,323.8 454.9,323.82 455.47,323.84 456.05,323.86 456.63,323.89 457.21,323.92 457.78,323.94 458.36,323.97 458.94,324.01 459.52,324.04 460.09,324.09 460.67,324.16 461.25,324.25 461.83,324.35 462.4,324.46 462.98,324.58 463.56,324.69 464.14,324.78 464.71,324.87 465.29,324.93 465.87,324.97 466.45,324.98 467.02,324.97 467.6,324.96 468.18,324.95 468.76,324.93 469.33,324.91 469.91,324.89 470.49,324.86 471.07,324.84 471.64,324.81 472.22,324.79 472.8,324.77 473.38,324.75 473.95,324.73 474.53,324.72 475.11,324.71 475.69,324.71 476.26,324.71 476.84,324.71 477.42,324.72 478,324.73 478.57,324.74 479.15,324.75 479.73,324.76 480.31,324.77 480.88,324.78 481.46,324.8 482.04,324.81 482.62,324.83 483.2,324.84 483.77,324.86 484.35,324.88 484.93,324.89 485.51,324.91 486.08,324.92 486.66,324.93 487.24,324.95 487.82,324.96 488.39,324.97 488.97,324.98 489.55,324.98 490.13,324.99 490.7,325 491.28,325.01 491.86,325.02 492.44,325.02 493.01,325.03 493.59,325.04 494.17,325.05 494.75,325.05 495.32,325.06 495.9,325.07 496.48,325.07 497.06,325.08 497.63,325.09 498.21,325.09 498.79,325.1 499.37,325.1 499.94,325.1 500.52,325.11 501.1,325.11 501.68,325.11 502.25,325.11 502.83,325.11 503.41,325.11 503.99,325.11 504.56,325.11 505.14,325.11 505.72,325.11 506.3,325.11 506.87,325.11 507.45,325.11 508.03,325.11 508.61,325.11 509.18,325.11 509.76,325.11 510.34,325.11 510.92,325.11 511.5,325.11 512.07,325.11 512.65,325.11 513.23,325.11 513.81,325.11 514.38,325.11 514.96,325.11 515.54,325.11 516.12,325.11 516.69,325.11 517.27,325.11 517.85,325.11 518.43,325.11 519,325.11 519.58,325.11 520.16,325.11 520.74,325.11 521.31,325.11 521.89,325.11 522.47,325.11" fill="none" stroke="#c22a2a" stroke-width="1.2" stroke-linejoin="round" />
<polyline points="325.95,377.24 325.95,308.86" fill="none" stroke="#c22a2a" stroke-width="1.05" stroke-linejoin="round" />
<polyline points="321,342.58 321.06,342.58 321.11,342.58 321.17,342.58 321.22,342.58 321.28,342.58 321.34,342.58 321.39,342.58 321.45,342.58 321.5,342.58 321.56,342.58 321.62,342.58 321.67,342.58 321.73,342.58 321.78,342.58 321.84,342.58 321.9,342.58 321.95,342.58 322.01,342.58 322.06,342.58 322.12,342.58 322.18,342.58 322.23,342.58 322.29,342.58 322.34,342.58 322.4,342.58 322.46,342.58 322.51,342.58 322.57,342.58 322.62,342.58 322.68,342.58 322.73,342.58 322.79,342.58 322.85,342.58 322.9,342.58 322.96,342.58 323.01,342.58 323.07,342.58 323.13,342.58 323.18,342.58 323.24,342.58 323.29,342.58 323.35,342.58 323.41,342.58 323.46,342.58 323.52,342.58 323.57,342.58 323.63,342.58 323.69,342.58 323.74,342.58 323.8,342.58 323.85,342.58 323.91,342.58 323.97,342.58 324.02,342.58 324.08,342.58 324.13,342.58 324.19,342.58 324.25,342.58 324.3,342.58 324.36,342.58 324.41,342.58 324.47,342.58 324.53,342.58 324.58,342.58 324.64,342.58 324.69,342.58 324.75,342.58 324.81,342.58 324.86,342.58 324.92,342.58 324.97,342.58 325.03,342.58 325.09,342.58 325.14,342.58 325.2,342.58 325.25,342.58 325.31,342.58 325.37,342.58 325.42,342.58 325.48,342.58 325.53,342.58 325.59,342.58 325.65,342.58 325.7,342.58 325.76,342.58 325.81,342.58 325.87,342.58 325.92,342.58 325.98,342.58 326.04,342.58 326.09,342.58 326.15,342.58 326.2,342.58 326.26,342.58 326.32,342.58 326.37,342.58 326.43,342.58 326.48,342.58 326.54,342.58 326.6,342.58 326.65,342.58 326.71,342.58 326.76,342.58 326.82,342.58 326.88,342.58 326.93,342.58 326.99,342.58 327.04,342.58 327.1,342.58 327.16,342.58 327.21,342.58 327.27,342.58 327.32,342.58 327.38,342.58 327.44,342.58 327.49,342.58 327.55,342.58 327.6,342.58 327.66,342.58 327.72,342.58 327.77,342.58 327.83,342.58 327.88,342.58 327.94,342.58 328,342.58 328.05,342.58 328.11,342.58 328.16,342.58 328.22,342.58 328.28,342.58 328.33,342.58 328.39,342.58 328.44,342.58 328.5,342.58 328.56,342.58 328.61,342.58 328.67,342.58 328.72,342.58 328.78,342.58 328.83,342.58 328.89,342.58 328.95,342.58 329,342.58 329.06,342.58 329.11,342.58 329.17,342.58 329.23,342.58 329.28,342.58 329.34,342.58 329.39,342.58 329.45,342.58 329.51,342.58 329.56,342.58 329.62,342.58 329.67,342.58 329.73,342.58 329.79,342.58 329.84,342.58 329.9,342.58 329.95,342.58 330.01,342.58 330.07,342.58 330.12,342.58 330.18,342.58 330.23,342.58 330.29,342.58 330.35,342.58 330.4,342.58 330.46,342.58 330.51,342.58 330.57,342.58 330.63,342.58 330.68,342.58 330.74,342.58 330.79,342.58 330.85,342.58 330.91,342.58 330.96,342.58 331.02,342.58 331.07,342.58 331.13,342.58 331.19,342.58 331.24,342.58 331.3,342.58 331.35,342.58 331.41,342.58 331.47,342.58 331.52,342.58 331.58,342.58 331.63,342.58 331.69,342.58 331.75,342.58 331.8,342.58 331.86,342.58 331.91,342.58 331.97,342.58 332.02,342.58 332.08,342.58 332.14,342.58 332.19,342.58 332.25,342.58 332.3,342.58 332.36,342.58 332.42,342.58 332.47,342.58 332.53,342.58 332.58,342.58 332.64,342.58 332.7,342.58 332.75,342.58 332.81,342.58 332.86,342.58 332.92,342.58 332.98,342.58 333.03,342.58 333.09,342.58 333.14,342.58 333.2,342.58 333.26,342.58 333.31,342.58 333.37,342.58 333.42,342.58 333.48,342.58 333.54,342.58 333.59,342.58 333.65,342.58 333.7,342.58 333.76,342.58 333.82,342.58 333.87,342.58 333.93,342.58 333.98,342.58 334.04,342.58 334.1,342.58 334.15,342.58 334.21,342.58 334.26,342.58 334.32,342.58 334.38,342.58 334.43,342.58 334.49,342.58 334.54,342.58 334.6,342.58 334.66,342.58 334.71,342.58 334.77,342.58 334.82,342.58 334.88,342.58 334.94,342.58 334.99,342.58 335.05,342.58 335.1,342.58 335.16,342.58 335.21,342.58 335.27,342.58 335.33,342.58 335.38,342.58 335.44,342.58 335.49,342.58 335.55,342.58 335.61,342.58 335.66,342.58 335.72,342.58 335.77,342.58 335.83,342.58 335.89,342.58 335.94,342.58 336,342.58 336.05,342.58 336.11,342.58 336.17,343.51 336.22,347.29 336.28,352.55 336.33,357.75 336.39,361.35 336.45,363.3 336.5,365.04 336.56,366.58 336.61,367.91 336.67,369.05 336.73,369.98 336.78,370.71 336.84,371.29 336.89,371.84 336.95,372.37 337.01,372.88 337.06,373.36 337.12,373.82 337.17,374.24 337.23,374.64 337.29,375 337.34,375.33 337.4,375.62 337.45,375.87 337.51,376.08 337.57,376.24 337.62,376.36 337.68,376.44 337.73,376.46" fill="none" stroke="#2a2ac2" stroke-width="1.2" stroke-linejoin="round" />
<polyline points="338.4,308.84 338.44,309.18 338.48,309.52 338.52,309.86 338.55,310.2 338.59,310.54 338.63,310.88 338.67,311.23 338.71,311.57 338.75,311.91 338.78,312.25 338.82,312.59 338.86,312.93 338.9,313.27 338.94,313.61 338.97,313.96 339.01,314.3 339.05,314.64 339.09,314.98 339.13,315.32 339.16,315.66 339.2,316 339.24,316.34 339.28,316.69 339.32,317.03 339.35,317.37 339.39,317.71 339.43,318.05 339.47,318.39 339.51,318.73 339.54,319.07 339.58,319.42 339.62,319.76 339.66,320.1 339.7,320.44 339.73,320.78 339.77,321.12 339.81,321.46 339.85,321.81 339.89,322.15 339.92,322.49 339.96,322.83 340,323.17 340.04,323.51 340.08,323.85 340.12,324.19 340.15,324.54 340.19,324.88 340.23,325.22 340.27,325.56 340.31,325.9 340.34,326.24 340.38,326.58 340.42,326.92 340.46,327.27 340.5,327.61 340.53,327.95 340.57,328.3 340.61,328.64 340.65,328.99 340.69,329.34 340.72,329.68 340.76,330.03 340.8,330.38 340.84,330.73 340.88,331.08 340.91,331.42 340.95,331.77 340.99,332.12 341.03,332.47 341.07,332.81 341.1,333.16 341.14,333.5 341.18,333.85 341.22,334.19 341.26,334.54 341.29,334.88 341.33,335.22 341.37,335.56 341.41,335.9 341.45,336.23 341.49,336.57 341.52,336.9 341.56,337.24 341.6,337.57 341.64,337.89 341.68,338.22 341.71,338.55 341.75,338.87 341.79,339.19 341.83,339.51 341.87,339.83 341.9,340.15 341.94,340.48 341.98,340.8 342.02,341.12 342.06,341.44 342.09,341.76 342.13,342.08 342.17,342.4 342.21,342.72 342.25,343.03 342.28,343.35 342.32,343.66 342.36,343.98 342.4,344.29 342.44,344.6 342.47,344.91 342.51,345.21 342.55,345.52 342.59,345.82 342.63,346.12 342.66,346.41 342.7,346.71 342.74,347 342.78,347.29 342.82,347.58 342.86,347.86 342.89,348.14 342.93,348.42 342.97,348.69 343.01,348.96 343.05,349.23 343.08,349.49 343.12,349.75 343.16,350.01 343.2,350.27 343.24,350.53 343.27,350.78 343.31,351.04 343.35,351.29 343.39,351.55 343.43,351.8 343.46,352.05 343.5,352.3 343.54,352.55 343.58,352.8 343.62,353.04 343.65,353.28 343.69,353.52 343.73,353.76 343.77,354 343.81,354.23 343.84,354.46 343.88,354.68 343.92,354.91 343.96,355.13 344,355.34 344.03,355.56 344.07,355.77 344.11,355.97 344.15,356.18 344.19,356.37 344.23,356.57 344.26,356.76 344.3,356.94 344.34,357.12 344.38,357.3 344.42,357.47 344.45,357.64 344.49,357.81 344.53,357.98 344.57,358.14 344.61,358.31 344.64,358.48 344.68,358.64 344.72,358.81 344.76,358.97 344.8,359.13 344.83,359.3 344.87,359.45 344.91,359.61 344.95,359.77 344.99,359.92 345.02,360.07 345.06,360.22 345.1,360.36 345.14,360.5 345.18,360.64 345.21,360.77 345.25,360.9 345.29,361.03 345.33,361.15 345.37,361.27 345.4,361.38 345.44,361.49 345.48,361.59 345.52,361.69 345.56,361.78 345.6,361.87 345.63,361.95 345.67,362.03 345.71,362.1 345.75,362.16 345.79,362.22 345.82,362.28 345.86,362.33 345.9,362.39 345.94,362.45 345.98,362.5 346.01,362.55 346.05,362.61 346.09,362.66 346.13,362.71 346.17,362.75 346.2,362.8 346.24,362.84 346.28,362.88 346.32,362.92 346.36,362.96 346.39,362.99 346.43,363.02 346.47,363.05 346.51,363.07 346.55,363.09 346.58,363.1 346.62,363.11 346.66,363.12 346.7,363.12 346.74,363.12 346.77,363.11 346.81,363.09 346.85,363.06 346.89,363.02 346.93,362.98 346.97,362.93 347,362.87 347.04,362.81 347.08,362.74 347.12,362.66 347.16,362.58 347.19,362.5 347.23,362.41 347.27,362.31 347.31,362.22 347.35,362.12 347.38,362.01 347.42,361.91 347.46,361.8 347.5,361.69 347.54,361.57 347.57,361.46 347.61,361.34 347.65,361.23 347.69,361.11 347.73,361 347.76,360.88 347.8,360.77 347.84,360.64 347.88,360.51 347.92,360.37 347.95,360.22 347.99,360.07 348.03,359.91 348.07,359.74 348.11,359.57 348.14,359.39 348.18,359.2 348.22,359.01 348.26,358.81 348.3,358.61 348.34,358.4 348.37,358.19 348.41,357.98 348.45,357.76 348.49,357.53 348.53,357.31 348.56,357.07 348.6,356.84 348.64,356.6 348.68,356.36 348.72,356.12 348.75,355.88 348.79,355.63 348.83,355.38 348.87,355.14 348.91,354.89 348.94,354.63 348.98,354.38 349.02,354.13 349.06,353.88 349.1,353.62 349.13,353.37 349.17,353.11 349.21,352.84 349.25,352.57 349.29,352.28 349.32,352 349.36,351.7 349.4,351.4 349.44,351.1 349.48,350.79 349.51,350.47 349.55,350.16 349.59,349.83 349.63,349.51 349.67,349.18 349.71,348.85 349.74,348.52 349.78,348.19" fill="none" stroke="#2a2ac2" stroke-width="1.2" stroke-linejoin="round" />
<polyline points="349.78,329.51 350.36,327.15 350.94,325.3 351.51,323.84 352.09,323.33 352.67,323.13 353.25,323.75 353.82,326.3 354.4,329.23 354.98,331.87 355.56,334.74 356.13,337.19 356.71,338.72 357.29,339.94 357.87,340.86 358.44,341.25 359.02,340.87 359.6,339.8 360.18,338.35 360.75,336.68 361.33,334.16 361.91,331.15 362.49,328.23 363.06,325.1 363.64,321.95 364.22,320.19 364.8,319.76 365.38,319.53 365.95,320.35 366.53,323.5 367.11,326.31 367.69,328.79 368.26,330.87 368.84,332.14 369.42,333.18 370,333.92 370.57,334.18 371.15,333.91 371.73,333.3 372.31,332.51 372.88,331.57 373.46,330.18 374.04,328.65 374.62,327.38 375.19,326.26 375.77,325.23 376.35,324.55 376.93,324.33 377.5,324.2 378.08,324.19 378.66,324.39 379.24,324.71 379.81,325.04 380.39,325.23 380.97,325.24 381.55,325.24 382.12,325.24 382.7,325.24 383.28,325.24 383.86,325.07 384.43,324.67 385.01,324.17 385.59,323.71 386.17,323.39 386.74,323.1 387.32,322.82 387.9,322.57 388.48,322.37 389.05,322.21 389.63,322.12 390.21,322.04 390.79,321.97 391.36,321.93 391.94,321.91 392.52,321.94 393.1,322.03 393.67,322.16 394.25,322.31 394.83,322.46 395.41,322.6 395.99,322.73 396.56,322.87 397.14,323.01 397.72,323.16 398.3,323.31 398.87,323.45 399.45,323.6 400.03,323.75 400.61,323.9 401.18,324.04 401.76,324.19 402.34,324.35 402.92,324.5 403.49,324.65 404.07,324.8 404.65,324.94 405.23,325.07 405.8,325.2 406.38,325.32 406.96,325.43 407.54,325.54 408.11,325.65 408.69,325.75 409.27,325.85 409.85,325.95 410.42,326.04 411,326.12 411.58,326.21 412.16,326.29 412.73,326.38 413.31,326.47 413.89,326.55 414.47,326.63 415.04,326.7 415.62,326.76 416.2,326.81 416.78,326.85 417.35,326.88 417.93,326.91 418.51,326.94 419.09,326.97 419.66,327 420.24,327.03 420.82,327.05 421.4,327.08 421.97,327.1 422.55,327.12 423.13,327.14 423.71,327.16 424.29,327.18 424.86,327.19 425.44,327.21 426.02,327.22 426.6,327.23 427.17,327.24 427.75,327.24 428.33,327.24 428.91,327.24 429.48,327.24 430.06,327.24 430.64,327.24 431.22,327.24 431.79,327.24 432.37,327.24 432.95,327.24 433.53,327.24 434.1,327.24 434.68,327.24 435.26,327.24 435.84,327.24 436.41,327.24 436.99,327.24 437.57,327.24 438.15,327.24 438.72,327.24 439.3,327.24 439.88,327.24 440.46,327.24 441.03,327.24 441.61,327.24 442.19,327.24 442.77,327.24 443.34,327.24 443.92,327.23 444.5,327.23 445.08,327.22 445.65,327.21 446.23,327.2 446.81,327.18 447.39,327.17 447.96,327.15 448.54,327.14 449.12,327.12 449.7,327.1 450.27,327.08 450.85,327.05 451.43,327.03 452.01,327.01 452.59,326.98 453.16,326.96 453.74,326.93 454.32,326.9 454.9,326.87 455.47,326.85 456.05,326.81 456.63,326.77 457.21,326.71 457.78,326.65 458.36,326.58 458.94,326.5 459.52,326.42 460.09,326.34 460.67,326.25 461.25,326.17 461.83,326.09 462.4,326.02 462.98,325.95 463.56,325.88 464.14,325.83 464.71,325.79 465.29,325.76 465.87,325.72 466.45,325.7 467.02,325.67 467.6,325.64 468.18,325.62 468.76,325.59 469.33,325.57 469.91,325.55 470.49,325.53 471.07,325.51 471.64,325.49 472.22,325.47 472.8,325.45 473.38,325.44 473.95,325.42 474.53,325.41 475.11,325.39 475.69,325.37 476.26,325.36 476.84,325.34 477.42,325.33 478,325.31 478.57,325.3 479.15,325.28 479.73,325.26 480.31,325.25 480.88,325.23 481.46,325.22 482.04,325.21 482.62,325.19 483.2,325.18 483.77,325.17 484.35,325.16 484.93,325.15 485.51,325.14 486.08,325.13 486.66,325.12 487.24,325.12 487.82,325.11 488.39,325.11 488.97,325.11 489.55,325.11 490.13,325.11 490.7,325.11 491.28,325.11 491.86,325.11 492.44,325.11 493.01,325.11 493.59,325.11 494.17,325.11 494.75,325.11 495.32,325.11 495.9,325.11 496.48,325.11 497.06,325.11 497.63,325.11 498.21,325.11 498.79,325.11 499.37,325.11 499.94,325.11 500.52,325.11 501.1,325.11 501.68,325.11 502.25,325.11 502.83,325.11 503.41,325.11 503.99,325.11 504.56,325.11 505.14,325.11 505.72,325.11 506.3,325.11 506.87,325.11 507.45,325.11 508.03,325.11 508.61,325.11 509.18,325.11 509.76,325.11 510.34,325.11 510.92,325.11 511.5,325.11 512.07,325.11 512.65,325.11 513.23,325.11 513.81,325.11 514.38,325.11 514.96,325.11 515.54,325.11 516.12,325.11 516.69,325.11 517.27,325.11 517.85,325.11 518.43,325.11 519,325.11 519.58,325.11 520.16,325.11 520.74,325.11 521.31,325.11 521.89,325.11 522.47,325.11" fill="none" stroke="#2a2ac2" stroke-width="1.2" stroke-linejoin="round" />
<polyline points="338.13,376.46 338.13,308.86" fill="none" stroke="#2a2ac2" stroke-width="1.05" stroke-linejoin="round" />
<polyline points="349.71,377.24 349.71,308.86" fill="none" stroke="#2a2ac2" stroke-width="1.2" stroke-linejoin="round" />
</g>
<rect x="321" y="299.5" width="201" height="87.1" fill="none" stroke="#4a4a4a" stroke-width="1.15"/>
<line x1="349.71" y1="386.6" x2="349.71" y2="382.1" stroke="#4a4a4a" stroke-width="1"/>
<line x1="349.71" y1="299.5" x2="349.71" y2="304" stroke="#4a4a4a" stroke-width="1"/>
<line x1="407.14" y1="386.6" x2="407.14" y2="382.1" stroke="#4a4a4a" stroke-width="1"/>
<line x1="407.14" y1="299.5" x2="407.14" y2="304" stroke="#4a4a4a" stroke-width="1"/>
<line x1="464.57" y1="386.6" x2="464.57" y2="382.1" stroke="#4a4a4a" stroke-width="1"/>
<line x1="464.57" y1="299.5" x2="464.57" y2="304" stroke="#4a4a4a" stroke-width="1"/>
<line x1="321" y1="321.77" x2="325.5" y2="321.77" stroke="#4a4a4a" stroke-width="1"/>
<line x1="522" y1="321.77" x2="517.5" y2="321.77" stroke="#4a4a4a" stroke-width="1"/>
<line x1="321" y1="343.55" x2="325.5" y2="343.55" stroke="#4a4a4a" stroke-width="1"/>
<line x1="522" y1="343.55" x2="517.5" y2="343.55" stroke="#4a4a4a" stroke-width="1"/>
<line x1="321" y1="365.33" x2="325.5" y2="365.33" stroke="#4a4a4a" stroke-width="1"/>
<line x1="522" y1="365.33" x2="517.5" y2="365.33" stroke="#4a4a4a" stroke-width="1"/>
<text transform="translate(319.4 303.7) scale(0.85 1)" text-anchor="end" font-size="10.4">2</text>
<text transform="translate(319.4 325.97) scale(0.85 1)" text-anchor="end" font-size="10.4">1</text>
<text transform="translate(319.4 347.75) scale(0.85 1)" text-anchor="end" font-size="10.4">0</text>
<text transform="translate(319.4 369.53) scale(0.85 1)" text-anchor="end" font-size="10.4">−<tspan dx="0.9">1</tspan></text>
<text transform="translate(319.4 390.8) scale(0.85 1)" text-anchor="end" font-size="10.4">−<tspan dx="0.9">2</tspan></text>
<text transform="translate(349.41 397.6) scale(0.85 1)" font-size="10.4">2</text>
<text transform="translate(406.84 397.6) scale(0.85 1)" font-size="10.4">4</text>
<text transform="translate(464.27 397.6) scale(0.85 1)" font-size="10.4">6</text>
<text transform="translate(521.7 397.6) scale(0.85 1)" font-size="10.4">8</text>
<text x="421" y="412.4" font-size="10.4">t</text>
<text x="293.3" y="335.7" textLength="15.4" lengthAdjust="spacingAndGlyphs" font-size="10.4">Tet1</text>
<line x1="291.3" y1="341.2" x2="310.5" y2="341.2" stroke="#c22a2a" stroke-width="1.1"/>
<text x="293.3" y="353.8" textLength="15.4" lengthAdjust="spacingAndGlyphs" font-size="10.4">Tet2</text>
<line x1="291.3" y1="359.3" x2="310.5" y2="359.3" stroke="#2a2ac2" stroke-width="1.1"/>
<clipPath id="s594"><rect x="594.7" y="299.5" width="223.6" height="87.1"/></clipPath>
<g clip-path="url(#s594)">
<polyline points="594.83,328.36 594.86,329.29 594.88,330.99 594.9,333.38 594.92,336.35 594.95,339.8 594.97,343.6 594.99,347.59 595.01,351.64 595.04,355.6 595.06,359.34 595.08,362.74 595.11,365.69 595.13,368.11 595.15,369.92 595.17,371.09 595.2,371.6 595.22,371.45 595.24,370.69 595.26,369.34 595.29,367.49 595.31,365.21 595.33,362.6 595.35,359.76 595.38,356.8 595.4,353.83 595.42,350.97 595.45,348.32 595.47,345.99 595.49,344.05 595.51,342.56 595.54,341.59 595.56,341.15 595.58,341.24 595.6,341.87 595.63,342.98 595.65,344.54 595.67,346.46 595.69,348.68 595.72,351.11 595.74,353.64 595.76,356.19 595.79,358.65 595.81,360.95 595.83,363 595.85,364.74 595.88,366.1 595.9,367.06 595.92,367.58 595.94,367.66 595.97,367.31 595.99,366.56 596.01,365.44 596.03,364 596.06,362.32 596.08,360.46 596.1,358.48 596.13,356.47 596.15,354.5 596.17,352.64 596.19,350.95 596.22,349.5 596.24,348.31 596.26,347.44 596.28,346.9 596.31,346.69 596.33,346.82 596.35,347.28 596.37,348.03 596.4,349.04 596.42,350.27 596.44,351.67 596.46,353.19 596.49,354.75 596.51,356.32 596.53,357.82 596.56,359.21 596.58,360.43 596.6,361.46 596.62,362.25 596.65,362.78 596.67,363.04 596.69,363.02 596.71,362.74 596.74,362.2 596.76,361.43 596.78,360.47 596.8,359.35 596.83,358.12 596.85,356.83 596.87,355.52 596.9,354.24 596.92,353.03 596.94,351.95 596.96,351.02 596.99,350.27 597.01,349.73 597.03,349.42 597.05,349.32 597.08,349.45 597.1,349.79 597.12,350.33 597.14,351.04 597.17,351.88 597.19,352.83 597.21,353.84 597.24,354.88 597.26,355.9 597.28,356.88 597.3,357.77 597.33,358.54 597.35,359.18 597.37,359.64 597.39,359.94 597.42,360.05 597.44,359.98 597.46,359.74 597.48,359.33 597.51,358.78 597.53,358.11 597.55,357.34 597.58,356.52 597.6,355.66 597.62,354.8 597.64,353.97 597.67,353.2 597.69,352.52 597.71,351.95 597.73,351.5 597.76,351.18 597.78,351.02 597.8,351 597.82,351.12 597.85,351.38 597.87,351.76 597.89,352.24 597.92,352.8 597.94,353.43 597.96,354.08 597.98,354.75 598.01,355.4 598.03,356.01 598.05,356.56 598.07,357.03 598.1,357.4 598.12,357.66 598.14,357.82 598.16,357.85 598.19,357.77 598.21,357.57 598.23,357.28 598.26,356.9 598.28,356.44 598.3,355.93 598.32,355.39 598.35,354.83 598.37,354.28 598.39,353.75 598.41,353.27 598.44,352.84 598.46,352.49 598.48,352.21 598.5,352.03 598.53,351.94 598.55,351.94 598.57,352.04 598.59,352.21 598.62,352.46 598.64,352.78 598.66,353.14 598.69,353.53 598.71,353.95 598.73,354.36 598.75,354.76 598.78,355.14 598.8,355.46 598.82,355.74 598.84,355.95 598.87,356.09 598.89,356.16 598.91,356.15 598.93,356.06 598.96,355.91 598.98,355.7 599,355.43 599.03,355.12 599.05,354.77 599.07,354.41 599.09,354.05 599.12,353.69 599.14,353.36 599.16,353.05 599.18,352.79 599.21,352.58 599.23,352.42 599.25,352.31 599.27,352.27 599.3,352.29 599.32,352.36 599.34,352.48 599.37,352.64 599.39,352.84 599.41,353.06 599.43,353.3 599.46,353.54 599.48,353.78 599.5,354.01 599.52,354.21 599.55,354.38 599.57,354.52 599.59,354.61 599.61,354.67 599.64,354.67 599.66,354.64 599.68,354.57 599.71,354.46 599.73,354.31 599.75,354.14 599.77,353.96 599.8,353.76 599.82,353.56 599.84,353.36 599.86,353.17 599.89,352.99 599.91,352.84 599.93,352.71 599.95,352.61 599.98,352.54 600,352.5 600.02,352.49 600.05,352.5 600.07,352.54 600.09,352.6 600.11,352.68 600.14,352.77 600.16,352.86 600.18,352.96 600.2,353.05 600.23,353.14 600.25,353.21 600.27,353.28 600.29,353.32 600.32,353.35 600.34,353.36 600.36,353.36 600.39,353.33 600.41,353.3 600.43,353.24 600.45,353.18 600.48,353.11 600.5,353.04 600.52,352.97 600.54,352.9 600.57,352.83 600.59,352.76 600.61,352.71 600.63,352.66 600.66,352.62 600.68,352.6 600.7,352.58" fill="none" stroke="#e01010" stroke-width="0.9" stroke-linejoin="round" />
<polyline points="600.7,352.69 600.81,352.6 600.91,352.53 601.01,352.47 601.12,352.42 601.22,352.38 601.33,352.35 601.43,352.33 601.53,352.31 601.64,352.3 601.74,352.3 601.85,352.29 601.95,352.29 602.05,352.29 602.16,352.33 602.26,352.41 602.37,352.54 602.47,352.7 602.57,352.89 602.68,353.12 602.78,353.37 602.89,353.63 602.99,353.91 603.09,354.19 603.2,354.48 603.3,354.77 603.4,355.05 603.51,355.35 603.61,355.69 603.72,356.05 603.82,356.44 603.92,356.85 604.03,357.28 604.13,357.72 604.24,358.18 604.34,358.64 604.44,359.11 604.55,359.57 604.65,360.04 604.76,360.51 604.86,361 604.96,361.51 605.07,362.04 605.17,362.59 605.28,363.14 605.38,363.7 605.48,364.25 605.59,364.79 605.69,365.32 605.8,365.83 605.9,366.32 606,366.78 606.11,367.21 606.21,367.63 606.32,368.05 606.42,368.47 606.52,368.88 606.63,369.28 606.73,369.66 606.83,370.03 606.94,370.38 607.04,370.71 607.15,371.01 607.25,371.29 607.35,371.54 607.46,371.76 607.56,371.98 607.67,372.2 607.77,372.42 607.87,372.62 607.98,372.83 608.08,373.02 608.19,373.21 608.29,373.39 608.39,373.56 608.5,373.72 608.6,373.87 608.71,374.01 608.81,374.14 608.91,374.26 609.02,374.37 609.12,374.46 609.23,374.54 609.33,374.61 609.43,374.66 609.54,374.71 609.64,374.76 609.75,374.81 609.85,374.86 609.95,374.9 610.06,374.94 610.16,374.98 610.27,375.02 610.37,375.05 610.47,375.08 610.58,375.1 610.68,375.12 610.78,375.14 610.89,375.15 610.99,375.16 611.1,375.16 611.2,375.16 611.3,375.14 611.41,375.12 611.51,375.08 611.62,375.03 611.72,374.98 611.82,374.92 611.93,374.85 612.03,374.78 612.14,374.7 612.24,374.62 612.34,374.54 612.45,374.45 612.55,374.36 612.66,374.28 612.76,374.19 612.86,374.09 612.97,373.98 613.07,373.86 613.18,373.73 613.28,373.58 613.38,373.43 613.49,373.28 613.59,373.11 613.7,372.93 613.8,372.75 613.9,372.56 614.01,372.37 614.11,372.17 614.21,371.96 614.32,371.74 614.42,371.53 614.53,371.3 614.63,371.08 614.73,370.85 614.84,370.6 614.94,370.32 615.05,370.02 615.15,369.71 615.25,369.37 615.36,369.02 615.46,368.66 615.57,368.29 615.67,367.91 615.77,367.53 615.88,367.14 615.98,366.75 616.09,366.37 616.19,365.99 616.29,365.62 616.4,365.26 616.5,364.91 616.61,364.57 616.71,364.26 616.81,363.95 616.92,363.64 617.02,363.32 617.13,363.01 617.23,362.69 617.33,362.38 617.44,362.07 617.54,361.76 617.65,361.46 617.75,361.16 617.85,360.87 617.96,360.59 618.06,360.32 618.16,360.07 618.27,359.82 618.37,359.59 618.48,359.37 618.58,359.17 618.68,358.98 618.79,358.81 618.89,358.64 619,358.48 619.1,358.31 619.2,358.15 619.31,358 619.41,357.84 619.52,357.7 619.62,357.56 619.72,357.42 619.83,357.29 619.93,357.17 620.04,357.06 620.14,356.96 620.24,356.86 620.35,356.77 620.45,356.69 620.56,356.63 620.66,356.57 620.76,356.52 620.87,356.48 620.97,356.44 621.08,356.39 621.18,356.35 621.28,356.31 621.39,356.28 621.49,356.24 621.59,356.21 621.7,356.18 621.8,356.15 621.91,356.12 622.01,356.1 622.11,356.07 622.22,356.06 622.32,356.04 622.43,356.03 622.53,356.02 622.63,356.02 622.74,356.02 622.84,356.03 622.95,356.05 623.05,356.08 623.15,356.13 623.26,356.18 623.36,356.25 623.47,356.32 623.57,356.41 623.67,356.49 623.78,356.59 623.88,356.69 623.99,356.8 624.09,356.91 624.19,357.02 624.3,357.14 624.4,357.26 624.51,357.37 624.61,357.49 624.71,357.61 624.82,357.74 624.92,357.88 625.02,358.03 625.13,358.2 625.23,358.38 625.34,358.57 625.44,358.76 625.54,358.97 625.65,359.19 625.75,359.41 625.86,359.63 625.96,359.87 626.06,360.1 626.17,360.34 626.27,360.58 626.38,360.82 626.48,361.06 626.58,361.31 626.69,361.54 626.79,361.78 626.9,362.03 627,362.29 627.1,362.56 627.21,362.83 627.31,363.1 627.42,363.39 627.52,363.67 627.62,363.96 627.73,364.25 627.83,364.54 627.94,364.83 628.04,365.12 628.14,365.41 628.25,365.7 628.35,365.98 628.46,366.26 628.56,366.53 628.66,366.79 628.77,367.05 628.87,367.31 628.97,367.56 629.08,367.81 629.18,368.06 629.29,368.31 629.39,368.56 629.49,368.8 629.6,369.05 629.7,369.29 629.81,369.53 629.91,369.77 630.01,370.01 630.12,370.24 630.22,370.48 630.33,370.71 630.43,370.94 630.53,371.17 630.64,371.4 630.74,371.63 630.85,371.86 630.95,372.09 631.05,372.31 631.16,372.53 631.26,372.75 631.37,372.97 631.47,373.19 631.57,373.41 631.68,373.62 631.78,373.83" fill="none" stroke="#c22a2a" stroke-width="1.2" stroke-linejoin="round" />
<polyline points="631.78,373.83 632.05,363.85 632.31,363.37 632.58,363.12 632.85,362.69 633.11,362.22 633.38,361.76 633.65,361.27 633.91,360.77 634.18,360.22 634.45,359.62 634.71,358.95 634.98,358.14 635.25,357.17 635.51,356.07 635.78,354.91 636.05,353.72 636.31,352.56 636.58,351.48 636.85,350.47 637.11,349.36 637.38,348.18 637.65,347.02 637.91,345.97 638.18,345.11 638.45,344.53 638.71,344.31 638.98,344.52 639.25,345.09 639.51,345.88 639.78,346.77 640.05,347.62 640.31,348.31 640.58,348.76 640.85,349.17 641.11,349.5 641.38,349.63 641.64,348.63 641.91,345.98 642.18,342.37 642.44,338.51 642.71,335.09 642.98,331.93 643.24,328.52 643.51,325.22 643.78,322.4 644.04,320.42 644.31,319.05 644.58,317.88 644.84,317.17 645.11,317.15 645.38,317.89 645.64,319.18 645.91,320.79 646.18,322.65 646.44,325.57 646.71,329.28 646.98,333.31 647.24,337.15 647.51,340.46 647.78,343.73 648.04,346.93 648.31,349.9 648.58,352.46 648.84,354.52 649.11,356.54 649.38,358.42 649.64,359.91 649.91,360.8 650.18,360.8 650.44,359.64 650.71,357.6 650.98,355.06 651.24,352.37 651.51,349.79 651.77,346.75 652.04,343.35 652.31,339.88 652.57,336.62 652.84,333.77 653.11,330.89 653.37,328.09 653.64,325.62 653.91,323.74 654.17,322.6 654.44,321.71 654.71,321.14 654.97,321.3 655.24,323.38 655.51,326.5 655.77,329.38 656.04,330.74 656.31,330.56 656.57,330.02 656.84,329.19 657.11,328.19 657.37,327.1 657.64,325.58 657.91,323.34 658.17,320.8 658.44,318.38 658.71,316.49 658.97,315.03 659.24,313.6 659.51,312.34 659.77,311.44 660.04,311.07 660.31,311.44 660.57,312.52 660.84,314.07 661.11,315.84 661.37,317.59 661.64,319.44 661.9,321.67 662.17,324.03 662.44,326.29 662.7,328.22 662.97,329.88 663.24,331.52 663.5,333 663.77,334.19 664.04,334.96 664.3,335.41 664.57,335.82 664.84,336.18 665.1,336.48 665.37,336.72 665.64,336.89 665.9,336.98 666.17,337 666.44,336.95 666.7,336.87 666.97,336.76 667.24,336.62 667.5,336.46 667.77,336.28 668.04,336.11 668.3,335.93 668.57,335.76 668.84,335.61 669.1,335.43 669.37,335.23 669.64,335.02 669.9,334.8 670.17,334.59 670.44,334.4 670.7,334.22 670.97,334.08 671.24,333.98 671.5,333.92 671.77,333.88 672.03,333.84 672.3,333.8 672.57,333.77 672.83,333.74 673.1,333.72 673.37,333.7 673.63,333.68 673.9,333.68 674.17,333.68 674.43,333.71 674.7,333.78 674.97,333.88 675.23,333.99 675.5,334.13 675.77,334.27 676.03,334.41 676.3,334.54 676.57,334.67 676.83,334.78 677.1,334.89 677.37,335.01 677.63,335.12 677.9,335.24 678.17,335.36 678.43,335.49 678.7,335.6 678.97,335.72 679.23,335.83 679.5,335.94 679.77,336.04 680.03,336.13 680.3,336.22 680.57,336.29 680.83,336.36 681.1,336.42 681.37,336.48 681.63,336.55 681.9,336.61 682.17,336.67 682.43,336.72 682.7,336.78 682.96,336.83 683.23,336.87 683.5,336.91 683.76,336.94 684.03,336.97 684.3,336.99 684.56,337 684.83,337 685.1,336.98 685.36,336.96 685.63,336.91 685.9,336.86 686.16,336.8 686.43,336.73 686.7,336.65 686.96,336.56 687.23,336.47 687.5,336.38 687.76,336.29 688.03,336.2 688.3,336.11 688.56,336.03 688.83,335.95 689.1,335.88 689.36,335.81 689.63,335.75 689.9,335.7 690.16,335.64 690.43,335.58 690.7,335.53 690.96,335.47 691.23,335.41 691.5,335.36 691.76,335.3 692.03,335.25 692.3,335.2 692.56,335.14 692.83,335.09 693.09,335.04 693.36,334.99 693.63,334.94 693.89,334.89 694.16,334.85 694.43,334.8 694.69,334.76 694.96,334.72 695.23,334.68 695.49,334.64 695.76,334.6 696.03,334.56 696.29,334.53 696.56,334.49 696.83,334.46 697.09,334.43 697.36,334.4 697.63,334.37 697.89,334.34 698.16,334.31 698.43,334.28 698.69,334.26 698.96,334.23 699.23,334.2 699.49,334.17 699.76,334.15 700.03,334.12 700.29,334.09 700.56,334.07 700.83,334.05 701.09,334.02 701.36,334 701.63,333.98 701.89,333.96 702.16,333.94 702.43,333.92 702.69,333.9 702.96,333.89 703.22,333.87 703.49,333.86 703.76,333.84 704.02,333.83 704.29,333.82 704.56,333.81 704.82,333.81 705.09,333.8 705.36,333.79 705.62,333.78 705.89,333.78 706.16,333.77 706.42,333.76 706.69,333.76 706.96,333.75 707.22,333.74 707.49,333.74 707.76,333.73 708.02,333.73 708.29,333.72 708.56,333.72 708.82,333.71 709.09,333.71 709.36,333.7 709.62,333.7 709.89,333.7 710.16,333.69 710.42,333.69 710.69,333.69 710.96,333.68 711.22,333.68 711.49,333.68 711.76,333.68 712.02,333.68 712.29,333.68 712.56,333.68 712.82,333.68 713.09,333.68 713.35,333.68 713.62,333.68 713.89,333.68 714.15,333.69 714.42,333.69 714.69,333.7 714.95,333.71 715.22,333.71 715.49,333.72 715.75,333.73 716.02,333.74 716.29,333.75 716.55,333.76 716.82,333.77 717.09,333.78 717.35,333.8 717.62,333.81 717.89,333.82 718.15,333.83 718.42,333.85 718.69,333.86 718.95,333.87 719.22,333.89 719.49,333.9 719.75,333.91 720.02,333.93 720.29,333.94 720.55,333.95 720.82,333.96 721.09,333.98 721.35,333.99 721.62,334 721.89,334.01 722.15,334.03 722.42,334.04 722.69,334.05 722.95,334.06 723.22,334.07 723.49,334.08 723.75,334.09 724.02,334.09 724.28,334.1 724.55,334.11 724.82,334.12 725.08,334.13 725.35,334.14 725.62,334.15 725.88,334.16 726.15,334.18 726.42,334.19 726.68,334.2 726.95,334.21 727.22,334.22 727.48,334.23 727.75,334.24 728.02,334.25 728.28,334.26 728.55,334.27 728.82,334.28 729.08,334.29 729.35,334.3 729.62,334.31 729.88,334.32 730.15,334.33 730.42,334.34 730.68,334.35 730.95,334.36 731.22,334.37 731.48,334.38 731.75,334.39 732.02,334.39 732.28,334.4 732.55,334.41 732.82,334.42 733.08,334.42 733.35,334.43 733.62,334.44 733.88,334.44 734.15,334.45 734.41,334.45 734.68,334.46 734.95,334.46 735.21,334.46 735.48,334.47 735.75,334.47 736.01,334.47 736.28,334.47 736.55,334.47 736.81,334.47 737.08,334.47 737.35,334.47 737.61,334.47 737.88,334.46 738.15,334.46 738.41,334.46 738.68,334.45 738.95,334.44 739.21,334.44 739.48,334.43 739.75,334.42 740.01,334.41 740.28,334.4 740.55,334.39 740.81,334.38 741.08,334.37 741.35,334.36 741.61,334.35 741.88,334.34 742.15,334.33 742.41,334.32 742.68,334.31 742.95,334.29 743.21,334.28 743.48,334.27 743.75,334.26 744.01,334.25 744.28,334.24 744.54,334.22 744.81,334.21 745.08,334.2 745.34,334.19 745.61,334.18 745.88,334.17 746.14,334.16 746.41,334.15 746.68,334.14 746.94,334.13 747.21,334.12 747.48,334.11 747.74,334.11 748.01,334.1 748.28,334.09 748.54,334.09 748.81,334.08 749.08,334.08 749.34,334.08 749.61,334.08 749.88,334.07 750.14,334.07 750.41,334.07 750.68,334.08 750.94,334.08 751.21,334.08 751.48,334.08 751.74,334.09 752.01,334.09 752.28,334.09 752.54,334.1 752.81,334.1 753.08,334.11 753.34,334.11 753.61,334.12 753.88,334.13 754.14,334.13 754.41,334.14 754.68,334.15 754.94,334.15 755.21,334.16 755.47,334.17 755.74,334.18 756.01,334.18 756.27,334.19 756.54,334.2 756.81,334.21 757.07,334.22 757.34,334.22 757.61,334.23 757.87,334.24 758.14,334.25 758.41,334.26 758.67,334.26 758.94,334.27 759.21,334.28 759.47,334.28 759.74,334.29 760.01,334.3 760.27,334.3 760.54,334.31 760.81,334.31 761.07,334.32 761.34,334.32 761.61,334.33 761.87,334.33 762.14,334.33 762.41,334.34 762.67,334.34 762.94,334.34 763.21,334.34 763.47,334.34 763.74,334.34 764.01,334.34 764.27,334.34 764.54,334.34 764.81,334.34 765.07,334.33 765.34,334.33 765.6,334.33 765.87,334.33 766.14,334.33 766.4,334.32 766.67,334.32 766.94,334.32 767.2,334.31 767.47,334.31 767.74,334.31 768,334.3 768.27,334.3 768.54,334.3 768.8,334.29 769.07,334.29 769.34,334.28 769.6,334.28 769.87,334.28 770.14,334.27 770.4,334.27 770.67,334.27 770.94,334.26 771.2,334.26 771.47,334.25 771.74,334.25 772,334.25 772.27,334.24 772.54,334.24 772.8,334.24 773.07,334.23 773.34,334.23 773.6,334.23 773.87,334.22 774.14,334.22 774.4,334.22 774.67,334.22 774.94,334.21 775.2,334.21 775.47,334.21 775.73,334.21 776,334.21 776.27,334.21 776.53,334.21 776.8,334.21 777.07,334.21 777.33,334.21 777.6,334.21 777.87,334.21 778.13,334.21 778.4,334.21 778.67,334.21 778.93,334.22 779.2,334.22 779.47,334.22 779.73,334.22 780,334.23 780.27,334.23 780.53,334.23 780.8,334.24 781.07,334.24 781.33,334.24 781.6,334.25 781.87,334.25 782.13,334.25 782.4,334.26 782.67,334.26 782.93,334.27 783.2,334.27 783.47,334.27 783.73,334.28 784,334.28 784.27,334.29 784.53,334.29 784.8,334.29 785.07,334.3 785.33,334.3 785.6,334.3 785.86,334.31 786.13,334.31 786.4,334.31 786.66,334.32 786.93,334.32 787.2,334.32 787.46,334.33 787.73,334.33 788,334.33 788.26,334.33 788.53,334.33 788.8,334.34 789.06,334.34 789.33,334.34 789.6,334.34 789.86,334.34 790.13,334.34 790.4,334.34 790.66,334.34 790.93,334.34 791.2,334.34 791.46,334.34 791.73,334.34 792,334.34 792.26,334.34 792.53,334.34 792.8,334.34 793.06,334.34 793.33,334.34 793.6,334.34 793.86,334.34 794.13,334.34 794.4,334.34 794.66,334.34 794.93,334.34 795.2,334.34 795.46,334.34 795.73,334.34 796,334.34 796.26,334.34 796.53,334.34 796.79,334.34 797.06,334.34 797.33,334.34 797.59,334.34 797.86,334.34 798.13,334.34 798.39,334.34 798.66,334.34 798.93,334.34 799.19,334.34 799.46,334.34 799.73,334.34 799.99,334.34 800.26,334.34 800.53,334.34 800.79,334.34 801.06,334.34 801.33,334.34 801.59,334.34 801.86,334.34 802.13,334.34 802.39,334.34 802.66,334.34 802.93,334.34 803.19,334.34 803.46,334.34 803.73,334.34 803.99,334.34 804.26,334.34 804.53,334.34 804.79,334.34 805.06,334.34 805.33,334.34 805.59,334.34 805.86,334.34 806.13,334.34 806.39,334.34 806.66,334.34 806.92,334.34 807.19,334.34 807.46,334.34 807.72,334.34 807.99,334.34 808.26,334.34 808.52,334.34 808.79,334.34 809.06,334.34 809.32,334.34 809.59,334.34 809.86,334.34 810.12,334.34 810.39,334.34 810.66,334.34 810.92,334.34 811.19,334.34 811.46,334.34 811.72,334.34 811.99,334.34 812.26,334.34 812.52,334.34 812.79,334.34 813.06,334.34 813.32,334.34 813.59,334.34 813.86,334.34 814.12,334.34 814.39,334.34 814.66,334.34 814.92,334.34 815.19,334.34 815.46,334.34 815.72,334.34 815.99,334.34 816.26,334.34 816.52,334.34 816.79,334.34 817.05,334.34 817.32,334.34 817.59,334.34 817.85,334.34 818.12,334.34" fill="none" stroke="#c22a2a" stroke-width="1.2" stroke-linejoin="round" />
<polyline points="594.7,364.26 613.77,364.26" fill="none" stroke="#2a2ac2" stroke-width="1.2" stroke-linejoin="round" />
<polyline points="613.77,325.03 613.8,326.14 613.83,328.35 613.86,331.54 613.89,335.51 613.91,340.03 613.94,344.86 613.97,349.72 614,354.36 614.02,358.54 614.05,362.06 614.08,364.77 614.11,366.53 614.14,367.3 614.16,367.07 614.19,365.89 614.22,363.86 614.25,361.11 614.27,357.82 614.3,354.17 614.33,350.38 614.36,346.66 614.39,343.22 614.41,340.26 614.44,337.93 614.47,336.36 614.5,335.6 614.53,335.7 614.55,336.62 614.58,338.31 614.61,340.64 614.64,343.47 614.66,346.65 614.69,349.98 614.72,353.29 614.75,356.38 614.78,359.1 614.8,361.31 614.83,362.9 614.86,363.81 614.89,364 614.91,363.48 614.94,362.31 614.97,360.57 615,358.36 615.03,355.83 615.05,353.12 615.08,350.39 615.11,347.78 615.14,345.43 615.16,343.47 615.19,342 615.22,341.07 615.25,340.73 615.28,340.98 615.3,341.8 615.33,343.12 615.36,344.87 615.39,346.94 615.41,349.21 615.44,351.57 615.47,353.87 615.5,356 615.53,357.85 615.55,359.31 615.58,360.33 615.61,360.86 615.64,360.88 615.67,360.39 615.69,359.45 615.72,358.12 615.75,356.46 615.78,354.6 615.8,352.62 615.83,350.65 615.86,348.79 615.89,347.14 615.92,345.8 615.94,344.83 615.97,344.27 616,344.15 616.03,344.47 616.05,345.21 616.08,346.31 616.11,347.72 616.14,349.34 616.17,351.08 616.19,352.86 616.22,354.57 616.25,356.13 616.28,357.44 616.3,358.45 616.33,359.11 616.36,359.38 616.39,359.27 616.42,358.79 616.44,357.97 616.47,356.86 616.5,355.54 616.53,354.08 616.56,352.56 616.58,351.07 616.61,349.69 616.64,348.49 616.67,347.55 616.69,346.9 616.72,346.58 616.75,346.6 616.78,346.95 616.81,347.61 616.83,348.54 616.86,349.67 616.89,350.96 616.92,352.32 616.94,353.68 616.97,354.96 617,356.1 617.03,357.04 617.06,357.73 617.08,358.14 617.11,358.25 617.14,358.06 617.17,357.6 617.19,356.89 617.22,355.97 617.25,354.9 617.28,353.76 617.31,352.59 617.33,351.46 617.36,350.44 617.39,349.59 617.42,348.94 617.45,348.53 617.47,348.37 617.5,348.47 617.53,348.83 617.56,349.41 617.58,350.17 617.61,351.08 617.64,352.08 617.67,353.12 617.7,354.12 617.72,355.05 617.75,355.85 617.78,356.49 617.81,356.92 617.83,357.14 617.86,357.14 617.89,356.92 617.92,356.5 617.95,355.91 617.97,355.19 618,354.38 618.03,353.54 618.06,352.7 618.08,351.92 618.11,351.23 618.14,350.68 618.17,350.28 618.2,350.06 618.22,350.03 618.25,350.18 618.28,350.49 618.31,350.95 618.34,351.53 618.36,352.19 618.39,352.9 618.42,353.61 618.45,354.29 618.47,354.89 618.5,355.4 618.53,355.79 618.56,356.03 618.59,356.12 618.61,356.07 618.64,355.87 618.67,355.55 618.7,355.12 618.72,354.62 618.75,354.07 618.78,353.51 618.81,352.97 618.84,352.48 618.86,352.06 618.89,351.73 618.92,351.52 618.95,351.43 618.97,351.45 619,351.6 619.03,351.85 619.06,352.2 619.09,352.61 619.11,353.07 619.14,353.55 619.17,354.03 619.2,354.47 619.22,354.87 619.25,355.19 619.28,355.43 619.31,355.57 619.34,355.62 619.36,355.57 619.39,355.43 619.42,355.22 619.45,354.94 619.48,354.62 619.5,354.28 619.53,353.94 619.56,353.61 619.59,353.32 619.61,353.09 619.64,352.93 619.67,352.84 619.7,352.83 619.73,352.9 619.75,353.05 619.78,353.26 619.81,353.53 619.84,353.84 619.86,354.17 619.89,354.51 619.92,354.84 619.95,355.14 619.98,355.41 620,355.62 620.03,355.78 620.06,355.87 620.09,355.9 620.11,355.88 620.14,355.8 620.17,355.68 620.2,355.53 620.23,355.37 620.25,355.2 620.28,355.04 620.31,354.9 620.34,354.79 620.37,354.72 620.39,354.69 620.42,354.71 620.45,354.77 620.48,354.88 620.5,355.03 620.53,355.2 620.56,355.39 620.59,355.6 620.62,355.81 620.64,356.01 620.67,356.2 620.7,356.37 620.73,356.52 620.75,356.63 620.78,356.72 620.81,356.79 620.84,356.83 620.87,356.86 620.89,356.87 620.92,356.87 620.95,356.87 620.98,356.88" fill="none" stroke="#1010e0" stroke-width="0.9" stroke-linejoin="round" />
<polyline points="620.71,356.95 620.75,357.1 620.78,357.26 620.82,357.42 620.86,357.58 620.9,357.74 620.93,357.9 620.97,358.06 621.01,358.22 621.04,358.38 621.08,358.54 621.12,358.7 621.15,358.87 621.19,359.03 621.23,359.19 621.27,359.36 621.3,359.52 621.34,359.69 621.38,359.86 621.41,360.02 621.45,360.19 621.49,360.36 621.52,360.52 621.56,360.69 621.6,360.86 621.64,361.03 621.67,361.2 621.71,361.37 621.75,361.54 621.78,361.71 621.82,361.89 621.86,362.06 621.9,362.23 621.93,362.4 621.97,362.58 622.01,362.75 622.04,362.93 622.08,363.1 622.12,363.28 622.15,363.47 622.19,363.65 622.23,363.84 622.27,364.03 622.3,364.22 622.34,364.42 622.38,364.62 622.41,364.81 622.45,365.01 622.49,365.21 622.52,365.41 622.56,365.61 622.6,365.81 622.64,366.01 622.67,366.21 622.71,366.41 622.75,366.61 622.78,366.81 622.82,367 622.86,367.19 622.89,367.39 622.93,367.58 622.97,367.76 623.01,367.95 623.04,368.13 623.08,368.3 623.12,368.48 623.15,368.65 623.19,368.81 623.23,368.98 623.27,369.13 623.3,369.28 623.34,369.43 623.38,369.57 623.41,369.71 623.45,369.85 623.49,369.98 623.52,370.12 623.56,370.25 623.6,370.39 623.64,370.52 623.67,370.65 623.71,370.78 623.75,370.91 623.78,371.04 623.82,371.17 623.86,371.29 623.89,371.41 623.93,371.54 623.97,371.65 624.01,371.77 624.04,371.89 624.08,372 624.12,372.11 624.15,372.22 624.19,372.33 624.23,372.44 624.26,372.54 624.3,372.64 624.34,372.74 624.38,372.83 624.41,372.93 624.45,373.02 624.49,373.1 624.52,373.19 624.56,373.27 624.6,373.35 624.64,373.42 624.67,373.49 624.71,373.56 624.75,373.63 624.78,373.7 624.82,373.76 624.86,373.83 624.89,373.89 624.93,373.96 624.97,374.02 625.01,374.08 625.04,374.15 625.08,374.21 625.12,374.27 625.15,374.33 625.19,374.39 625.23,374.44 625.26,374.5 625.3,374.55 625.34,374.61 625.38,374.66 625.41,374.71 625.45,374.76 625.49,374.81 625.52,374.85 625.56,374.9 625.6,374.94 625.63,374.98 625.67,375.02 625.71,375.06 625.75,375.09 625.78,375.12 625.82,375.16 625.86,375.19 625.89,375.21 625.93,375.24 625.97,375.26 626.01,375.28 626.04,375.3 626.08,375.31 626.12,375.33 626.15,375.34 626.19,375.36 626.23,375.37 626.26,375.39 626.3,375.4 626.34,375.42 626.38,375.43 626.41,375.44 626.45,375.46 626.49,375.47 626.52,375.48 626.56,375.5 626.6,375.51 626.63,375.52 626.67,375.53 626.71,375.54 626.75,375.55 626.78,375.56 626.82,375.57 626.86,375.58 626.89,375.59 626.93,375.6 626.97,375.61 627,375.62 627.04,375.63 627.08,375.64 627.12,375.64 627.15,375.65 627.19,375.66 627.23,375.66 627.26,375.67 627.3,375.67 627.34,375.68 627.38,375.68 627.41,375.69 627.45,375.69 627.49,375.69 627.52,375.69 627.56,375.69 627.6,375.7 627.63,375.7 627.67,375.7 627.71,375.69 627.75,375.69 627.78,375.68 627.82,375.68 627.86,375.67 627.89,375.65 627.93,375.64 627.97,375.63 628,375.61 628.04,375.59 628.08,375.57 628.12,375.55 628.15,375.53 628.19,375.51 628.23,375.48 628.26,375.45 628.3,375.43 628.34,375.4 628.37,375.37 628.41,375.34 628.45,375.3 628.49,375.27 628.52,375.23 628.56,375.2 628.6,375.16 628.63,375.12 628.67,375.09 628.71,375.05 628.75,375.01 628.78,374.97 628.82,374.92 628.86,374.88 628.89,374.84 628.93,374.8 628.97,374.75 629,374.71 629.04,374.66 629.08,374.62 629.12,374.57 629.15,374.52 629.19,374.48 629.23,374.43 629.26,374.38 629.3,374.34 629.34,374.29 629.37,374.24 629.41,374.19 629.45,374.14 629.49,374.08 629.52,374.02 629.56,373.96 629.6,373.9 629.63,373.83 629.67,373.76 629.71,373.68 629.74,373.61 629.78,373.53 629.82,373.45 629.86,373.36 629.89,373.28 629.93,373.19 629.97,373.1 630,373 630.04,372.91 630.08,372.81 630.12,372.71 630.15,372.61 630.19,372.51 630.23,372.4 630.26,372.3 630.3,372.19 630.34,372.08 630.37,371.97 630.41,371.86 630.45,371.74 630.49,371.63 630.52,371.52 630.56,371.4 630.6,371.28 630.63,371.17 630.67,371.05 630.71,370.93 630.74,370.81 630.78,370.69 630.82,370.56 630.86,370.43 630.89,370.29 630.93,370.16 630.97,370.02 631,369.87 631.04,369.72 631.08,369.57 631.11,369.42 631.15,369.26 631.19,369.11 631.23,368.94 631.26,368.78 631.3,368.61 631.34,368.44 631.37,368.27 631.41,368.1 631.45,367.92 631.49,367.74 631.52,367.56 631.56,367.38 631.6,367.2 631.63,367.01 631.67,366.83 631.71,366.64 631.74,366.45 631.78,366.25" fill="none" stroke="#2a2ac2" stroke-width="1.2" stroke-linejoin="round" />
<polyline points="631.78,366.25 632.05,356.15 632.31,354.38 632.58,353.22 632.85,351.04 633.11,347.96 633.38,344.38 633.65,340.57 633.91,336.81 634.18,333.27 634.45,329.66 634.71,326.03 634.98,322.51 635.25,319.24 635.51,316.22 635.78,312.91 636.05,309.92 636.31,308.03 636.58,308.02 636.85,309.96 637.11,313.02 637.38,316.34 637.65,320.14 637.91,324.92 638.18,330.05 638.45,334.92 638.71,338.93 638.98,342.18 639.25,345.18 639.51,347.89 639.78,350.26 640.05,352.25 640.31,353.96 640.58,355.51 640.85,356.87 641.11,358.02 641.38,358.92 641.64,359.65 641.91,360.29 642.18,360.84 642.44,361.28 642.71,361.59 642.98,361.84 643.24,362.05 643.51,362.2 643.78,362.27 644.04,361.95 644.31,361.07 644.58,359.83 644.84,358.39 645.11,356.82 645.38,354.48 645.64,351.78 645.91,349.32 646.18,347.55 646.44,345.9 646.71,344.37 646.98,343.15 647.24,342.43 647.51,342.38 647.78,342.86 648.04,343.61 648.31,344.37 648.58,344.89 648.84,344.97 649.11,344.89 649.38,344.72 649.64,344.48 649.91,343.95 650.18,341.87 650.44,338.67 650.71,335.18 650.98,331.11 651.24,326.14 651.51,321.29 651.77,317.43 652.04,313.92 652.31,310.76 652.57,308.18 652.84,306.31 653.11,304.66 653.37,303.55 653.64,303.55 653.91,305.16 654.17,307.84 654.44,310.89 654.71,314.63 654.97,319.49 655.24,324.5 655.51,328.87 655.77,333.16 656.04,337.11 656.31,340.17 656.57,342.52 656.84,344.69 657.11,346.29 657.37,346.97 657.64,346.74 657.91,346.06 658.17,345.11 658.44,344.05 658.71,343.05 658.97,342.08 659.24,340.97 659.51,339.8 659.77,338.6 660.04,337.44 660.31,336.38 660.57,335.45 660.84,334.71 661.11,334.07 661.37,333.48 661.64,332.94 661.9,332.43 662.17,331.96 662.44,331.5 662.7,331.05 662.97,330.6 663.24,330.14 663.5,329.69 663.77,329.26 664.04,328.86 664.3,328.51 664.57,328.23 664.84,328 665.1,327.8 665.37,327.6 665.64,327.42 665.9,327.26 666.17,327.14 666.44,327.06 666.7,327.03 666.97,327.1 667.24,327.31 667.5,327.64 667.77,328.05 668.04,328.51 668.3,328.99 668.57,329.44 668.84,329.85 669.1,330.3 669.37,330.79 669.64,331.3 669.9,331.8 670.17,332.26 670.44,332.67 670.7,332.98 670.97,333.24 671.24,333.48 671.5,333.71 671.77,333.92 672.03,334.09 672.3,334.23 672.57,334.31 672.83,334.35 673.1,334.37 673.37,334.39 673.63,334.41 673.9,334.43 674.17,334.44 674.43,334.45 674.7,334.46 674.97,334.47 675.23,334.47 675.5,334.47 675.77,334.45 676.03,334.42 676.3,334.37 676.57,334.3 676.83,334.23 677.1,334.14 677.37,334.05 677.63,333.96 677.9,333.87 678.17,333.77 678.43,333.68 678.7,333.59 678.97,333.51 679.23,333.45 679.5,333.39 679.77,333.33 680.03,333.27 680.3,333.21 680.57,333.15 680.83,333.09 681.1,333.04 681.37,332.98 681.63,332.93 681.9,332.88 682.17,332.84 682.43,332.81 682.7,332.78 682.96,332.76 683.23,332.75 683.5,332.74 683.76,332.75 684.03,332.75 684.3,332.76 684.56,332.77 684.83,332.79 685.1,332.8 685.36,332.82 685.63,332.84 685.9,332.87 686.16,332.89 686.43,332.91 686.7,332.94 686.96,332.97 687.23,332.99 687.5,333.02 687.76,333.06 688.03,333.1 688.3,333.16 688.56,333.22 688.83,333.29 689.1,333.36 689.36,333.44 689.63,333.51 689.9,333.59 690.16,333.66 690.43,333.73 690.7,333.8 690.96,333.86 691.23,333.91 691.5,333.96 691.76,334 692.03,334.04 692.3,334.08 692.56,334.13 692.83,334.17 693.09,334.21 693.36,334.25 693.63,334.29 693.89,334.33 694.16,334.37 694.43,334.41 694.69,334.45 694.96,334.49 695.23,334.52 695.49,334.56 695.76,334.59 696.03,334.62 696.29,334.65 696.56,334.68 696.83,334.71 697.09,334.73 697.36,334.76 697.63,334.78 697.89,334.8 698.16,334.82 698.43,334.83 698.69,334.85 698.96,334.86 699.23,334.87 699.49,334.87 699.76,334.88 700.03,334.89 700.29,334.89 700.56,334.9 700.83,334.9 701.09,334.91 701.36,334.91 701.63,334.92 701.89,334.92 702.16,334.93 702.43,334.93 702.69,334.94 702.96,334.94 703.22,334.95 703.49,334.95 703.76,334.96 704.02,334.96 704.29,334.96 704.56,334.97 704.82,334.97 705.09,334.97 705.36,334.98 705.62,334.98 705.89,334.98 706.16,334.99 706.42,334.99 706.69,334.99 706.96,334.99 707.22,334.99 707.49,335 707.76,335 708.02,335 708.29,335 708.56,335 708.82,335 709.09,335 709.36,335 709.62,335 709.89,335 710.16,335 710.42,335 710.69,335 710.96,335 711.22,335 711.49,335 711.76,334.99 712.02,334.99 712.29,334.98 712.56,334.98 712.82,334.97 713.09,334.97 713.35,334.96 713.62,334.96 713.89,334.95 714.15,334.94 714.42,334.93 714.69,334.93 714.95,334.92 715.22,334.91 715.49,334.9 715.75,334.89 716.02,334.88 716.29,334.87 716.55,334.86 716.82,334.85 717.09,334.84 717.35,334.83 717.62,334.82 717.89,334.81 718.15,334.8 718.42,334.79 718.69,334.78 718.95,334.77 719.22,334.76 719.49,334.75 719.75,334.74 720.02,334.73 720.29,334.72 720.55,334.71 720.82,334.7 721.09,334.69 721.35,334.68 721.62,334.67 721.89,334.66 722.15,334.65 722.42,334.64 722.69,334.63 722.95,334.62 723.22,334.61 723.49,334.6 723.75,334.6 724.02,334.59 724.28,334.58 724.55,334.57 724.82,334.56 725.08,334.55 725.35,334.54 725.62,334.53 725.88,334.52 726.15,334.51 726.42,334.5 726.68,334.49 726.95,334.48 727.22,334.47 727.48,334.46 727.75,334.45 728.02,334.44 728.28,334.43 728.55,334.42 728.82,334.41 729.08,334.4 729.35,334.38 729.62,334.37 729.88,334.36 730.15,334.35 730.42,334.34 730.68,334.33 730.95,334.33 731.22,334.32 731.48,334.31 731.75,334.3 732.02,334.29 732.28,334.28 732.55,334.27 732.82,334.27 733.08,334.26 733.35,334.25 733.62,334.25 733.88,334.24 734.15,334.23 734.41,334.23 734.68,334.22 734.95,334.22 735.21,334.22 735.48,334.21 735.75,334.21 736.01,334.21 736.28,334.21 736.55,334.21 736.81,334.21 737.08,334.21 737.35,334.21 737.61,334.21 737.88,334.22 738.15,334.22 738.41,334.22 738.68,334.23 738.95,334.24 739.21,334.24 739.48,334.25 739.75,334.26 740.01,334.27 740.28,334.28 740.55,334.29 740.81,334.3 741.08,334.31 741.35,334.32 741.61,334.33 741.88,334.34 742.15,334.35 742.41,334.36 742.68,334.37 742.95,334.39 743.21,334.4 743.48,334.41 743.75,334.42 744.01,334.43 744.28,334.44 744.54,334.46 744.81,334.47 745.08,334.48 745.34,334.49 745.61,334.5 745.88,334.51 746.14,334.52 746.41,334.53 746.68,334.54 746.94,334.55 747.21,334.56 747.48,334.57 747.74,334.57 748.01,334.58 748.28,334.59 748.54,334.59 748.81,334.6 749.08,334.6 749.34,334.6 749.61,334.6 749.88,334.61 750.14,334.61 750.41,334.61 750.68,334.6 750.94,334.6 751.21,334.6 751.48,334.6 751.74,334.59 752.01,334.59 752.28,334.59 752.54,334.58 752.81,334.58 753.08,334.57 753.34,334.57 753.61,334.56 753.88,334.55 754.14,334.55 754.41,334.54 754.68,334.53 754.94,334.53 755.21,334.52 755.47,334.51 755.74,334.5 756.01,334.5 756.27,334.49 756.54,334.48 756.81,334.47 757.07,334.46 757.34,334.46 757.61,334.45 757.87,334.44 758.14,334.43 758.41,334.42 758.67,334.42 758.94,334.41 759.21,334.4 759.47,334.4 759.74,334.39 760.01,334.38 760.27,334.38 760.54,334.37 760.81,334.37 761.07,334.36 761.34,334.36 761.61,334.35 761.87,334.35 762.14,334.35 762.41,334.34 762.67,334.34 762.94,334.34 763.21,334.34 763.47,334.34 763.74,334.34 764.01,334.34 764.27,334.34 764.54,334.34 764.81,334.34 765.07,334.35 765.34,334.35 765.6,334.35 765.87,334.35 766.14,334.35 766.4,334.36 766.67,334.36 766.94,334.36 767.2,334.37 767.47,334.37 767.74,334.37 768,334.38 768.27,334.38 768.54,334.38 768.8,334.39 769.07,334.39 769.34,334.4 769.6,334.4 769.87,334.4 770.14,334.41 770.4,334.41 770.67,334.41 770.94,334.42 771.2,334.42 771.47,334.43 771.74,334.43 772,334.43 772.27,334.44 772.54,334.44 772.8,334.44 773.07,334.45 773.34,334.45 773.6,334.45 773.87,334.46 774.14,334.46 774.4,334.46 774.67,334.46 774.94,334.47 775.2,334.47 775.47,334.47 775.73,334.47 776,334.47 776.27,334.47 776.53,334.47 776.8,334.47 777.07,334.47 777.33,334.47 777.6,334.47 777.87,334.47 778.13,334.47 778.4,334.47 778.67,334.47 778.93,334.46 779.2,334.46 779.47,334.46 779.73,334.46 780,334.45 780.27,334.45 780.53,334.45 780.8,334.44 781.07,334.44 781.33,334.44 781.6,334.43 781.87,334.43 782.13,334.43 782.4,334.42 782.67,334.42 782.93,334.41 783.2,334.41 783.47,334.41 783.73,334.4 784,334.4 784.27,334.39 784.53,334.39 784.8,334.39 785.07,334.38 785.33,334.38 785.6,334.38 785.86,334.37 786.13,334.37 786.4,334.37 786.66,334.36 786.93,334.36 787.2,334.36 787.46,334.35 787.73,334.35 788,334.35 788.26,334.35 788.53,334.35 788.8,334.34 789.06,334.34 789.33,334.34 789.6,334.34 789.86,334.34 790.13,334.34 790.4,334.34 790.66,334.34 790.93,334.34 791.2,334.34 791.46,334.34 791.73,334.34 792,334.34 792.26,334.34 792.53,334.34 792.8,334.34 793.06,334.34 793.33,334.34 793.6,334.34 793.86,334.34 794.13,334.34 794.4,334.34 794.66,334.34 794.93,334.34 795.2,334.34 795.46,334.34 795.73,334.34 796,334.34 796.26,334.34 796.53,334.34 796.79,334.34 797.06,334.34 797.33,334.34 797.59,334.34 797.86,334.34 798.13,334.34 798.39,334.34 798.66,334.34 798.93,334.34 799.19,334.34 799.46,334.34 799.73,334.34 799.99,334.34 800.26,334.34 800.53,334.34 800.79,334.34 801.06,334.34 801.33,334.34 801.59,334.34 801.86,334.34 802.13,334.34 802.39,334.34 802.66,334.34 802.93,334.34 803.19,334.34 803.46,334.34 803.73,334.34 803.99,334.34 804.26,334.34 804.53,334.34 804.79,334.34 805.06,334.34 805.33,334.34 805.59,334.34 805.86,334.34 806.13,334.34 806.39,334.34 806.66,334.34 806.92,334.34 807.19,334.34 807.46,334.34 807.72,334.34 807.99,334.34 808.26,334.34 808.52,334.34 808.79,334.34 809.06,334.34 809.32,334.34 809.59,334.34 809.86,334.34 810.12,334.34 810.39,334.34 810.66,334.34 810.92,334.34 811.19,334.34 811.46,334.34 811.72,334.34 811.99,334.34 812.26,334.34 812.52,334.34 812.79,334.34 813.06,334.34 813.32,334.34 813.59,334.34 813.86,334.34 814.12,334.34 814.39,334.34 814.66,334.34 814.92,334.34 815.19,334.34 815.46,334.34 815.72,334.34 815.99,334.34 816.26,334.34 816.52,334.34 816.79,334.34 817.05,334.34 817.32,334.34 817.59,334.34 817.85,334.34 818.12,334.34" fill="none" stroke="#2a2ac2" stroke-width="1.2" stroke-linejoin="round" />
<polyline points="679.4,333.41 680.1,333.22 680.79,333.06 681.49,332.92 682.19,332.82 682.89,332.76 683.58,332.75 684.28,332.76 684.98,332.8 685.67,332.85 686.37,332.91 687.07,332.98 687.77,333.06 688.46,333.2 689.16,333.38 689.86,333.58 690.55,333.76 691.25,333.91 691.95,334.03 692.64,334.14 693.34,334.25 694.04,334.35 694.74,334.45 695.43,334.55 696.13,334.63 696.83,334.71 697.52,334.77 698.22,334.82 698.92,334.86 699.62,334.88 700.31,334.89 701.01,334.91 701.71,334.92 702.4,334.93 703.1,334.95 703.8,334.96 704.5,334.97 705.19,334.98 705.89,334.98 706.59,334.99 707.28,334.99 707.98,335 708.68,335 709.37,335 710.07,335 710.77,335 711.47,335 712.16,334.99 712.86,334.97 713.56,334.96 714.25,334.94 714.95,334.92 715.65,334.89 716.35,334.87 717.04,334.84 717.74,334.82 718.44,334.79 719.13,334.76 719.83,334.73 720.53,334.71 721.23,334.68 721.92,334.66 722.62,334.63 723.32,334.61 724.01,334.59 724.71,334.56 725.41,334.54 726.11,334.51 726.8,334.49 727.5,334.46 728.2,334.43 728.89,334.4 729.59,334.38 730.29,334.35 730.98,334.32 731.68,334.3 732.38,334.28 733.08,334.26 733.77,334.24 734.47,334.23 735.17,334.22 735.86,334.21 736.56,334.21 737.26,334.21 737.96,334.22 738.65,334.23 739.35,334.25 740.05,334.27 740.74,334.29 741.44,334.32 742.14,334.35 742.84,334.38 743.53,334.41 744.23,334.44 744.93,334.47 745.62,334.5 746.32,334.53 747.02,334.55 747.71,334.57 748.41,334.59 749.11,334.6 749.81,334.61 750.5,334.61 751.2,334.6 751.9,334.59 752.59,334.58 753.29,334.57 753.99,334.55 754.69,334.53 755.38,334.51 756.08,334.49 756.78,334.47 757.47,334.45 758.17,334.43 758.87,334.41 759.57,334.39 760.26,334.38 760.96,334.36 761.66,334.35 762.35,334.34 763.05,334.34 763.75,334.34 764.45,334.34 765.14,334.35 765.84,334.35 766.54,334.36 767.23,334.37 767.93,334.38 768.63,334.38 769.32,334.39 770.02,334.41 770.72,334.42 771.42,334.43 772.11,334.44 772.81,334.44 773.51,334.45 774.2,334.46 774.9,334.47 775.6,334.47 776.3,334.47 776.99,334.47 777.69,334.47 778.39,334.47 779.08,334.46 779.78,334.46 780.48,334.45 781.18,334.44 781.87,334.43 782.57,334.42 783.27,334.41 783.96,334.4 784.66,334.39 785.36,334.38 786.06,334.37 786.75,334.36 787.45,334.35 788.15,334.35 788.84,334.34 789.54,334.34 790.24,334.34 790.93,334.34 791.63,334.34 792.33,334.34 793.03,334.34 793.72,334.34 794.42,334.34 795.12,334.34 795.81,334.34 796.51,334.34 797.21,334.34 797.91,334.34 798.6,334.34 799.3,334.34 800,334.34 800.69,334.34 801.39,334.34 802.09,334.34 802.79,334.34 803.48,334.34 804.18,334.34 804.88,334.34 805.57,334.34 806.27,334.34 806.97,334.34 807.66,334.34 808.36,334.34 809.06,334.34 809.76,334.34 810.45,334.34 811.15,334.34 811.85,334.34 812.54,334.34 813.24,334.34 813.94,334.34 814.64,334.34 815.33,334.34 816.03,334.34 816.73,334.34 817.42,334.34 818.12,334.34" fill="none" stroke="#2020c8" stroke-width="1.8" stroke-linejoin="round" />
</g>
<rect x="594.7" y="299.5" width="223.6" height="87.1" fill="none" stroke="#4a4a4a" stroke-width="1.15"/>
<line x1="631.78" y1="386.6" x2="631.78" y2="382.1" stroke="#4a4a4a" stroke-width="1"/>
<line x1="631.78" y1="299.5" x2="631.78" y2="304" stroke="#4a4a4a" stroke-width="1"/>
<line x1="705.94" y1="386.6" x2="705.94" y2="382.1" stroke="#4a4a4a" stroke-width="1"/>
<line x1="705.94" y1="299.5" x2="705.94" y2="304" stroke="#4a4a4a" stroke-width="1"/>
<line x1="780.11" y1="386.6" x2="780.11" y2="382.1" stroke="#4a4a4a" stroke-width="1"/>
<line x1="780.11" y1="299.5" x2="780.11" y2="304" stroke="#4a4a4a" stroke-width="1"/>
<line x1="594.7" y1="321.77" x2="599.2" y2="321.77" stroke="#4a4a4a" stroke-width="1"/>
<line x1="818.3" y1="321.77" x2="813.8" y2="321.77" stroke="#4a4a4a" stroke-width="1"/>
<line x1="594.7" y1="343.55" x2="599.2" y2="343.55" stroke="#4a4a4a" stroke-width="1"/>
<line x1="818.3" y1="343.55" x2="813.8" y2="343.55" stroke="#4a4a4a" stroke-width="1"/>
<line x1="594.7" y1="365.33" x2="599.2" y2="365.33" stroke="#4a4a4a" stroke-width="1"/>
<line x1="818.3" y1="365.33" x2="813.8" y2="365.33" stroke="#4a4a4a" stroke-width="1"/>
<text transform="translate(593.1 303.7) scale(0.85 1)" text-anchor="end" font-size="10.4">1<tspan dx="-0.15">.</tspan><tspan dx="-0.15">5</tspan></text>
<text transform="translate(593.1 325.97) scale(0.85 1)" text-anchor="end" font-size="10.4">1</text>
<text transform="translate(593.1 347.75) scale(0.85 1)" text-anchor="end" font-size="10.4">0<tspan dx="-0.15">.</tspan><tspan dx="-0.15">5</tspan></text>
<text transform="translate(593.1 369.53) scale(0.85 1)" text-anchor="end" font-size="10.4">0</text>
<text transform="translate(593.1 390.8) scale(0.85 1)" text-anchor="end" font-size="10.4">−<tspan dx="0.9">0<tspan dx="-0.15">.</tspan><tspan dx="-0.15">5</tspan></tspan></text>
<text transform="translate(631.48 397.6) scale(0.85 1)" font-size="10.4">2</text>
<text transform="translate(705.64 397.6) scale(0.85 1)" font-size="10.4">4</text>
<text transform="translate(779.81 397.6) scale(0.85 1)" font-size="10.4">6</text>
<text x="706" y="412.4" font-size="10.4">t</text>
<text x="559" y="335.7" textLength="16.2" lengthAdjust="spacingAndGlyphs" font-size="10.4">Mg1</text>
<line x1="557" y1="341.2" x2="577" y2="341.2" stroke="#c22a2a" stroke-width="1.1"/>
<text x="559" y="353.8" textLength="16.2" lengthAdjust="spacingAndGlyphs" font-size="10.4">Mg2</text>
<line x1="557" y1="359.3" x2="577" y2="359.3" stroke="#2a2ac2" stroke-width="1.1"/>
<polyline points="56.5,463.5 58.04,462.83 59.58,462.19 61.13,461.59 62.67,461.04 64.21,460.53 65.75,460.08 67.29,459.64 68.84,459.22 70.38,458.83 71.92,458.49 73.46,458.21 75.01,458 76.55,457.84 78.09,457.68 79.63,457.54 81.17,457.4 82.72,457.28 84.26,457.18 85.8,457.1 87.34,457.04 88.88,457.01 90.43,457 91.97,457.01 93.51,457.02 95.05,457.04 96.59,457.07 98.14,457.1 99.68,457.14 101.22,457.18 102.76,457.23 104.3,457.28 105.85,457.34 107.39,457.4 108.93,457.47 110.47,457.58 112.02,457.73 113.56,457.9 115.1,458.1 116.64,458.32 118.18,458.55 119.73,458.8 121.27,459.06 122.81,459.32 124.35,459.58 125.89,459.84 127.44,460.1 128.98,460.34 130.52,460.58 132.06,460.82 133.6,461.07 135.15,461.33 136.69,461.6 138.23,461.86 139.77,462.13 141.31,462.4 142.86,462.66 144.4,462.91 145.94,463.15 147.48,463.37 149.03,463.58 150.57,463.77 152.11,463.95 153.65,464.13 155.19,464.3 156.74,464.47 158.28,464.64 159.82,464.8 161.36,464.95 162.9,465.09 164.45,465.22 165.99,465.34 167.53,465.45 169.07,465.55 170.61,465.63 172.16,465.72 173.7,465.8 175.24,465.88 176.78,465.94 178.32,465.98 179.87,466 181.41,465.95 182.95,465.81 184.49,465.61 186.04,465.39 187.58,465.19 189.12,465.04 190.66,464.98 192.2,464.94 193.75,464.9 195.29,464.87 196.83,464.85 198.37,464.82 199.91,464.8 201.46,464.79 203,464.77 204.54,464.75 206.08,464.74 207.62,464.72 209.17,464.7 210.71,464.68 212.25,464.65 213.79,464.63 215.33,464.59 216.88,464.55 218.42,464.5 219.96,464.44 221.5,464.38 223.05,464.31 224.59,464.23 226.13,464.15 227.67,464.07 229.21,463.98 230.76,463.9 232.3,463.81 233.84,463.73 235.38,463.65 236.92,463.57 238.47,463.5 240.01,463.43 241.55,463.37 243.09,463.32 244.63,463.27 246.18,463.24 247.72,463.21 249.26,463.2 250.8,463.2 252.34,463.2 253.89,463.21 255.43,463.22 256.97,463.23 258.51,463.24 260.06,463.25 261.6,463.27 263.14,463.29 264.68,463.31 266.22,463.33 267.77,463.35 269.31,463.38 270.85,463.41 272.39,463.44 273.93,463.47 275.48,463.5 277.02,463.53 278.56,463.57 280.1,463.6 281.64,463.65 283.19,463.72 284.73,463.81 286.27,463.91 287.81,464.03 289.35,464.16 290.9,464.31 292.44,464.46 293.98,464.63 295.52,464.8 297.07,464.98 298.61,465.16 300.15,465.35 301.69,465.54 303.23,465.72 304.78,465.91 306.32,466.09 307.86,466.27 309.4,466.44 310.94,466.6 312.49,466.77 314.03,466.93 315.57,467.11 317.11,467.28 318.65,467.45 320.2,467.63 321.74,467.81 323.28,467.99 324.82,468.17 326.36,468.35 327.91,468.54 329.45,468.72 330.99,468.91 332.53,469.1 334.08,469.28 335.62,469.47 337.16,469.66 338.7,469.84 340.24,470.03 341.79,470.22 343.33,470.4 344.87,470.59 346.41,470.77 347.95,470.96 349.5,471.15 351.04,471.34 352.58,471.53 354.12,471.73 355.66,471.92 357.21,472.13 358.75,472.33 360.29,472.54 361.83,472.76 363.37,472.99 364.92,473.23 366.46,473.48 368,473.73 369.54,473.98 371.09,474.22 372.63,474.47 374.17,474.71 375.71,474.94 377.25,475.15 378.8,475.35 380.34,475.54 381.88,475.73 383.42,475.92 384.96,476.12 386.51,476.32 388.05,476.51 389.59,476.69 391.13,476.87 392.67,477.02 394.22,477.15 395.76,477.26 397.3,477.34 398.84,477.39 400.38,477.4 401.93,477.4 403.47,477.39 405.01,477.37 406.55,477.36 408.1,477.34 409.64,477.31 411.18,477.28 412.72,477.25 414.26,477.21 415.81,477.18 417.35,477.14 418.89,477.09 420.43,477.05 421.97,477 423.52,476.94 425.06,476.86 426.6,476.76 428.14,476.64 429.68,476.5 431.23,476.34 432.77,476.18 434.31,476 435.85,475.81 437.39,475.61 438.94,475.41 440.48,475.21 442.02,475 443.56,474.74 445.11,474.4 446.65,474.01 448.19,473.6 449.73,473.18 451.27,472.79 452.82,472.46 454.36,472.19 455.9,472.04 457.44,472 458.98,472.01 460.53,472.04 462.07,472.08 463.61,472.13 465.15,472.18 466.69,472.25 468.24,472.32 469.78,472.39 471.32,472.47 472.86,472.55 474.4,472.65 475.95,472.77 477.49,472.91 479.03,473.07 480.57,473.24 482.12,473.42 483.66,473.62 485.2,473.82 486.74,474.03 488.28,474.25 489.83,474.46 491.37,474.68 492.91,474.9 494.45,475.11 495.99,475.31 497.54,475.5 499.08,475.69 500.62,475.86 502.16,476.02 503.7,476.17 505.25,476.33 506.79,476.49 508.33,476.66 509.87,476.83 511.41,477 512.96,477.16 514.5,477.33 516.04,477.49 517.58,477.64 519.13,477.78 520.67,477.92 522.21,478.04 523.75,478.16 525.29,478.26 526.84,478.34 528.38,478.41 529.92,478.46 531.46,478.49 533,478.51 534.55,478.52 536.09,478.53 537.63,478.55 539.17,478.56 540.71,478.57 542.26,478.57 543.8,478.58 545.34,478.59 546.88,478.59 548.42,478.6 549.97,478.6 551.51,478.6 553.05,478.59 554.59,478.57 556.14,478.53 557.68,478.46 559.22,478.39 560.76,478.3 562.3,478.19 563.85,478.08 565.39,477.96 566.93,477.83 568.47,477.69 570.01,477.56 571.56,477.42 573.1,477.28 574.64,477.15 576.18,477.02 577.72,476.9 579.27,476.78 580.81,476.67 582.35,476.58 583.89,476.49 585.43,476.39 586.98,476.3 588.52,476.21 590.06,476.11 591.6,476.02 593.15,475.93 594.69,475.84 596.23,475.75 597.77,475.66 599.31,475.58 600.86,475.5 602.4,475.42 603.94,475.34 605.48,475.26 607.02,475.2 608.57,475.13 610.11,475.07 611.65,475.01 613.19,474.96 614.73,474.9 616.28,474.85 617.82,474.79 619.36,474.74 620.9,474.69 622.44,474.66 623.99,474.63 625.53,474.61 627.07,474.6 628.61,474.61 630.16,474.64 631.7,474.68 633.24,474.73 634.78,474.8 636.32,474.88 637.87,474.97 639.41,475.07 640.95,475.18 642.49,475.29 644.03,475.4 645.58,475.52 647.12,475.64 648.66,475.75 650.2,475.87 651.74,475.98 653.29,476.09 654.83,476.21 656.37,476.33 657.91,476.45 659.45,476.58 661,476.71 662.54,476.85 664.08,476.99 665.62,477.13 667.17,477.29 668.71,477.44 670.25,477.6 671.79,477.77 673.33,477.94 674.88,478.11 676.42,478.3 677.96,478.48 679.5,478.68 681.04,478.87 682.59,479.08 684.13,479.31 685.67,479.57 687.21,479.85 688.75,480.16 690.3,480.47 691.84,480.8 693.38,481.14 694.92,481.48 696.46,481.81 698.01,482.15 699.55,482.47 701.09,482.79 702.63,483.08 704.18,483.36 705.72,483.61 707.26,483.84 708.8,484.06 710.34,484.29 711.89,484.52 713.43,484.75 714.97,484.97 716.51,485.18 718.05,485.38 719.6,485.56 721.14,485.71 722.68,485.84 724.22,485.93 725.76,485.99 727.31,486 728.85,485.99 730.39,485.96 731.93,485.91 733.47,485.85 735.02,485.78 736.56,485.7 738.1,485.6 739.64,485.51 741.19,485.4 742.73,485.3 744.27,485.19 745.81,485.08 747.35,484.98 748.9,484.85 750.44,484.71 751.98,484.55 753.52,484.37 755.06,484.18 756.61,483.98 758.15,483.78 759.69,483.57 761.23,483.37 762.77,483.16 764.32,482.97 765.86,482.78 767.4,482.61 768.94,482.45 770.48,482.31 772.03,482.2 773.57,482.09 775.11,481.98 776.65,481.88 778.2,481.77 779.74,481.67 781.28,481.58 782.82,481.5 784.36,481.43 785.91,481.37 787.45,481.33 788.99,481.3 790.53,481.3 792.07,481.31 793.62,481.33 795.16,481.36 796.7,481.4 798.24,481.45 799.78,481.5 801.33,481.57 802.87,481.67 804.41,481.9 805.95,482.24 807.49,482.66 809.04,483.13 810.58,483.59 812.12,484.03 813.66,484.46 815.21,484.9 816.75,485.35 818.29,485.83 819.83,486.31 821.37,486.81 822.92,487.33 824.46,487.86 826,488.4 821.5,490.3" fill="none" stroke="#bf3a3a" stroke-width="1.1" stroke-linejoin="round" />
<polyline points="56.5,469 58.04,469.85 59.58,470.68 61.13,471.5 62.67,472.31 64.21,473.11 65.75,473.89 67.29,474.67 68.84,475.43 70.38,476.18 71.92,476.93 73.46,477.67 75.01,478.4 76.55,479.11 78.09,479.79 79.63,480.45 81.17,481.08 82.72,481.7 84.26,482.31 85.8,482.89 87.34,483.44 88.88,483.95 90.43,484.43 91.97,484.89 93.51,485.35 95.05,485.78 96.59,486.17 98.14,486.5 99.68,486.76 101.22,486.95 102.76,487.14 104.3,487.31 105.85,487.48 107.39,487.63 108.93,487.75 110.47,487.86 112.02,487.94 113.56,487.98 115.1,488 116.64,487.95 118.18,487.82 119.73,487.65 121.27,487.48 122.81,487.32 124.35,487.22 125.89,487.19 127.44,487.16 128.98,487.14 130.52,487.12 132.06,487.1 133.6,487.08 135.15,487.07 136.69,487.06 138.23,487.04 139.77,487.03 141.31,487.02 142.86,487.02 144.4,487.01 145.94,487.01 147.48,487 149.03,487 150.57,487 152.11,487.01 153.65,487.02 155.19,487.03 156.74,487.05 158.28,487.08 159.82,487.11 161.36,487.14 162.9,487.18 164.45,487.22 165.99,487.27 167.53,487.32 169.07,487.37 170.61,487.42 172.16,487.51 173.7,487.62 175.24,487.77 176.78,487.93 178.32,488.11 179.87,488.3 181.41,488.51 182.95,488.72 184.49,488.93 186.04,489.15 187.58,489.39 189.12,489.65 190.66,489.94 192.2,490.24 193.75,490.56 195.29,490.88 196.83,491.22 198.37,491.56 199.91,491.91 201.46,492.25 203,492.59 204.54,492.92 206.08,493.25 207.62,493.55 209.17,493.85 210.71,494.13 212.25,494.4 213.79,494.68 215.33,494.96 216.88,495.24 218.42,495.51 219.96,495.79 221.5,496.05 223.05,496.31 224.59,496.57 226.13,496.81 227.67,497.05 229.21,497.27 230.76,497.49 232.3,497.69 233.84,497.87 235.38,498.04 236.92,498.21 238.47,498.38 240.01,498.55 241.55,498.72 243.09,498.89 244.63,499.05 246.18,499.21 247.72,499.35 249.26,499.49 250.8,499.62 252.34,499.73 253.89,499.82 255.43,499.9 256.97,499.95 258.51,499.99 260.06,500 261.6,499.99 263.14,499.97 264.68,499.93 266.22,499.87 267.77,499.81 269.31,499.73 270.85,499.65 272.39,499.55 273.93,499.45 275.48,499.34 277.02,499.23 278.56,499.11 280.1,498.99 281.64,498.85 283.19,498.68 284.73,498.47 286.27,498.24 287.81,497.99 289.35,497.71 290.9,497.42 292.44,497.11 293.98,496.79 295.52,496.46 297.07,496.13 298.61,495.8 300.15,495.47 301.69,495.12 303.23,494.75 304.78,494.36 306.32,493.94 307.86,493.52 309.4,493.08 310.94,492.63 312.49,492.17 314.03,491.72 315.57,491.26 317.11,490.82 318.65,490.38 320.2,489.95 321.74,489.52 323.28,489.1 324.82,488.67 326.36,488.25 327.91,487.83 329.45,487.4 330.99,486.98 332.53,486.55 334.08,486.13 335.62,485.71 337.16,485.28 338.7,484.86 340.24,484.43 341.79,484.01 343.33,483.59 344.87,483.17 346.41,482.75 347.95,482.33 349.5,481.9 351.04,481.48 352.58,481.06 354.12,480.64 355.66,480.21 357.21,479.78 358.75,479.35 360.29,478.92 361.83,478.46 363.37,477.99 364.92,477.5 366.46,477.02 368,476.56 369.54,476.12 371.09,475.72 372.63,475.37 374.17,475.06 375.71,474.75 377.25,474.46 378.8,474.18 380.34,473.91 381.88,473.66 383.42,473.42 384.96,473.2 386.51,472.99 388.05,472.81 389.59,472.64 391.13,472.49 392.67,472.33 394.22,472.18 395.76,472.03 397.3,471.89 398.84,471.75 400.38,471.62 401.93,471.51 403.47,471.41 405.01,471.33 406.55,471.26 408.1,471.22 409.64,471.2 411.18,471.2 412.72,471.21 414.26,471.21 415.81,471.23 417.35,471.24 418.89,471.26 420.43,471.28 421.97,471.3 423.52,471.35 425.06,471.45 426.6,471.59 428.14,471.77 429.68,471.97 431.23,472.18 432.77,472.39 434.31,472.6 435.85,472.79 437.39,472.96 438.94,473.09 440.48,473.17 442.02,473.2 443.56,473.19 445.11,473.17 446.65,473.13 448.19,473.09 449.73,473.03 451.27,472.96 452.82,472.88 454.36,472.79 455.9,472.69 457.44,472.59 458.98,472.48 460.53,472.37 462.07,472.26 463.61,472.14 465.15,472.02 466.69,471.9 468.24,471.78 469.78,471.66 471.32,471.55 472.86,471.44 474.4,471.31 475.95,471.18 477.49,471.04 479.03,470.89 480.57,470.74 482.12,470.58 483.66,470.42 485.2,470.25 486.74,470.08 488.28,469.91 489.83,469.74 491.37,469.57 492.91,469.4 494.45,469.23 495.99,469.07 497.54,468.92 499.08,468.77 500.62,468.62 502.16,468.49 503.7,468.35 505.25,468.2 506.79,468.05 508.33,467.89 509.87,467.74 511.41,467.58 512.96,467.43 514.5,467.28 516.04,467.14 517.58,467.02 519.13,466.9 520.67,466.8 522.21,466.72 523.75,466.66 525.29,466.62 526.84,466.6 528.38,466.61 529.92,466.66 531.46,466.74 533,466.85 534.55,466.97 536.09,467.12 537.63,467.28 539.17,467.45 540.71,467.63 542.26,467.82 543.8,468 545.34,468.18 546.88,468.34 548.42,468.5 549.97,468.64 551.51,468.77 553.05,468.87 554.59,468.98 556.14,469.09 557.68,469.19 559.22,469.3 560.76,469.41 562.3,469.52 563.85,469.62 565.39,469.73 566.93,469.82 568.47,469.92 570.01,470 571.56,470.08 573.1,470.16 574.64,470.22 576.18,470.28 577.72,470.33 579.27,470.36 580.81,470.39 582.35,470.4 583.89,470.41 585.43,470.42 586.98,470.43 588.52,470.44 590.06,470.44 591.6,470.45 593.15,470.46 594.69,470.47 596.23,470.47 597.77,470.48 599.31,470.48 600.86,470.49 602.4,470.49 603.94,470.49 605.48,470.49 607.02,470.5 608.57,470.5 610.11,470.5 611.65,470.5 613.19,470.5 614.73,470.49 616.28,470.49 617.82,470.48 619.36,470.46 620.9,470.44 622.44,470.42 623.99,470.4 625.53,470.38 627.07,470.35 628.61,470.32 630.16,470.29 631.7,470.25 633.24,470.22 634.78,470.18 636.32,470.15 637.87,470.11 639.41,470.07 640.95,470.03 642.49,469.99 644.03,469.93 645.58,469.87 647.12,469.8 648.66,469.72 650.2,469.62 651.74,469.53 653.29,469.42 654.83,469.31 656.37,469.19 657.91,469.07 659.45,468.95 661,468.83 662.54,468.71 664.08,468.58 665.62,468.46 667.17,468.34 668.71,468.23 670.25,468.12 671.79,468.01 673.33,467.91 674.88,467.79 676.42,467.67 677.96,467.54 679.5,467.41 681.04,467.28 682.59,467.15 684.13,467.03 685.67,466.9 687.21,466.79 688.75,466.69 690.3,466.6 691.84,466.52 693.38,466.46 694.92,466.42 696.46,466.4 698.01,466.4 699.55,466.4 701.09,466.41 702.63,466.42 704.18,466.43 705.72,466.44 707.26,466.46 708.8,466.48 710.34,466.5 711.89,466.52 713.43,466.54 714.97,466.56 716.51,466.59 718.05,466.63 719.6,466.71 721.14,466.83 722.68,466.99 724.22,467.18 725.76,467.39 727.31,467.62 728.85,467.86 730.39,468.12 731.93,468.38 733.47,468.63 735.02,468.88 736.56,469.12 738.1,469.35 739.64,469.55 741.19,469.72 742.73,469.87 744.27,470.01 745.81,470.16 747.35,470.31 748.9,470.46 750.44,470.6 751.98,470.75 753.52,470.89 755.06,471.03 756.61,471.16 758.15,471.28 759.69,471.4 761.23,471.51 762.77,471.61 764.32,471.69 765.86,471.76 767.4,471.82 768.94,471.86 770.48,471.89 772.03,471.9 773.57,471.9 775.11,471.9 776.65,471.9 778.2,471.9 779.74,471.9 781.28,471.9 782.82,471.9 784.36,471.9 785.91,471.9 787.45,471.9 788.99,471.9 790.53,471.9 792.07,471.9 793.62,471.9 795.16,471.9 796.7,471.9 798.24,471.9 799.78,471.9 801.33,471.9 802.87,471.9 804.41,471.87 805.95,471.83 807.49,471.77 809.04,471.7 810.58,471.61 812.12,471.5 813.66,471.38 815.21,471.26 816.75,471.12 818.29,470.98 819.83,470.83 821.37,470.67 822.92,470.52 824.46,470.36 826,470.2 821.5,474.2" fill="none" stroke="#3a3abf" stroke-width="1.1" stroke-linejoin="round" />
<rect x="51.2" y="433.4" width="775.2" height="93.3" fill="none" stroke="#4a4a4a" stroke-width="1.15"/>
<line x1="245" y1="526.7" x2="245" y2="522.2" stroke="#4a4a4a" stroke-width="1"/>
<line x1="245" y1="433.4" x2="245" y2="437.9" stroke="#4a4a4a" stroke-width="1"/>
<line x1="438.8" y1="526.7" x2="438.8" y2="522.2" stroke="#4a4a4a" stroke-width="1"/>
<line x1="438.8" y1="433.4" x2="438.8" y2="437.9" stroke="#4a4a4a" stroke-width="1"/>
<line x1="632.6" y1="526.7" x2="632.6" y2="522.2" stroke="#4a4a4a" stroke-width="1"/>
<line x1="632.6" y1="433.4" x2="632.6" y2="437.9" stroke="#4a4a4a" stroke-width="1"/>
<line x1="51.2" y1="456.73" x2="55.7" y2="456.73" stroke="#4a4a4a" stroke-width="1"/>
<line x1="826.4" y1="456.73" x2="821.9" y2="456.73" stroke="#4a4a4a" stroke-width="1"/>
<line x1="51.2" y1="480.05" x2="55.7" y2="480.05" stroke="#4a4a4a" stroke-width="1"/>
<line x1="826.4" y1="480.05" x2="821.9" y2="480.05" stroke="#4a4a4a" stroke-width="1"/>
<line x1="51.2" y1="503.38" x2="55.7" y2="503.38" stroke="#4a4a4a" stroke-width="1"/>
<line x1="826.4" y1="503.38" x2="821.9" y2="503.38" stroke="#4a4a4a" stroke-width="1"/>
<text transform="translate(49.9 437.6) scale(0.85 1)" text-anchor="end" font-size="10.4">0<tspan dx="-0.15">.</tspan><tspan dx="-0.15">8</tspan></text>
<text transform="translate(49.9 460.93) scale(0.85 1)" text-anchor="end" font-size="10.4">0<tspan dx="-0.15">.</tspan><tspan dx="-0.15">78</tspan></text>
<text transform="translate(49.9 484.25) scale(0.85 1)" text-anchor="end" font-size="10.4">0<tspan dx="-0.15">.</tspan><tspan dx="-0.15">76</tspan></text>
<text transform="translate(49.9 507.57) scale(0.85 1)" text-anchor="end" font-size="10.4">0<tspan dx="-0.15">.</tspan><tspan dx="-0.15">74</tspan></text>
<text transform="translate(49.9 530.9) scale(0.85 1)" text-anchor="end" font-size="10.4">0<tspan dx="-0.15">.</tspan><tspan dx="-0.15">72</tspan></text>
<text transform="translate(47.4 537.9) scale(0.85 1)" font-size="10.4">3<tspan dx="-0.15">.</tspan><tspan dx="-0.15">5</tspan></text>
<text transform="translate(244.6 537.9) scale(0.85 1)" font-size="10.4">4</text>
<text transform="translate(435 537.9) scale(0.85 1)" font-size="10.4">4<tspan dx="-0.15">.</tspan><tspan dx="-0.15">5</tspan></text>
<text transform="translate(632.2 537.9) scale(0.85 1)" font-size="10.4">5</text>
<text transform="translate(822.6 537.9) scale(0.85 1)" font-size="10.4">5<tspan dx="-0.15">.</tspan><tspan dx="-0.15">5</tspan></text>
<text x="430.8" y="551.6" textLength="18.5" lengthAdjust="spacingAndGlyphs" font-size="10.4">t2, t3</text>
<text x="8" y="473.2" textLength="27.6" lengthAdjust="spacingAndGlyphs" font-size="10.4">IA1max</text>
<line x1="6.6" y1="477.9" x2="24.6" y2="477.9" stroke="#bf3a3a" stroke-width="1.1"/>
<text x="8" y="491.4" textLength="27.6" lengthAdjust="spacingAndGlyphs" font-size="10.4">IA2max</text>
<line x1="6.6" y1="496.3" x2="24.6" y2="496.3" stroke="#3a3abf" stroke-width="1.1"/>
<rect x="43.4" y="584.9" width="775" height="93.2" fill="none" stroke="#4a4a4a" stroke-width="1.15"/>
<line x1="237.15" y1="678.1" x2="237.15" y2="673.6" stroke="#4a4a4a" stroke-width="1"/>
<line x1="237.15" y1="584.9" x2="237.15" y2="589.4" stroke="#4a4a4a" stroke-width="1"/>
<line x1="430.9" y1="678.1" x2="430.9" y2="673.6" stroke="#4a4a4a" stroke-width="1"/>
<line x1="430.9" y1="584.9" x2="430.9" y2="589.4" stroke="#4a4a4a" stroke-width="1"/>
<line x1="624.65" y1="678.1" x2="624.65" y2="673.6" stroke="#4a4a4a" stroke-width="1"/>
<line x1="624.65" y1="584.9" x2="624.65" y2="589.4" stroke="#4a4a4a" stroke-width="1"/>
<line x1="43.4" y1="631.5" x2="47.9" y2="631.5" stroke="#4a4a4a" stroke-width="1"/>
<line x1="818.4" y1="631.5" x2="813.9" y2="631.5" stroke="#4a4a4a" stroke-width="1"/>
<line x1="44" y1="631.6" x2="817.8" y2="631.6" stroke="#35dc35" stroke-width="1.25"/>
<polyline points="48.5,630 50.04,629.16 51.58,628.36 53.13,627.62 54.67,626.93 56.21,626.32 57.75,625.76 59.29,625.24 60.84,624.76 62.38,624.31 63.92,623.88 65.46,623.48 67.01,623.09 68.55,622.71 70.09,622.35 71.63,622.02 73.17,621.71 74.72,621.44 76.26,621.2 77.8,620.95 79.34,620.72 80.88,620.51 82.43,620.35 83.97,620.24 85.51,620.19 87.05,620.17 88.59,620.14 90.14,620.12 91.68,620.1 93.22,620.09 94.76,620.07 96.3,620.06 97.85,620.04 99.39,620.03 100.93,620.02 102.47,620.02 104.02,620.01 105.56,620.01 107.1,620 108.64,620 110.18,620 111.73,620.02 113.27,620.08 114.81,620.16 116.35,620.27 117.89,620.39 119.44,620.52 120.98,620.66 122.52,620.8 124.06,620.93 125.6,621.05 127.15,621.19 128.69,621.36 130.23,621.53 131.77,621.71 133.31,621.88 134.86,622.03 136.4,622.16 137.94,622.25 139.48,622.3 141.03,622.3 142.57,622.3 144.11,622.3 145.65,622.3 147.19,622.3 148.74,622.3 150.28,622.3 151.82,622.3 153.36,622.3 154.9,622.3 156.45,622.3 157.99,622.3 159.53,622.3 161.07,622.3 162.61,622.3 164.16,622.3 165.7,622.3 167.24,622.3 168.78,622.3 170.32,622.3 171.87,622.3 173.41,622.3 174.95,622.27 176.49,622.22 178.04,622.15 179.58,622.06 181.12,621.96 182.66,621.84 184.2,621.71 185.75,621.57 187.29,621.42 188.83,621.27 190.37,621.12 191.91,620.96 193.46,620.8 195,620.65 196.54,620.5 198.08,620.36 199.62,620.23 201.17,620.11 202.71,619.98 204.25,619.84 205.79,619.71 207.33,619.57 208.88,619.43 210.42,619.29 211.96,619.15 213.5,619.01 215.05,618.86 216.59,618.73 218.13,618.59 219.67,618.46 221.21,618.33 222.76,618.2 224.3,618.08 225.84,617.97 227.38,617.86 228.92,617.76 230.47,617.67 232.01,617.58 233.55,617.48 235.09,617.38 236.63,617.29 238.18,617.2 239.72,617.13 241.26,617.07 242.8,617.02 244.34,617 245.89,617 247.43,617.01 248.97,617.02 250.51,617.03 252.06,617.05 253.6,617.08 255.14,617.1 256.68,617.13 258.22,617.16 259.77,617.19 261.31,617.24 262.85,617.29 264.39,617.37 265.93,617.46 267.48,617.57 269.02,617.69 270.56,617.82 272.1,617.97 273.64,618.12 275.19,618.28 276.73,618.45 278.27,618.62 279.81,618.8 281.35,618.98 282.9,619.17 284.44,619.35 285.98,619.54 287.52,619.72 289.07,619.89 290.61,620.07 292.15,620.25 293.69,620.43 295.23,620.63 296.78,620.82 298.32,621.03 299.86,621.24 301.4,621.45 302.94,621.67 304.49,621.89 306.03,622.11 307.57,622.34 309.11,622.56 310.65,622.79 312.2,623.03 313.74,623.26 315.28,623.49 316.82,623.72 318.36,623.96 319.91,624.19 321.45,624.42 322.99,624.65 324.53,624.89 326.08,625.14 327.62,625.38 329.16,625.63 330.7,625.88 332.24,626.13 333.79,626.38 335.33,626.64 336.87,626.89 338.41,627.14 339.95,627.4 341.5,627.65 343.04,627.9 344.58,628.15 346.12,628.39 347.66,628.64 349.21,628.88 350.75,629.12 352.29,629.36 353.83,629.6 355.37,629.84 356.92,630.08 358.46,630.33 360,630.56 361.54,630.79 363.09,631.01 364.63,631.23 366.17,631.43 367.71,631.63 369.25,631.82 370.8,632.01 372.34,632.2 373.88,632.39 375.42,632.58 376.96,632.75 378.51,632.92 380.05,633.07 381.59,633.19 383.13,633.3 384.67,633.39 386.22,633.45 387.76,633.51 389.3,633.57 390.84,633.63 392.38,633.67 393.93,633.72 395.47,633.75 397.01,633.78 398.55,633.79 400.1,633.8 401.64,633.79 403.18,633.78 404.72,633.75 406.26,633.72 407.81,633.67 409.35,633.62 410.89,633.56 412.43,633.5 413.97,633.43 415.52,633.35 417.06,633.27 418.6,633.19 420.14,633.11 421.68,633.02 423.23,632.91 424.77,632.77 426.31,632.59 427.85,632.39 429.39,632.17 430.94,631.94 432.48,631.73 434.02,631.52 435.56,631.34 437.11,631.19 438.65,631.05 440.19,630.91 441.73,630.77 443.27,630.64 444.82,630.51 446.36,630.4 447.9,630.31 449.44,630.25 450.98,630.21 452.53,630.2 454.07,630.24 455.61,630.31 457.15,630.4 458.69,630.51 460.24,630.62 461.78,630.74 463.32,630.9 464.86,631.08 466.4,631.28 467.95,631.48 469.49,631.68 471.03,631.88 472.57,632.07 474.12,632.26 475.66,632.45 477.2,632.66 478.74,632.86 480.28,633.07 481.83,633.27 483.37,633.48 484.91,633.68 486.45,633.88 487.99,634.08 489.54,634.26 491.08,634.44 492.62,634.6 494.16,634.76 495.7,634.9 497.25,635.02 498.79,635.14 500.33,635.26 501.87,635.38 503.41,635.5 504.96,635.62 506.5,635.73 508.04,635.84 509.58,635.94 511.13,636.04 512.67,636.13 514.21,636.2 515.75,636.27 517.29,636.32 518.84,636.37 520.38,636.39 521.92,636.4 523.46,636.39 525,636.37 526.55,636.34 528.09,636.3 529.63,636.25 531.17,636.18 532.71,636.11 534.26,636.04 535.8,635.95 537.34,635.87 538.88,635.78 540.42,635.68 541.97,635.59 543.51,635.49 545.05,635.39 546.59,635.3 548.14,635.21 549.68,635.12 551.22,635.04 552.76,634.96 554.3,634.88 555.85,634.8 557.39,634.72 558.93,634.63 560.47,634.55 562.01,634.46 563.56,634.38 565.1,634.29 566.64,634.2 568.18,634.11 569.72,634.03 571.27,633.94 572.81,633.86 574.35,633.78 575.89,633.7 577.43,633.62 578.98,633.54 580.52,633.47 582.06,633.4 583.6,633.33 585.15,633.25 586.69,633.17 588.23,633.09 589.77,633.01 591.31,632.93 592.86,632.85 594.4,632.78 595.94,632.71 597.48,632.65 599.02,632.6 600.57,632.56 602.11,632.52 603.65,632.51 605.19,632.5 606.73,632.5 608.28,632.5 609.82,632.51 611.36,632.52 612.9,632.52 614.44,632.53 615.99,632.55 617.53,632.56 619.07,632.57 620.61,632.59 622.16,632.6 623.7,632.63 625.24,632.68 626.78,632.74 628.32,632.83 629.87,632.93 631.41,633.04 632.95,633.16 634.49,633.29 636.03,633.43 637.58,633.58 639.12,633.74 640.66,633.89 642.2,634.05 643.74,634.21 645.29,634.37 646.83,634.52 648.37,634.67 649.91,634.82 651.45,634.95 653,635.08 654.54,635.22 656.08,635.35 657.62,635.49 659.17,635.63 660.71,635.77 662.25,635.91 663.79,636.05 665.33,636.19 666.88,636.34 668.42,636.48 669.96,636.62 671.5,636.75 673.04,636.89 674.59,637.02 676.13,637.15 677.67,637.27 679.21,637.39 680.75,637.51 682.3,637.62 683.84,637.73 685.38,637.85 686.92,637.96 688.46,638.07 690.01,638.18 691.55,638.29 693.09,638.39 694.63,638.48 696.18,638.56 697.72,638.63 699.26,638.68 700.8,638.72 702.34,638.76 703.89,638.79 705.43,638.83 706.97,638.85 708.51,638.88 710.05,638.89 711.6,638.9 713.14,638.89 714.68,638.86 716.22,638.81 717.76,638.73 719.31,638.64 720.85,638.53 722.39,638.41 723.93,638.28 725.47,638.13 727.02,637.98 728.56,637.83 730.1,637.67 731.64,637.51 733.19,637.36 734.73,637.2 736.27,637.06 737.81,636.92 739.35,636.79 740.9,636.67 742.44,636.57 743.98,636.47 745.52,636.37 747.06,636.26 748.61,636.15 750.15,636.04 751.69,635.93 753.23,635.82 754.77,635.71 756.32,635.61 757.86,635.51 759.4,635.42 760.94,635.33 762.48,635.25 764.03,635.18 765.57,635.12 767.11,635.07 768.65,635.03 770.2,635.01 771.74,635 773.28,635 774.82,635 776.36,635.01 777.91,635.01 779.45,635.02 780.99,635.02 782.53,635.03 784.07,635.04 785.62,635.06 787.16,635.07 788.7,635.08 790.24,635.1 791.78,635.12 793.33,635.14 794.87,635.17 796.41,635.19 797.95,635.23 799.49,635.36 801.04,635.55 802.58,635.79 804.12,636.06 805.66,636.36 807.21,636.65 808.75,636.94 810.29,637.25 811.83,637.59 813.37,637.96 814.92,638.36 816.46,638.77 818,639.2" fill="none" stroke="#bf3a3a" stroke-width="1.1" stroke-linejoin="round" />
<text transform="translate(41.6 588.9) scale(0.85 1)" text-anchor="end" font-size="10.4">0<tspan dx="-0.15">.</tspan><tspan dx="-0.15">1</tspan></text>
<text transform="translate(41.8 635.8) scale(0.85 1)" text-anchor="end" font-size="10.4">0</text>
<text transform="translate(41.6 682.4) scale(0.85 1)" text-anchor="end" font-size="10.4">−<tspan dx="0.9">0<tspan dx="-0.15">.</tspan><tspan dx="-0.15">1</tspan></tspan></text>
<text transform="translate(38.8 688.8) scale(0.85 1)" font-size="10.4">3<tspan dx="-0.15">.</tspan><tspan dx="-0.15">5</tspan></text>
<text transform="translate(236.75 688.8) scale(0.85 1)" font-size="10.4">4</text>
<text transform="translate(426.3 688.8) scale(0.85 1)" font-size="10.4">4<tspan dx="-0.15">.</tspan><tspan dx="-0.15">5</tspan></text>
<text transform="translate(624.25 688.8) scale(0.85 1)" font-size="10.4">5</text>
<text transform="translate(813.8 688.8) scale(0.85 1)" font-size="10.4">5<tspan dx="-0.15">.</tspan><tspan dx="-0.15">5</tspan></text>
<text x="428.6" y="703.3" textLength="7.4" lengthAdjust="spacingAndGlyphs" font-size="10.4">t2</text>
<text x="7.9" y="635.2" textLength="12.9" lengthAdjust="spacingAndGlyphs" font-size="10.4">Ires</text>
<line x1="6.9" y1="640" x2="24.7" y2="640" stroke="#bf3a3a" stroke-width="1.1"/>
</svg>
</body>
</html>
